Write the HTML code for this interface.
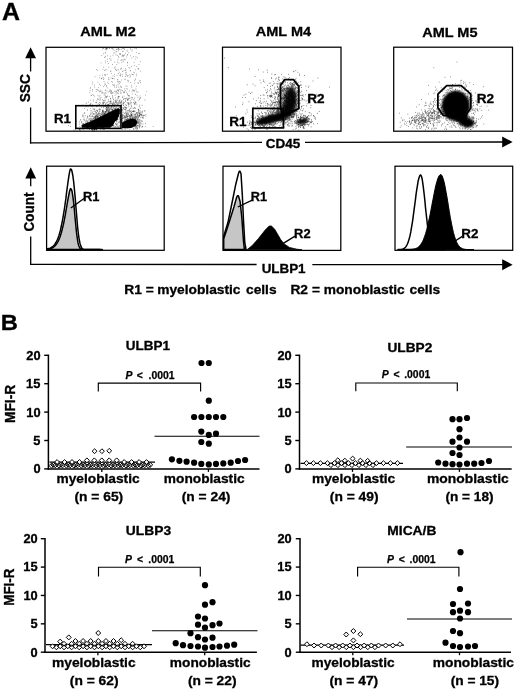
<!DOCTYPE html>
<html><head><meta charset="utf-8"><title>Figure</title>
<style>html,body{margin:0;padding:0;background:#fff}svg{display:block}text{font-family:"Liberation Sans",Arial,Helvetica,sans-serif;font-weight:bold;fill:#000}</style>
</head><body>
<svg width="520" height="689" viewBox="0 0 520 689">
<rect width="520" height="689" fill="#fff"/>
<text transform="translate(2.03,19.5) scale(1.07,1)" font-size="23.29" stroke="#000" stroke-width="0.3">A</text>
<text transform="translate(0.75,330) scale(1.07,1)" font-size="22.22" stroke="#000" stroke-width="0.3">B</text>
<text transform="translate(80.29,36.2) scale(1.07,1)" font-size="13.61" stroke="#000" stroke-width="0.3">AML M2</text>
<text transform="translate(255.79,36.2) scale(1.07,1)" font-size="13.56" stroke="#000" stroke-width="0.3">AML M4</text>
<text transform="translate(422.19,36.6) scale(1.07,1)" font-size="13.56" stroke="#000" stroke-width="0.3">AML M5</text>
<path d="M120.5 115.4h.7M106.9 126.1h.7M109.8 102.1h.7M105.5 126.1h.7M105.2 69.8h.7M118.0 91.2h.7M139.7 96.0h.7M108.1 126.6h.7M129.7 124.9h.7M118.1 122.7h.7M117.6 90.1h.7M91.9 126.3h.7M106.3 85.9h.7M103.8 95.2h.7M118.0 73.6h.7M129.9 100.6h.7M140.0 80.8h.7M126.1 124.9h.7M82.3 123.8h.7M94.4 87.2h.7M99.4 116.0h.7M92.4 94.4h.7M126.9 55.3h.7M117.4 126.3h.7M119.4 89.3h.7M102.5 111.4h.7M89.4 126.9h.7M126.8 124.9h.7M103.7 124.6h.7M116.4 64.5h.7M124.3 98.5h.7M102.8 118.0h.7M100.7 62.9h.7M94.1 123.8h.7M116.3 120.3h.7M106.3 118.9h.7M131.3 112.5h.7M108.0 101.4h.7M135.9 86.4h.7M120.4 75.2h.7M120.0 110.4h.7M92.1 126.3h.7M83.2 123.4h.7M85.3 127.0h.7M133.7 112.9h.7M101.8 92.5h.7M89.8 113.9h.7M108.5 67.2h.7M89.8 105.4h.7M95.7 125.4h.7M96.1 69.6h.7M127.3 54.5h.7M124.1 126.8h.7M118.2 50.9h.7M127.8 112.6h.7M104.7 99.9h.7M129.9 115.0h.7M126.6 50.0h.7M117.5 79.7h.7M84.4 113.4h.7M122.7 118.0h.7M138.4 53.8h.7M104.8 49.6h.7M96.1 112.8h.7M118.2 122.0h.7M104.9 60.9h.7M125.1 73.0h.7M121.2 59.7h.7M101.2 78.5h.7M131.6 74.2h.7M116.4 51.8h.7M122.4 55.0h.7M116.8 123.8h.7M132.9 72.2h.7M113.7 50.6h.7M139.2 124.5h.7M127.2 89.1h.7M135.6 56.7h.7M106.5 69.9h.7M116.5 117.2h.7M89.1 119.0h.7M117.6 59.7h.7M90.7 95.4h.7M126.8 102.5h.7M110.4 100.7h.7M128.8 122.6h.7M124.3 123.0h.7M115.0 97.8h.7M126.4 97.9h.7M127.3 119.6h.7M123.4 102.0h.7M102.8 77.5h.7M119.5 102.2h.7M117.6 84.7h.7M105.0 104.5h.7M122.4 55.6h.7M101.4 55.5h.7M106.8 124.3h.7M83.8 126.1h.7M120.9 87.1h.7M112.3 82.2h.7M120.0 124.1h.7M119.6 54.3h.7M119.5 49.4h.7M111.4 123.4h.7M101.1 114.4h.7M119.0 81.6h.7M103.2 107.4h.7M146.5 91.6h.7M129.6 74.3h.7M81.9 125.3h.7M99.6 75.3h.7M116.7 108.8h.7M100.7 123.9h.7M117.8 96.6h.7M94.3 85.1h.7M121.6 56.1h.7M134.3 72.8h.7M97.9 126.2h.7M117.2 98.1h.7M112.8 118.6h.7M90.6 120.1h.7M98.4 126.5h.7M107.5 116.5h.7M81.3 122.8h.7M125.0 119.5h.7M112.6 98.3h.7M133.3 56.6h.7M131.6 108.0h.7M127.2 110.8h.7M103.9 85.2h.7M134.0 83.2h.7M86.8 110.0h.7M125.1 124.5h.7M86.2 119.2h.7M114.2 68.1h.7M108.6 119.9h.7M96.0 123.6h.7M113.6 53.1h.7M139.1 98.7h.7M82.1 116.2h.7M112.3 111.6h.7M121.5 121.8h.7M81.9 125.7h.7M93.5 126.9h.7M114.7 95.2h.7M111.9 78.5h.7M140.1 111.1h.7M82.5 123.9h.7M132.5 89.7h.7M117.2 62.0h.7M85.1 124.2h.7M121.3 102.3h.7M93.1 95.3h.7M116.1 85.7h.7M86.1 124.4h.7M120.7 68.8h.7M109.2 91.2h.7M95.2 127.0h.7M100.9 78.7h.7M105.6 126.2h.7M97.0 119.4h.7M128.2 80.8h.7M115.7 51.2h.7M115.0 104.4h.7M97.0 89.7h.7M92.3 119.3h.7M116.2 116.5h.7M111.6 118.5h.7M112.4 84.7h.7M91.6 105.5h.7M140.0 61.7h.7M118.1 56.4h.7M130.1 70.6h.7M96.5 106.7h.7M123.4 55.2h.7M117.5 124.1h.7M116.2 70.6h.7M121.5 62.6h.7M85.7 103.8h.7M102.3 103.4h.7M99.1 124.2h.7M129.6 68.2h.7M137.6 68.4h.7M140.1 82.5h.7M105.0 117.4h.7M87.5 118.2h.7M138.0 68.9h.7M111.7 119.6h.7M138.3 122.3h.7M127.1 62.9h.7M128.9 90.9h.7M127.8 81.9h.7M107.0 106.6h.7M92.0 89.6h.7M118.5 57.6h.7M125.8 114.1h.7M126.9 51.2h.7M105.0 116.7h.7M135.3 123.4h.7M135.8 102.9h.7M106.5 48.5h.7M101.1 122.2h.7M95.3 125.7h.7M118.8 96.7h.7M112.6 78.6h.7M104.8 100.7h.7M139.0 126.3h.7M91.3 124.7h.7M95.6 121.2h.7M138.4 110.4h.7M103.4 67.2h.7M123.0 126.9h.7M122.9 61.5h.7M136.5 127.0h.7M125.7 70.0h.7M111.6 125.2h.7M114.2 85.8h.7M117.5 81.6h.7M129.2 98.3h.7M95.9 120.4h.7M96.0 89.5h.7M108.9 119.4h.7M103.6 126.1h.7M99.7 95.4h.7M104.2 93.8h.7M96.7 105.8h.7M99.0 104.7h.7M104.9 53.2h.7M111.4 116.4h.7M103.3 86.6h.7M116.0 87.3h.7M122.4 114.5h.7M114.3 122.0h.7M124.7 79.7h.7M145.6 116.1h.7M126.6 120.5h.7M102.7 117.1h.7M120.8 120.8h.7M115.6 54.8h.7M111.0 121.3h.7M83.5 124.1h.7M128.0 110.8h.7M111.1 48.3h.7M137.2 115.0h.7M124.7 79.0h.7M102.4 111.8h.7M97.1 123.1h.7M136.2 113.6h.7M130.2 121.6h.7M97.0 70.4h.7M136.5 104.8h.7M134.8 122.2h.7M129.3 126.8h.7M94.7 76.7h.7M135.5 126.3h.7M121.0 119.2h.7M103.9 118.3h.7M126.2 92.2h.7M82.3 115.8h.7M99.3 77.9h.7M108.5 126.9h.7M103.3 53.7h.7M108.1 111.3h.7M122.6 103.2h.7M134.8 79.8h.7M112.6 76.0h.7M122.2 113.0h.7M125.8 125.9h.7M83.1 119.7h.7M139.9 98.2h.7M118.5 63.0h.7M123.1 125.5h.7M108.1 106.9h.7M119.8 91.9h.7M113.8 78.8h.7M121.2 68.2h.7M106.3 112.2h.7M95.3 121.9h.7M99.6 123.7h.7M106.8 110.6h.7M130.5 102.1h.7M125.9 88.7h.7M125.0 70.7h.7M110.6 59.2h.7M139.3 124.9h.7M97.6 95.4h.7M128.5 106.7h.7M124.0 55.2h.7M108.0 92.0h.7M95.4 124.2h.7M131.9 93.9h.7M100.3 121.7h.7M106.2 86.2h.7M106.0 121.7h.7M113.3 125.4h.7M97.7 90.1h.7M105.1 84.4h.7M110.0 116.4h.7M102.8 116.1h.7M126.9 65.4h.7M125.2 112.8h.7M135.0 121.7h.7M90.3 108.6h.7M85.7 105.8h.7M128.1 98.3h.7M124.7 59.7h.7M118.6 112.4h.7M121.7 100.9h.7M129.0 125.2h.7M105.0 52.4h.7M116.8 55.5h.7M136.9 57.7h.7M115.3 91.9h.7M113.0 123.5h.7M128.6 67.5h.7M104.5 122.6h.7M92.9 101.2h.7M114.2 119.7h.7M112.0 97.3h.7M124.1 126.7h.7M125.2 98.4h.7M116.4 116.4h.7M99.5 108.5h.7M115.0 126.9h.7M127.9 103.5h.7M102.0 75.2h.7M92.3 104.9h.7M109.3 108.1h.7M121.0 101.8h.7M113.1 125.9h.7M93.5 126.4h.7M129.1 111.9h.7M134.5 48.5h.7M140.2 71.2h.7M119.8 103.4h.7M114.1 74.3h.7M125.9 126.2h.7M106.5 123.5h.7M135.7 124.1h.7M109.4 58.5h.7M87.9 102.2h.7M137.1 122.6h.7M125.6 86.0h.7M131.6 125.0h.7M134.4 90.4h.7M118.3 97.9h.7M118.0 48.9h.7M108.6 110.8h.7M128.4 95.9h.7M126.5 107.3h.7M152.8 126.5h.7M129.0 119.3h.7M90.1 87.6h.7M117.2 126.8h.7M110.9 108.0h.7M107.2 61.5h.7M89.8 88.7h.7M103.6 113.4h.7M103.0 120.8h.7M95.9 91.6h.7M105.0 56.3h.7M105.2 125.5h.7M112.2 64.5h.7M116.4 127.0h.7M122.0 97.3h.7M111.8 107.1h.7M120.6 60.5h.7M87.1 109.9h.7M119.6 75.3h.7M107.2 55.8h.7M105.7 93.1h.7M119.8 89.9h.7M134.5 116.8h.7M125.5 74.9h.7M109.5 127.0h.7M103.3 79.5h.7M81.9 125.3h.7M96.8 114.7h.7M113.8 84.4h.7M129.6 98.1h.7M121.4 100.7h.7M136.0 52.6h.7M93.7 126.9h.7M108.2 79.2h.7M135.2 79.0h.7M135.6 115.1h.7M98.4 90.9h.7M82.6 105.2h.7M99.1 84.2h.7M98.8 96.6h.7M136.3 91.7h.7M86.3 124.0h.7M104.5 57.3h.7M122.0 126.8h.7M122.3 90.6h.7M121.0 80.0h.7M123.7 112.9h.7M83.3 126.2h.7M124.6 59.1h.7M131.6 125.1h.7M122.2 71.6h.7M116.8 70.0h.7M116.5 125.5h.7M106.1 121.7h.7M96.5 126.9h.7M107.4 82.3h.7M128.1 52.8h.7M106.1 126.8h.7M126.9 76.0h.7M133.5 99.5h.7M94.6 125.7h.7M92.4 123.1h.7M129.6 77.2h.7M113.7 103.4h.7M101.3 122.5h.7M138.4 69.2h.7M123.1 117.7h.7M120.9 102.8h.7M102.1 125.9h.7M109.9 91.2h.7M90.5 110.7h.7M119.6 125.8h.7M112.6 118.8h.7M134.6 102.6h.7M112.8 120.3h.7M110.6 78.1h.7M131.8 115.2h.7M106.9 87.8h.7M127.2 123.1h.7M112.3 95.8h.7M105.3 62.8h.7M115.8 116.7h.7M99.9 123.6h.7M104.2 100.8h.7M104.0 122.3h.7M139.2 80.9h.7M140.0 125.4h.7M111.0 73.5h.7M99.9 90.2h.7M106.4 111.2h.7M120.2 74.0h.7M106.6 102.6h.7M127.4 93.5h.7M122.5 60.0h.7M103.6 78.7h.7M117.7 81.6h.7M126.9 75.9h.7M105.5 89.9h.7M110.8 91.2h.7M104.2 74.9h.7M111.0 91.0h.7M96.7 106.3h.7M126.3 57.1h.7M116.7 75.4h.7M122.3 51.4h.7M121.7 123.5h.7M130.0 55.8h.7M123.4 99.2h.7M120.7 101.7h.7M98.5 109.6h.7M92.6 121.4h.7M125.1 124.8h.7M98.8 113.4h.7M107.6 110.4h.7M106.4 108.9h.7M119.5 120.8h.7M123.2 55.9h.7M90.9 110.9h.7M136.3 75.6h.7M118.3 90.6h.7M99.1 120.7h.7M129.8 70.8h.7M115.7 105.3h.7M93.7 124.7h.7M96.5 118.6h.7M84.3 108.5h.7M103.7 81.6h.7M107.2 116.7h.7M133.3 90.3h.7M114.7 112.9h.7M115.1 69.7h.7M133.0 74.8h.7M89.7 90.7h.7M120.1 54.4h.7M127.3 124.1h.7M135.4 114.0h.7M135.9 73.9h.7M120.3 93.1h.7M120.8 87.2h.7M85.1 122.0h.7M90.0 100.1h.7M99.7 98.0h.7M83.4 124.2h.7M112.5 105.3h.7M123.2 102.8h.7M133.9 65.5h.7M100.7 105.3h.7M138.7 112.1h.7M87.0 126.0h.7M120.8 90.4h.7M100.0 85.7h.7M135.4 101.8h.7M144.9 126.7h.7M133.8 91.4h.7M113.5 112.7h.7M114.0 76.3h.7M117.5 108.7h.7M118.1 69.7h.7M101.2 118.4h.7M122.7 51.3h.7M116.7 115.8h.7M104.9 90.5h.7M123.3 126.7h.7M79.5 126.5h.7M99.2 122.3h.7M121.1 93.0h.7M89.4 92.7h.7M100.3 91.3h.7M99.0 121.3h.7M119.4 106.1h.7M115.3 126.7h.7M107.1 59.2h.7M132.0 74.5h.7M106.4 119.1h.7M119.9 115.7h.7M122.7 56.7h.7M129.3 126.7h.7M112.4 96.1h.7M112.9 111.3h.7M110.1 56.2h.7M112.4 125.4h.7M81.5 121.3h.7M136.5 127.0h.7M135.4 125.7h.7M123.8 124.6h.7M112.7 119.9h.7M120.3 75.9h.7M130.9 66.4h.7M137.6 82.9h.7M120.7 119.3h.7M92.2 82.1h.7M124.1 88.9h.7M134.2 80.8h.7M105.9 103.8h.7M123.7 96.2h.7M116.2 124.0h.7M102.5 112.9h.7M102.3 111.4h.7M112.7 55.3h.7M105.3 126.3h.7M108.4 83.6h.7M131.6 51.0h.7M110.9 93.7h.7M127.1 62.4h.7M118.1 93.7h.7M105.2 127.0h.7M105.2 95.1h.7M133.7 62.5h.7M110.1 71.6h.7M114.8 66.9h.7M113.0 85.5h.7M118.3 98.1h.7M119.9 121.9h.7M111.1 93.2h.7M99.3 105.5h.7M112.2 78.4h.7M118.8 72.2h.7M133.6 120.4h.7M118.5 100.9h.7M91.3 122.3h.7M119.2 83.8h.7M96.0 110.2h.7M140.8 123.9h.7M119.7 112.2h.7M121.9 74.4h.7M115.2 114.1h.7M121.1 49.3h.7M111.6 103.8h.7M135.0 108.5h.7M125.1 76.6h.7M90.3 126.7h.7M113.7 125.8h.7M138.6 64.6h.7M123.6 59.7h.7M138.7 110.5h.7M108.7 119.1h.7M109.5 89.9h.7M139.1 106.8h.7M102.2 49.1h.7M135.2 119.2h.7M110.6 60.4h.7M105.0 126.6h.7M106.3 49.9h.7M101.5 78.0h.7M120.3 86.3h.7M108.4 77.7h.7M110.0 119.2h.7M88.8 123.2h.7M126.7 86.2h.7M136.6 122.1h.7M130.1 121.0h.7M85.7 124.2h.7M104.6 57.3h.7M106.7 91.1h.7M123.8 70.3h.7M83.3 124.1h.7M130.2 82.5h.7M90.6 118.7h.7M132.8 118.4h.7M111.2 114.7h.7M139.5 115.7h.7M135.7 126.4h.7M114.4 87.2h.7M93.6 117.6h.7M142.0 112.8h.7M134.6 125.5h.7M109.7 126.4h.7M135.7 117.2h.7M82.6 114.3h.7M120.0 69.2h.7M135.7 122.5h.7M116.4 121.1h.7M122.3 76.3h.7M85.7 122.0h.7M102.8 93.0h.7M104.2 121.6h.7M91.3 95.4h.7M127.4 80.4h.7M85.3 126.4h.7M121.9 114.7h.7M97.7 126.9h.7M112.3 104.6h.7M102.6 69.3h.7M120.4 112.3h.7M94.0 127.0h.7M115.9 124.8h.7M110.6 71.0h.7M130.8 111.7h.7M125.8 126.3h.7M109.4 101.6h.7M139.2 99.5h.7M86.9 120.8h.7M117.1 119.5h.7M91.9 84.0h.7M115.6 93.9h.7M133.7 100.8h.7M97.6 82.1h.7M128.6 103.2h.7M105.6 117.9h.7M115.4 124.3h.7M109.0 96.4h.7M123.2 123.3h.7M107.6 108.9h.7M137.8 100.5h.7M104.8 75.6h.7M139.9 114.7h.7M125.8 72.4h.7M85.1 126.5h.7M120.3 53.6h.7M116.6 90.7h.7M110.4 126.2h.7M139.1 126.9h.7M128.5 75.6h.7M133.4 90.7h.7M90.6 126.7h.7M108.7 118.7h.7M131.6 57.9h.7M80.5 119.5h.7M120.1 117.5h.7M124.2 124.8h.7M119.0 53.8h.7M93.3 99.8h.7M104.6 124.5h.7M86.9 117.5h.7M127.6 98.7h.7M110.1 92.9h.7M118.5 82.8h.7M104.8 92.6h.7M111.7 119.9h.7M105.0 111.5h.7M132.4 127.0h.7M99.8 120.1h.7M131.8 49.7h.7M133.1 123.5h.7M106.4 107.4h.7M113.3 107.4h.7M138.5 125.2h.7M108.6 79.8h.7M92.7 113.6h.7M104.2 70.5h.7M117.3 79.8h.7M105.1 74.7h.7M135.4 59.1h.7M95.8 127.0h.7M114.6 52.9h.7M124.8 109.1h.7M109.7 111.8h.7M110.9 81.5h.7M104.5 97.9h.7M106.8 74.4h.7M95.9 102.7h.7M115.9 116.6h.7M136.7 95.6h.7M129.4 115.4h.7M135.6 121.7h.7M114.0 127.0h.7M86.4 102.9h.7M130.2 76.0h.7M113.4 101.2h.7M117.7 111.1h.7M104.6 113.7h.7M104.1 125.5h.7M100.8 97.4h.7M108.0 63.5h.7M116.0 91.5h.7M115.1 114.2h.7M104.1 115.7h.7M135.0 69.9h.7M131.4 85.0h.7M116.1 49.3h.7M115.1 117.4h.7M95.9 102.3h.7M92.3 91.0h.7M110.5 90.3h.7M126.4 74.4h.7M131.2 127.0h.7M145.1 95.1h.7M113.9 122.0h.7M65.7 118.7h.7M94.1 96.2h.7M101.1 123.6h.7M90.0 125.2h.7M96.6 100.8h.7M126.8 126.3h.7M95.8 115.4h.7M98.3 113.5h.7M98.9 125.4h.7M87.7 106.7h.7M114.5 62.1h.7M125.2 53.3h.7M136.9 119.6h.7M136.4 66.5h.7M122.5 71.1h.7M138.9 53.3h.7M124.1 119.9h.7M133.5 120.9h.7M113.5 104.0h.7M139.3 113.2h.7M119.7 117.3h.7M99.6 125.0h.7M130.2 126.2h.7M93.9 113.7h.7M83.7 117.7h.7M97.9 87.6h.7M104.6 83.3h.7M115.5 68.9h.7M125.1 68.7h.7M124.1 123.5h.7" stroke="#555" stroke-width="0.65" fill="none" opacity="1"/>
<path d="M113.0 125.2h.7M93.3 122.3h.7M95.9 121.9h.7M97.1 116.4h.7M110.8 109.3h.7M96.8 123.6h.7M94.3 119.6h.7M104.0 115.0h.7M87.4 124.8h.7M102.4 127.0h.7M91.4 128.6h.7M91.8 121.2h.7M98.1 121.4h.7M114.0 121.3h.7M97.1 127.7h.7M113.4 116.6h.7M94.8 126.5h.7M100.6 120.6h.7M99.6 122.8h.7M115.4 117.3h.7M101.0 123.9h.7M114.5 106.6h.7M113.8 104.8h.7M108.1 118.1h.7M117.5 111.6h.7M94.1 117.7h.7M89.3 128.6h.7M96.9 116.7h.7M105.0 112.3h.7M95.3 118.9h.7M121.9 115.8h.7M95.9 112.6h.7M104.1 117.3h.7M106.0 119.0h.7M99.6 124.2h.7M110.4 114.9h.7M95.6 118.7h.7M106.0 110.0h.7M97.7 116.2h.7M87.4 128.7h.7M100.8 118.8h.7M107.1 107.4h.7M100.9 120.1h.7M107.5 109.3h.7M109.1 115.5h.7M118.0 116.0h.7M111.6 124.7h.7M100.1 116.7h.7M95.3 116.3h.7M96.6 110.6h.7M101.0 120.8h.7M110.9 111.6h.7M114.4 108.2h.7M95.5 111.2h.7M91.1 119.2h.7M117.7 112.8h.7M90.6 126.6h.7M105.5 115.0h.7M100.6 117.1h.7M91.6 114.0h.7M102.8 124.3h.7M115.4 109.7h.7M92.7 121.6h.7M111.1 115.2h.7M95.7 123.1h.7M99.9 121.7h.7M93.6 114.5h.7M103.2 121.4h.7M89.2 123.9h.7M109.4 112.3h.7M111.8 118.4h.7M82.6 125.1h.7M111.5 120.1h.7M89.9 120.7h.7M99.0 109.4h.7M108.8 117.5h.7M97.5 123.1h.7M109.7 115.7h.7M109.6 122.0h.7M96.4 121.7h.7M97.8 125.6h.7M97.8 122.6h.7M102.6 118.1h.7M118.6 109.1h.7M117.4 114.5h.7M114.3 110.9h.7M112.2 116.8h.7M95.2 122.8h.7M99.6 119.0h.7M112.9 108.7h.7M79.9 120.1h.7M95.0 118.2h.7M102.3 120.8h.7M119.8 110.5h.7M104.2 113.0h.7M109.8 121.1h.7M110.7 103.4h.7M113.5 120.4h.7M106.4 108.0h.7M99.1 122.5h.7M103.6 113.0h.7M93.8 127.1h.7M101.8 119.6h.7M86.0 123.0h.7M105.0 108.8h.7M119.4 101.9h.7M88.5 125.1h.7M107.5 119.0h.7M96.7 119.6h.7M97.4 117.4h.7M103.9 117.8h.7M95.1 122.8h.7M100.7 118.3h.7M108.8 105.6h.7M101.4 112.8h.7M100.9 126.3h.7M89.7 123.7h.7M96.9 125.5h.7M87.4 116.7h.7M105.5 114.4h.7M100.0 124.6h.7M91.1 121.6h.7M103.4 119.4h.7M97.9 125.5h.7M123.2 105.1h.7M115.8 100.1h.7M114.7 109.7h.7M101.7 116.4h.7M91.8 116.6h.7M99.7 125.9h.7M112.0 111.1h.7M94.1 118.4h.7M108.1 115.5h.7M93.8 116.9h.7M116.2 114.8h.7M93.3 127.5h.7M91.0 126.9h.7M90.3 121.8h.7M107.0 117.7h.7M109.6 109.8h.7M120.0 115.8h.7M101.9 120.5h.7M92.7 121.9h.7M87.6 125.8h.7M105.9 123.0h.7M112.4 116.9h.7M96.8 119.5h.7M98.0 121.2h.7M83.8 124.6h.7M100.2 116.3h.7M117.9 109.4h.7M119.6 115.1h.7M96.7 122.7h.7M113.6 110.4h.7M100.7 115.7h.7M100.9 116.7h.7M103.9 122.2h.7M115.6 111.8h.7M104.9 121.0h.7M95.8 115.7h.7M110.5 108.9h.7M108.5 109.7h.7M117.6 104.7h.7M112.8 120.2h.7M94.2 129.6h.7M88.9 115.5h.7M109.9 117.6h.7M93.6 109.2h.7M99.8 117.5h.7M96.5 119.3h.7M81.4 125.5h.7M122.7 115.5h.7M95.8 117.5h.7M107.3 120.8h.7M106.0 109.9h.7M103.0 118.2h.7M118.3 115.9h.7M108.9 120.8h.7M100.2 126.9h.7M97.5 122.3h.7M108.5 110.0h.7M90.1 114.9h.7M102.6 117.4h.7M98.7 122.3h.7M79.2 129.4h.7M101.3 117.0h.7M112.8 121.6h.7M94.5 117.0h.7M95.0 122.0h.7M105.2 111.9h.7M109.1 109.1h.7M110.4 115.9h.7M110.3 124.9h.7M97.9 119.2h.7M107.7 119.6h.7M87.8 126.6h.7M94.7 125.0h.7M115.2 111.6h.7M100.3 119.8h.7M107.1 116.2h.7M95.4 117.6h.7M101.7 124.4h.7M102.8 124.6h.7M73.6 130.0h.7M103.8 117.0h.7M82.6 124.4h.7M111.1 106.7h.7M88.5 119.2h.7M96.7 124.0h.7M102.9 107.1h.7M114.8 108.5h.7M98.4 128.4h.7M97.6 113.8h.7M92.9 118.8h.7M89.9 122.4h.7M110.7 115.4h.7M91.1 124.1h.7M102.9 121.5h.7M98.6 122.1h.7M122.8 107.9h.7M90.6 125.5h.7M92.0 121.2h.7M103.6 118.9h.7M99.8 123.5h.7M96.3 114.1h.7M109.3 112.4h.7M112.1 109.5h.7M107.5 116.8h.7M70.2 126.4h.7M92.4 130.1h.7M113.3 114.8h.7M106.9 112.9h.7M101.4 119.5h.7M106.8 119.2h.7M97.4 116.7h.7M96.1 123.1h.7M81.3 122.0h.7M95.6 118.4h.7M92.7 109.0h.7M97.0 119.2h.7M104.8 106.3h.7M98.8 122.0h.7M108.5 120.9h.7M109.7 108.7h.7M106.8 113.8h.7M96.0 129.0h.7M92.7 118.3h.7M95.0 117.1h.7M112.1 114.8h.7M116.3 112.9h.7M96.9 126.0h.7M93.3 120.0h.7M99.4 119.5h.7M112.0 109.8h.7M104.6 116.5h.7M85.8 120.6h.7M99.6 121.3h.7M105.3 118.8h.7M100.6 116.4h.7M103.3 112.1h.7M86.5 124.2h.7M85.2 123.9h.7M92.1 120.1h.7M98.9 115.4h.7M93.1 113.7h.7M100.7 114.1h.7M99.2 104.7h.7M93.2 123.7h.7M75.1 129.8h.7M102.2 118.4h.7M86.0 127.3h.7M100.5 113.7h.7M108.6 114.4h.7M100.2 116.5h.7M106.9 116.0h.7M113.7 114.4h.7M94.2 120.8h.7M109.7 112.2h.7M106.0 118.6h.7M94.3 109.8h.7M102.8 118.7h.7M100.8 114.6h.7M113.2 111.6h.7M93.0 118.8h.7M102.4 112.1h.7M116.8 116.0h.7M116.4 113.8h.7M114.9 114.0h.7M114.1 109.3h.7M104.0 121.0h.7M102.4 123.5h.7M103.3 120.9h.7M98.8 111.9h.7M106.7 122.5h.7M116.4 119.6h.7M105.5 113.1h.7M97.1 110.4h.7M101.0 123.3h.7M112.3 119.7h.7M90.0 120.7h.7M79.4 124.2h.7M110.9 124.3h.7M104.4 114.2h.7M118.5 96.5h.7M100.8 119.8h.7M126.9 114.7h.7M124.8 107.1h.7M114.1 119.0h.7M107.1 117.3h.7M98.2 117.8h.7M92.0 112.2h.7M103.7 117.0h.7M106.7 125.1h.7M99.3 118.0h.7M93.2 122.4h.7M96.9 121.7h.7M134.3 103.6h.7M111.7 117.3h.7M110.2 118.1h.7M111.0 120.8h.7M114.3 118.8h.7M95.8 121.1h.7M95.4 126.3h.7M108.7 112.2h.7M112.6 126.3h.7M111.5 107.3h.7M101.4 121.6h.7M101.4 120.3h.7M114.0 113.6h.7M91.1 127.3h.7M100.2 119.5h.7M92.2 115.7h.7M87.3 123.6h.7M84.1 112.8h.7M110.5 107.6h.7M94.6 124.6h.7M94.4 125.3h.7M96.6 122.3h.7M102.1 117.9h.7M78.9 122.0h.7M103.6 124.6h.7M96.4 123.6h.7M103.7 119.7h.7M108.2 107.0h.7M103.5 116.3h.7M95.9 116.6h.7M90.6 118.4h.7M118.7 109.5h.7M106.7 110.5h.7M68.1 125.6h.7M105.5 123.8h.7M98.4 114.6h.7M96.4 115.6h.7M86.0 124.9h.7M95.1 117.2h.7M89.8 119.3h.7M106.4 123.1h.7M103.5 128.9h.7M84.7 128.2h.7M88.6 124.0h.7M103.2 120.3h.7M111.6 110.2h.7M87.6 124.3h.7M102.6 114.0h.7M113.9 120.8h.7M86.9 127.5h.7M107.5 105.1h.7M102.7 116.5h.7M102.3 115.4h.7M107.0 118.8h.7M110.3 116.8h.7M102.8 111.4h.7M96.9 121.3h.7M94.8 116.1h.7M82.6 129.2h.7M100.1 115.9h.7M94.8 117.0h.7M93.0 122.1h.7M95.7 124.7h.7M99.8 119.8h.7M107.9 121.7h.7M107.8 116.3h.7M97.6 116.0h.7M98.9 123.2h.7M102.5 115.7h.7M83.9 119.2h.7M106.5 121.1h.7M102.0 110.8h.7M99.3 120.6h.7M92.2 124.8h.7M97.1 116.1h.7M89.8 128.5h.7M102.8 112.9h.7M92.3 127.6h.7M106.6 114.1h.7M117.0 108.9h.7M92.3 128.6h.7M99.8 120.9h.7M99.3 114.1h.7M88.2 124.0h.7M113.5 106.9h.7M115.6 112.2h.7M90.0 125.5h.7M105.0 111.8h.7M90.4 126.2h.7M80.8 128.0h.7M89.4 116.6h.7M98.9 120.5h.7M92.7 116.5h.7M99.5 110.1h.7M107.6 117.7h.7M120.3 113.3h.7M105.2 117.7h.7M98.5 112.8h.7M117.3 113.0h.7M95.6 115.2h.7M117.6 112.9h.7M90.1 127.6h.7M120.7 108.4h.7M104.3 114.7h.7M96.7 126.3h.7M133.3 102.7h.7M101.4 122.5h.7M99.4 123.1h.7M107.5 109.9h.7M89.7 123.9h.7M110.2 115.3h.7M111.0 106.2h.7M104.8 113.3h.7M102.7 119.3h.7M90.4 122.7h.7M89.5 125.7h.7M91.1 120.9h.7M101.9 114.6h.7M111.6 109.8h.7M110.4 115.2h.7M89.8 123.0h.7M91.6 121.4h.7M102.0 127.5h.7M100.0 127.2h.7M102.9 110.7h.7M112.5 114.7h.7M98.3 118.6h.7M103.0 115.9h.7M94.7 119.8h.7M111.8 109.8h.7M102.5 111.7h.7M90.7 116.6h.7M100.4 122.4h.7M103.1 114.9h.7M106.6 113.8h.7M105.4 117.7h.7M101.4 105.4h.7M89.1 128.6h.7M104.6 128.4h.7M97.4 117.5h.7M117.6 112.9h.7M121.7 110.6h.7M100.4 122.6h.7M91.9 120.8h.7M94.8 120.5h.7M108.0 112.4h.7M103.3 114.7h.7M104.3 102.5h.7M99.2 120.3h.7M92.0 128.4h.7M105.9 122.7h.7M112.3 116.1h.7M97.2 114.8h.7M97.8 117.8h.7M102.6 115.3h.7M129.2 95.8h.7M112.2 110.4h.7M100.4 123.6h.7M98.5 113.5h.7M104.9 115.5h.7M80.1 130.1h.7M88.5 121.0h.7M106.6 117.2h.7M102.6 129.0h.7M104.0 113.8h.7M103.2 116.8h.7M74.9 123.6h.7M98.5 118.3h.7M97.2 125.5h.7M104.9 125.4h.7M112.6 121.2h.7M100.6 120.7h.7M96.2 120.1h.7M81.9 125.2h.7M89.8 120.8h.7M114.1 113.2h.7M115.4 115.6h.7M112.6 117.8h.7M129.2 125.5h.7M128.1 119.2h.7M142.1 126.3h.7M134.0 114.7h.7M133.3 121.3h.7M132.4 118.0h.7M123.8 124.1h.7M137.4 121.4h.7M136.9 123.3h.7M125.3 123.0h.7M134.9 123.7h.7M132.9 122.2h.7M136.0 128.9h.7M118.6 126.3h.7M145.4 114.7h.7M120.9 126.0h.7M121.6 121.6h.7M135.7 127.0h.7M135.0 122.0h.7M137.1 118.6h.7M126.0 122.4h.7M132.3 118.4h.7M126.5 120.8h.7M120.5 120.3h.7M129.8 119.2h.7M134.0 126.2h.7M132.6 119.6h.7M122.2 119.2h.7M131.4 115.8h.7M131.3 114.9h.7M131.6 119.8h.7M135.8 116.2h.7M129.4 122.5h.7M134.7 127.4h.7M128.5 119.0h.7M130.2 123.3h.7M133.7 122.7h.7M141.3 115.4h.7M124.5 124.4h.7M128.9 110.1h.7M128.1 114.3h.7M136.4 125.0h.7M133.8 111.4h.7M140.6 120.5h.7M130.0 123.6h.7M138.9 115.0h.7M129.8 118.2h.7M133.2 108.4h.7M137.1 112.6h.7M133.0 111.2h.7M124.5 120.6h.7M132.4 111.5h.7M133.1 116.2h.7M137.4 115.8h.7M133.4 118.5h.7M140.4 114.1h.7M134.8 128.8h.7M132.8 123.1h.7M127.2 123.3h.7M118.4 127.1h.7M124.3 116.0h.7M125.3 129.1h.7M130.4 113.0h.7M139.8 112.7h.7M129.4 122.5h.7M121.3 116.9h.7M129.2 127.4h.7M133.2 111.3h.7M137.8 117.4h.7M133.9 119.4h.7M131.3 115.2h.7M124.5 120.0h.7M130.2 124.1h.7M126.3 119.8h.7M135.8 120.4h.7M126.9 117.0h.7M122.2 116.6h.7M139.6 121.9h.7M142.5 117.5h.7M134.4 122.7h.7M135.8 116.8h.7M137.3 128.5h.7M118.6 119.3h.7M127.1 126.3h.7M137.0 115.9h.7M134.7 118.5h.7M131.6 117.4h.7M130.8 120.6h.7M141.9 126.7h.7M121.8 127.7h.7M132.9 124.5h.7M138.6 120.9h.7M133.6 114.3h.7M135.9 113.2h.7M139.6 119.8h.7M127.8 128.0h.7M125.7 119.3h.7M121.9 123.8h.7M135.4 114.9h.7M142.8 118.3h.7M125.5 116.9h.7M122.9 127.3h.7M136.2 112.5h.7M130.4 119.3h.7M130.6 123.3h.7M141.5 112.1h.7M138.0 122.7h.7M129.1 120.7h.7M125.6 128.6h.7M126.7 119.2h.7M129.7 116.7h.7M124.5 122.1h.7M139.0 115.6h.7M131.0 113.0h.7M125.7 115.2h.7M131.6 123.3h.7M119.5 121.5h.7M130.6 115.9h.7M137.4 122.3h.7M132.6 117.5h.7M129.5 118.0h.7M130.9 122.2h.7M131.3 125.4h.7M144.6 111.1h.7M134.6 123.0h.7M134.2 117.7h.7M130.3 126.0h.7M135.6 120.9h.7M127.7 125.3h.7M135.1 117.6h.7M139.0 127.8h.7M121.6 128.2h.7M121.6 118.0h.7M130.8 123.4h.7M128.9 115.5h.7M121.7 122.1h.7M129.4 117.0h.7M125.9 122.1h.7M126.7 119.6h.7M130.6 119.1h.7M132.1 113.9h.7M132.1 123.9h.7M138.8 119.6h.7M128.1 113.9h.7M123.9 129.0h.7M136.0 121.0h.7M117.3 116.1h.7M122.6 118.4h.7M129.8 115.8h.7M138.7 113.6h.7M129.6 125.7h.7M131.0 115.8h.7M139.5 126.3h.7M123.5 122.8h.7M121.0 115.3h.7M136.0 121.7h.7M137.4 119.6h.7M119.5 125.9h.7M124.8 117.4h.7M126.3 126.7h.7M133.3 129.6h.7M129.8 111.2h.7M138.6 123.3h.7M128.7 115.3h.7M138.4 110.1h.7M126.7 112.7h.7M120.4 116.8h.7M139.6 122.5h.7M125.9 115.9h.7M131.4 122.3h.7M120.0 119.8h.7M131.8 123.7h.7M132.3 122.2h.7M118.8 113.5h.7M130.9 115.8h.7M129.5 119.3h.7M132.2 115.9h.7M139.3 116.6h.7M135.3 121.7h.7M137.7 119.3h.7M119.7 122.7h.7M142.6 117.4h.7M135.2 120.9h.7M126.0 119.4h.7M129.7 127.2h.7M136.7 127.0h.7M137.7 127.1h.7M131.2 114.2h.7M141.7 117.1h.7M138.3 118.1h.7M129.5 122.1h.7M122.1 118.5h.7M124.8 120.7h.7M123.0 123.8h.7M136.9 128.3h.7M141.5 115.2h.7M135.6 117.1h.7M133.2 119.3h.7M128.0 122.3h.7M123.4 126.5h.7M127.1 116.7h.7M130.1 123.9h.7M128.1 124.4h.7M137.5 125.5h.7M124.5 123.1h.7M137.0 125.5h.7M134.1 123.0h.7M121.3 122.1h.7M140.0 114.7h.7M142.0 111.4h.7M126.1 114.5h.7M135.2 119.9h.7M143.0 115.6h.7M126.7 115.2h.7M132.5 124.8h.7M137.8 123.7h.7M135.9 117.9h.7M134.8 119.5h.7M131.0 115.0h.7M133.8 120.7h.7M139.7 123.9h.7M137.9 112.2h.7M120.8 126.9h.7M133.7 121.1h.7M123.6 121.6h.7M133.7 123.1h.7M144.3 115.6h.7M122.6 112.1h.7M137.0 116.9h.7M128.3 116.6h.7M131.5 110.8h.7M131.9 120.7h.7M135.4 125.2h.7M130.6 121.2h.7M132.8 111.5h.7M129.4 121.6h.7M134.9 114.4h.7M136.5 119.9h.7M119.3 118.3h.7M123.0 125.1h.7M133.7 123.0h.7M134.6 115.8h.7M138.9 121.0h.7M134.7 121.2h.7M124.3 125.7h.7M122.5 118.3h.7M129.3 122.1h.7M130.0 119.2h.7M125.6 124.1h.7M123.8 116.5h.7M134.6 126.5h.7M126.4 117.1h.7M142.6 124.0h.7M128.8 120.4h.7M133.8 124.4h.7M129.8 111.4h.7M122.0 118.3h.7M133.7 119.7h.7M140.9 114.3h.7M133.0 120.0h.7M136.6 130.1h.7M135.7 126.0h.7M137.3 114.2h.7M134.2 116.9h.7M132.0 120.9h.7M130.1 118.4h.7M139.5 115.0h.7M138.6 125.8h.7M136.8 123.2h.7M141.4 121.3h.7M138.1 109.5h.7M142.5 115.1h.7M119.5 122.7h.7M122.8 124.3h.7M120.2 120.4h.7M133.1 120.3h.7M125.9 121.7h.7M130.6 121.1h.7M130.5 119.6h.7M132.8 111.1h.7M128.4 122.5h.7M127.5 119.2h.7M128.9 122.6h.7M137.9 116.2h.7M130.2 122.8h.7M125.6 112.8h.7M131.8 118.1h.7M129.0 124.8h.7M130.1 117.9h.7M114.7 119.2h.7M130.8 120.0h.7M134.0 120.2h.7M125.6 116.4h.7M124.3 123.0h.7M125.9 127.0h.7M119.5 116.5h.7M126.2 113.4h.7M138.5 111.6h.7M130.2 119.6h.7M122.5 115.2h.7M121.9 129.5h.7M141.5 127.0h.7M123.6 127.1h.7M132.7 124.2h.7M129.5 125.1h.7M137.5 120.6h.7M139.1 115.7h.7M138.6 113.1h.7M135.0 103.9h.7M129.4 117.0h.7M133.2 125.0h.7M135.4 118.9h.7M137.9 109.3h.7M129.4 129.3h.7M128.6 110.6h.7M130.5 114.4h.7M142.0 121.3h.7M130.5 127.6h.7M128.0 126.8h.7M134.1 118.3h.7M122.1 123.3h.7M116.4 124.5h.7M120.3 112.7h.7M135.2 120.4h.7M135.7 118.6h.7M121.1 109.5h.7M135.8 123.3h.7M124.6 116.1h.7M127.3 113.4h.7M132.7 123.8h.7M140.4 117.4h.7M133.7 123.2h.7M138.5 115.2h.7M122.2 120.6h.7M121.8 120.2h.7M131.0 122.3h.7M132.1 120.4h.7M129.8 123.3h.7M137.8 121.3h.7M139.2 115.0h.7M133.1 128.5h.7M133.0 121.7h.7M131.1 125.6h.7M126.5 117.3h.7M129.7 118.8h.7M135.1 116.5h.7M131.3 119.2h.7M131.7 116.8h.7M134.5 111.2h.7M127.3 118.5h.7M134.9 118.8h.7M133.1 117.7h.7M124.5 117.7h.7M127.9 119.1h.7M133.4 121.2h.7M136.5 117.3h.7M124.4 118.0h.7M132.1 121.9h.7M142.8 115.8h.7M145.2 123.6h.7M127.4 128.7h.7M140.5 123.1h.7M132.9 124.7h.7M128.0 121.6h.7M134.8 128.2h.7M131.7 125.2h.7M113.1 102.3h.7M118.6 112.1h.7M106.7 115.6h.7M103.1 104.0h.7M116.2 105.4h.7M97.9 99.3h.7M114.9 109.8h.7M108.7 111.2h.7M96.0 116.9h.7M119.8 108.5h.7M106.6 111.0h.7M118.1 115.7h.7M118.0 108.9h.7M107.1 117.4h.7M127.4 99.7h.7M122.7 107.9h.7M110.4 98.4h.7M131.4 87.0h.7M116.9 104.0h.7M127.2 100.4h.7M115.9 112.5h.7M118.4 102.3h.7M123.4 108.4h.7M125.1 100.3h.7M112.5 105.2h.7M104.2 113.2h.7M122.4 117.3h.7M110.9 112.2h.7M127.9 102.7h.7M115.1 108.8h.7M103.1 103.1h.7M128.2 105.0h.7M110.1 98.8h.7M118.2 116.5h.7M97.7 105.6h.7M131.1 114.7h.7M131.9 97.8h.7M119.7 100.0h.7M119.6 103.2h.7M119.6 117.5h.7M117.6 104.9h.7M115.3 109.8h.7M108.1 111.5h.7M125.1 117.6h.7M85.7 106.8h.7M100.8 119.4h.7M144.6 100.1h.7M118.2 116.2h.7M83.4 116.0h.7M75.9 121.1h.7M106.6 106.3h.7M116.8 102.3h.7M127.7 103.7h.7M124.7 125.8h.7M110.6 116.7h.7M106.7 120.6h.7M126.2 105.4h.7M130.0 116.4h.7M131.0 102.8h.7M115.9 116.6h.7M94.5 109.0h.7M121.3 110.5h.7M141.0 114.2h.7M119.0 110.1h.7M97.3 111.6h.7M116.7 105.3h.7M116.2 112.4h.7M101.0 107.3h.7M94.8 123.4h.7M97.0 99.1h.7M123.0 103.5h.7M125.0 101.5h.7M141.8 105.3h.7M116.1 108.3h.7M113.4 114.9h.7M137.6 97.2h.7M102.0 116.7h.7M123.6 92.7h.7M103.2 103.1h.7M122.1 109.7h.7M102.4 102.3h.7M117.6 89.9h.7M121.5 104.4h.7M139.9 108.2h.7M106.3 108.1h.7M108.9 103.6h.7M117.3 115.0h.7M95.0 112.0h.7M134.0 107.9h.7M102.2 105.0h.7M99.8 99.1h.7M128.2 104.2h.7M102.1 99.8h.7M108.1 105.6h.7M134.0 98.0h.7M117.9 115.6h.7M121.7 104.1h.7M90.6 126.8h.7M120.3 102.5h.7M110.7 101.1h.7M99.6 100.2h.7M121.3 110.0h.7M117.9 113.2h.7M120.8 106.9h.7M104.6 115.8h.7M130.0 108.3h.7M128.1 99.7h.7M105.0 121.1h.7M107.4 112.0h.7M111.7 108.9h.7M109.4 105.0h.7M96.7 129.0h.7M112.0 92.8h.7M100.3 103.0h.7M99.0 91.7h.7M124.8 118.1h.7M112.7 114.5h.7M118.4 96.4h.7M124.9 90.8h.7M106.2 107.5h.7M129.6 104.2h.7M110.6 102.4h.7M115.2 108.0h.7M126.1 115.7h.7M123.0 105.4h.7M115.9 120.6h.7M116.4 107.1h.7M139.5 113.0h.7M120.7 105.0h.7M108.8 118.4h.7M110.7 116.9h.7M104.7 111.7h.7M119.2 107.6h.7M117.7 110.0h.7M97.8 103.9h.7M116.4 122.0h.7M110.3 101.5h.7M106.1 110.7h.7M127.1 99.3h.7M121.2 107.3h.7M107.5 102.3h.7M110.5 103.2h.7M116.5 92.8h.7M129.4 109.4h.7M124.5 117.0h.7M117.4 93.0h.7M115.7 111.2h.7M103.1 102.1h.7M120.4 110.2h.7M108.3 107.8h.7M106.5 105.7h.7M115.8 116.2h.7M93.7 111.5h.7M134.3 104.3h.7M117.8 113.7h.7M99.1 102.7h.7M90.5 103.4h.7M119.0 113.4h.7M107.4 104.5h.7M120.3 111.1h.7M112.7 92.9h.7M101.6 91.2h.7M115.0 100.8h.7M109.5 121.7h.7M131.1 106.6h.7M117.7 108.3h.7M106.8 109.8h.7M135.1 94.3h.7M106.4 111.7h.7M126.7 110.9h.7M102.0 110.6h.7M108.0 99.8h.7M113.8 104.1h.7M126.1 107.8h.7M104.8 111.5h.7M108.2 104.6h.7M110.6 117.7h.7M105.1 96.8h.7M106.5 116.9h.7M137.6 92.1h.7M108.9 106.9h.7M97.9 116.2h.7M114.0 110.3h.7M140.4 97.7h.7M125.5 111.2h.7M105.0 106.0h.7M134.5 107.5h.7M113.2 99.3h.7M125.9 108.6h.7M143.9 110.7h.7M124.3 107.0h.7M113.5 103.7h.7M118.3 108.7h.7M124.4 113.6h.7M116.5 102.8h.7M127.3 116.5h.7M104.9 114.2h.7M121.9 109.9h.7M119.9 105.4h.7M116.7 120.9h.7M131.7 91.1h.7M84.4 120.7h.7M104.7 106.7h.7M95.6 116.6h.7M112.1 104.2h.7M130.4 122.7h.7M134.5 111.2h.7M110.5 114.4h.7M116.2 116.7h.7M121.0 105.6h.7M119.0 100.6h.7M127.0 116.2h.7M110.9 113.5h.7M96.1 121.2h.7M122.2 97.1h.7M135.3 102.3h.7M90.0 104.3h.7M123.9 102.7h.7M123.8 92.4h.7M115.1 115.6h.7M107.4 115.6h.7M110.5 111.9h.7M123.0 123.4h.7M100.9 118.4h.7M127.3 94.8h.7M120.3 124.8h.7M119.9 82.1h.7M107.2 96.2h.7M116.0 101.5h.7M105.3 103.9h.7M116.5 103.4h.7M102.6 109.7h.7M116.9 100.1h.7M123.6 91.5h.7M118.0 103.6h.7M131.5 97.4h.7M102.9 100.5h.7M139.4 105.2h.7M100.1 109.6h.7M105.9 122.9h.7M114.4 91.3h.7M118.6 114.0h.7M115.1 111.5h.7M113.2 110.0h.7M114.9 102.0h.7M118.6 107.9h.7M112.0 103.1h.7M102.3 113.6h.7M118.4 87.0h.7M110.7 120.1h.7M123.4 99.3h.7M128.1 95.6h.7M108.9 125.4h.7M108.2 108.0h.7M91.8 106.7h.7M99.5 111.4h.7M94.3 122.7h.7M108.3 104.8h.7M108.1 115.9h.7M131.6 99.2h.7M137.2 113.9h.7M130.9 105.2h.7M97.6 118.6h.7M109.5 111.0h.7M90.6 112.9h.7M114.7 100.2h.7M121.4 119.3h.7M115.2 102.0h.7M137.9 83.1h.7M103.8 114.5h.7M101.6 93.2h.7M119.1 113.2h.7M107.8 121.9h.7M122.8 115.0h.7M95.5 113.7h.7M138.0 117.0h.7M129.9 103.1h.7M114.8 102.6h.7M125.7 98.7h.7M110.7 92.2h.7M99.9 126.9h.7M115.2 109.4h.7M87.4 116.0h.7M135.6 89.1h.7M84.8 115.7h.7M107.1 108.4h.7M95.6 102.6h.7M100.5 117.4h.7M115.3 114.3h.7M102.3 116.4h.7M108.8 110.3h.7M125.4 104.7h.7M105.9 96.9h.7M116.6 113.6h.7M106.2 109.9h.7M89.5 104.7h.7M121.9 116.2h.7M106.4 96.7h.7M105.8 97.7h.7M115.1 123.5h.7M135.9 48.7h.7M130.3 48.9h.7M105.4 48.7h.7M124.3 49.3h.7M112.8 49.0h.7M109.3 48.4h.7M106.1 48.7h.7M123.5 48.5h.7M106.2 48.4h.7M103.2 48.4h.7M112.0 48.8h.7M107.0 48.7h.7M116.7 49.3h.7M118.5 49.2h.7M117.9 48.4h.7M122.5 48.4h.7" stroke="#333" stroke-width="0.7" fill="none" opacity="1"/>
<path d="M81.6 126.2 L83 124.4 L91 121.2 L100 117 L108 113 L114 110 L118.4 108.4 L120 109.6 L119.6 114 L117.4 119.4 L114.6 122 L113 125.4 L110 127.8 L82 127.8Z" fill="#000"/>
<path d="M122 122.6 L127 120 L132 118.6 L135.6 119.4 L137.4 122 L136 125.4 L131.4 127.9 L122 128.3Z" fill="#000"/>
<path d="M101.9 123.6h.7M90.8 120.7h.7M94.4 127.8h.7M93.7 127.7h.7M96.0 122.7h.7M111.2 122.8h.7M99.1 123.8h.7M106.2 116.7h.7M94.3 129.5h.7M106.7 118.9h.7M94.2 127.3h.7M88.2 127.8h.7M95.4 118.7h.7M105.6 123.0h.7M106.9 116.0h.7M88.8 126.6h.7M91.8 126.6h.7M102.2 123.8h.7M110.4 115.4h.7M107.2 120.4h.7M90.8 128.4h.7M95.3 128.7h.7M109.8 117.0h.7M92.9 127.3h.7M92.6 129.7h.7M100.6 121.0h.7M95.3 127.8h.7M93.5 126.1h.7M108.1 123.3h.7M105.4 121.2h.7M114.4 118.5h.7M104.2 123.1h.7M106.2 121.3h.7M96.9 120.4h.7M115.1 112.4h.7M117.0 118.8h.7M95.4 126.5h.7M97.6 119.0h.7M97.6 125.5h.7M108.1 116.1h.7M80.0 128.6h.7M102.8 122.4h.7M101.4 123.3h.7M95.5 121.7h.7M104.1 122.6h.7M106.1 124.2h.7M87.3 122.9h.7M93.1 128.0h.7M100.7 125.3h.7M125.4 109.7h.7M97.9 122.8h.7M102.6 123.8h.7M109.8 120.1h.7M98.8 123.4h.7M91.5 126.1h.7M107.0 117.4h.7M96.7 127.6h.7M114.3 114.6h.7M108.2 117.6h.7M103.7 123.1h.7M114.6 116.6h.7M100.9 119.7h.7M114.6 116.6h.7M87.4 127.6h.7M117.2 113.4h.7M94.1 124.7h.7M96.0 127.0h.7M110.7 115.4h.7M101.5 117.6h.7M112.2 117.3h.7M96.1 129.8h.7M100.7 127.1h.7M110.6 123.2h.7M93.6 126.8h.7M102.8 121.6h.7M111.5 115.9h.7M109.7 122.8h.7M83.1 128.9h.7M92.1 125.8h.7M103.0 121.6h.7M100.1 122.1h.7M99.9 125.0h.7M105.2 118.8h.7M98.2 122.2h.7M96.9 120.8h.7M108.5 121.3h.7M98.2 122.4h.7M95.5 123.7h.7M125.3 107.7h.7M91.2 129.4h.7M103.1 117.4h.7M96.1 125.6h.7M99.3 122.2h.7M98.5 123.4h.7M110.0 118.4h.7M99.1 122.4h.7M94.0 124.3h.7M102.2 127.8h.7M109.3 119.7h.7M114.7 119.3h.7M101.5 122.3h.7M91.4 128.4h.7M95.6 121.0h.7M102.3 123.8h.7M101.1 121.6h.7M105.0 124.2h.7M98.1 125.9h.7M107.8 118.4h.7M100.5 121.1h.7M104.5 120.3h.7M108.4 117.2h.7M113.3 116.2h.7M92.2 124.7h.7M104.4 118.9h.7M116.1 119.4h.7M102.6 118.1h.7M99.0 121.9h.7M117.2 113.6h.7M108.0 123.3h.7M91.8 126.5h.7M102.7 123.6h.7M91.0 128.5h.7M100.2 126.1h.7M86.4 128.4h.7M95.6 124.7h.7M105.1 119.2h.7M121.4 111.1h.7M108.0 122.6h.7M107.6 119.2h.7M93.0 126.2h.7M105.5 121.2h.7M105.4 122.6h.7M91.8 124.8h.7M111.1 116.7h.7M92.2 124.6h.7M106.6 117.1h.7M94.1 129.4h.7M103.8 129.4h.7M101.1 123.1h.7M94.6 125.5h.7M95.9 125.4h.7M104.8 117.5h.7M90.2 122.2h.7M112.1 117.4h.7M99.8 123.4h.7M108.5 120.3h.7M106.7 119.8h.7M99.0 123.8h.7M86.1 127.3h.7M105.5 121.0h.7M108.5 124.3h.7M116.7 119.4h.7M100.5 129.2h.7M92.8 126.7h.7M107.8 119.1h.7M98.6 123.1h.7M108.3 112.4h.7M111.5 121.0h.7M100.0 125.1h.7M93.4 129.9h.7M123.8 109.4h.7M111.3 117.9h.7M96.7 123.7h.7M97.0 121.3h.7M100.5 124.9h.7M103.1 123.4h.7M86.6 127.3h.7M106.3 123.4h.7M90.1 126.6h.7M92.1 129.2h.7M102.8 122.2h.7M95.1 126.8h.7M99.4 121.6h.7M101.9 120.6h.7M108.4 121.2h.7M95.1 127.6h.7M99.7 121.6h.7M90.7 123.2h.7M91.2 128.7h.7M109.1 117.3h.7M101.7 123.7h.7M106.8 121.5h.7M110.8 120.5h.7M94.3 127.4h.7M100.8 124.8h.7M98.5 126.6h.7M109.8 116.4h.7M95.9 126.2h.7M104.1 121.9h.7M105.4 117.5h.7M107.6 123.2h.7M109.5 120.2h.7M98.5 125.4h.7M97.6 120.1h.7M95.0 125.8h.7M94.8 123.3h.7M97.7 123.5h.7M100.5 123.1h.7M102.5 125.2h.7M101.6 123.9h.7M86.8 121.4h.7M97.5 126.7h.7M96.5 123.4h.7M96.0 126.1h.7M109.8 120.3h.7M118.0 114.4h.7M108.5 121.4h.7M94.7 126.2h.7M94.3 123.3h.7M101.6 120.5h.7M112.8 115.2h.7M95.7 125.8h.7M95.9 125.7h.7M93.5 122.6h.7M79.0 129.9h.7M112.8 118.6h.7M100.7 121.8h.7M99.2 124.8h.7M87.8 127.1h.7M94.2 129.9h.7M99.4 123.9h.7M111.9 120.3h.7M106.4 117.3h.7M111.1 123.0h.7M98.6 122.8h.7M92.3 130.2h.7M102.4 122.4h.7M107.1 120.0h.7M110.9 115.5h.7M106.0 117.7h.7M111.1 117.3h.7M109.4 117.7h.7M104.5 124.6h.7M92.8 127.3h.7M94.2 128.8h.7M94.7 125.0h.7M99.7 127.0h.7M91.5 127.5h.7M96.7 123.5h.7M93.4 126.2h.7M99.8 119.1h.7M100.6 119.8h.7M102.7 128.8h.7M92.1 127.1h.7M99.0 126.8h.7M94.1 121.2h.7M103.3 125.0h.7M96.4 127.2h.7M98.7 122.2h.7M103.4 126.9h.7M91.7 123.9h.7M90.5 124.8h.7M100.0 124.5h.7M98.9 124.6h.7M109.3 118.2h.7M87.3 123.1h.7M101.2 121.0h.7M98.4 125.4h.7M102.0 118.0h.7M92.3 127.4h.7M100.1 126.7h.7M93.6 120.6h.7M107.6 115.1h.7M92.6 128.2h.7M102.5 123.8h.7M103.6 119.7h.7M108.3 114.6h.7M95.6 126.5h.7M100.0 120.7h.7M114.5 120.8h.7M92.8 128.0h.7M94.4 125.0h.7M108.1 119.9h.7M99.2 124.2h.7M95.4 129.5h.7M95.8 124.2h.7M112.3 118.1h.7M94.2 124.7h.7M107.0 125.5h.7M104.5 120.2h.7M90.2 126.3h.7M99.3 124.5h.7M96.1 129.1h.7M91.4 125.6h.7M104.6 122.7h.7M97.9 127.3h.7M119.9 119.5h.7M103.2 127.6h.7M101.9 126.4h.7M98.6 124.7h.7M102.3 117.4h.7M100.3 128.3h.7M107.8 120.7h.7M103.1 126.0h.7M100.6 117.8h.7M92.0 126.5h.7M100.7 121.9h.7M101.0 127.8h.7M108.3 121.2h.7M100.2 123.6h.7M103.2 122.6h.7M95.0 128.2h.7M93.3 126.6h.7M95.8 122.2h.7M104.8 121.0h.7M90.5 127.9h.7M106.4 126.1h.7M96.2 127.4h.7M91.2 125.3h.7M99.7 124.8h.7M107.2 119.3h.7M110.0 121.4h.7M92.7 126.5h.7M96.5 127.7h.7M107.1 119.3h.7M96.5 126.2h.7M92.3 123.6h.7M92.6 128.1h.7M103.5 126.9h.7M105.8 121.1h.7M111.5 116.9h.7M94.5 123.1h.7M94.8 126.3h.7M106.9 123.9h.7M97.0 122.8h.7M96.8 123.8h.7M95.8 124.4h.7M92.9 126.8h.7M95.7 125.1h.7M89.0 129.2h.7M105.3 122.8h.7M94.3 123.0h.7M88.2 125.8h.7M94.5 125.3h.7M86.8 127.9h.7M95.1 128.2h.7M114.4 115.5h.7M97.4 123.7h.7M98.2 123.9h.7M118.6 111.4h.7M98.2 122.1h.7M102.3 120.9h.7" stroke="#000" stroke-width="0.8" fill="none" opacity="1"/>
<rect x="46.0" y="47.3" width="118.2" height="83.9" fill="none" stroke="#000" stroke-width="1.25"/>
<rect x="75.8" y="105.7" width="45.2" height="22.7" fill="none" stroke="#000" stroke-width="1.6"/>
<text transform="translate(53.95,123.3) scale(1.07,1)" font-size="12.41" stroke="#000" stroke-width="0.3">R1</text>
<defs><filter id="bl" x="-20%" y="-20%" width="140%" height="140%"><feGaussianBlur stdDeviation="0.9"/></filter><filter id="bl2" x="-20%" y="-20%" width="140%" height="140%"><feGaussianBlur stdDeviation="1.6"/></filter></defs>
<path d="M273.0 114.6h.7M290.4 114.6h.7M250.1 127.5h.7M262.0 117.4h.7M272.1 116.9h.7M275.2 116.0h.7M277.6 117.9h.7M271.9 119.5h.7M263.8 119.8h.7M273.4 121.1h.7M265.8 128.9h.7M284.7 111.2h.7M279.3 116.6h.7M269.7 116.6h.7M284.5 112.4h.7M266.5 117.8h.7M289.4 118.7h.7M253.8 122.3h.7M271.4 117.5h.7M263.3 117.3h.7M269.6 115.5h.7M279.0 125.8h.7M266.1 126.6h.7M271.3 116.6h.7M263.5 117.7h.7M269.9 122.1h.7M277.5 116.4h.7M255.4 123.2h.7M285.8 116.1h.7M265.4 113.1h.7M264.0 123.1h.7M259.4 127.3h.7M261.3 118.7h.7M261.9 121.4h.7M277.9 115.2h.7M249.3 124.9h.7M274.9 123.7h.7M257.7 128.3h.7M275.5 119.6h.7M259.2 119.2h.7M258.9 125.9h.7M271.3 123.0h.7M287.0 114.8h.7M269.3 126.7h.7M254.0 122.3h.7M263.8 119.8h.7M268.7 116.7h.7M278.8 112.0h.7M257.9 116.6h.7M253.9 126.1h.7M274.4 117.5h.7M277.4 119.7h.7M262.0 121.5h.7M273.7 125.8h.7M263.8 122.5h.7M274.8 122.6h.7M273.4 122.4h.7M256.7 122.2h.7M247.8 125.4h.7M292.5 114.1h.7M269.2 120.7h.7M268.3 115.1h.7M260.6 121.4h.7M269.0 116.6h.7M266.2 117.8h.7M253.6 121.6h.7M260.4 125.2h.7M282.5 118.1h.7M265.3 118.7h.7M251.1 122.8h.7M285.4 119.4h.7M270.1 118.5h.7M268.4 121.4h.7M268.3 121.5h.7M260.0 122.4h.7M265.4 124.7h.7M256.3 128.0h.7M266.6 118.6h.7M268.3 120.4h.7M266.0 122.1h.7M260.4 116.0h.7M275.2 117.9h.7M285.7 116.5h.7M248.3 130.0h.7M261.4 123.9h.7M292.2 117.3h.7M256.5 122.9h.7M251.9 126.9h.7M272.9 114.9h.7M273.6 121.9h.7M275.8 115.4h.7M259.7 118.2h.7M254.8 124.8h.7M269.6 124.3h.7M270.6 118.1h.7M254.6 129.4h.7M269.7 119.4h.7M256.6 119.4h.7M273.7 114.9h.7M274.7 120.5h.7M262.5 115.7h.7M273.6 123.6h.7M258.2 118.1h.7M279.5 117.4h.7M262.7 126.0h.7M265.6 122.4h.7M263.1 118.7h.7M269.5 116.5h.7M249.0 123.3h.7M281.9 120.2h.7M291.6 117.1h.7M285.0 116.2h.7M263.9 122.9h.7M258.8 125.2h.7M263.6 122.2h.7M259.0 122.0h.7M278.0 116.5h.7M261.3 122.9h.7M277.0 116.9h.7M254.4 118.2h.7M255.1 127.5h.7M267.5 121.9h.7M279.4 117.9h.7M272.6 116.9h.7M251.9 126.8h.7M267.5 122.2h.7M256.8 122.6h.7M288.2 111.4h.7M270.2 124.2h.7M265.7 121.1h.7M246.6 128.8h.7M264.6 125.6h.7M266.7 119.0h.7M272.3 118.0h.7M264.1 126.7h.7M278.3 117.6h.7M277.2 120.5h.7M274.1 118.5h.7M269.1 121.2h.7M274.2 119.6h.7M262.2 121.4h.7M271.9 115.4h.7M268.6 122.6h.7M269.5 118.6h.7M267.3 118.5h.7M277.9 116.0h.7M249.6 120.8h.7M271.3 119.9h.7M261.9 117.0h.7M265.7 117.7h.7M261.2 121.9h.7M260.3 123.3h.7M259.9 120.6h.7M267.0 125.6h.7M285.3 118.7h.7M260.4 122.2h.7M278.2 120.1h.7M251.1 124.5h.7M261.0 124.7h.7M274.1 116.4h.7M290.0 113.0h.7M293.2 112.5h.7M268.9 126.6h.7M262.1 120.0h.7M283.3 115.7h.7M271.8 114.5h.7M287.5 118.2h.7M272.4 121.4h.7M262.4 119.9h.7M252.1 125.8h.7M281.6 119.3h.7M278.2 119.8h.7M257.3 118.4h.7M274.8 118.8h.7M278.0 116.3h.7M259.3 124.1h.7M260.7 116.2h.7M260.9 118.9h.7M255.9 121.4h.7M280.0 125.1h.7M285.6 113.7h.7M279.8 116.5h.7M271.6 116.7h.7M265.7 114.7h.7M285.9 112.4h.7M273.6 116.4h.7M269.7 115.4h.7M265.0 124.1h.7M272.4 111.9h.7M275.7 113.3h.7M271.5 121.0h.7M261.1 120.9h.7M265.8 122.1h.7M278.7 121.9h.7M273.2 125.7h.7M259.8 128.6h.7M266.0 123.3h.7M266.8 120.7h.7M258.8 124.0h.7M289.2 114.7h.7M267.8 120.1h.7M275.2 117.3h.7M268.2 120.8h.7M282.4 119.5h.7M256.5 121.0h.7M269.0 122.8h.7M277.9 116.6h.7M289.9 113.4h.7M283.9 120.7h.7M284.8 116.1h.7M272.6 113.4h.7M249.0 123.2h.7M276.5 121.5h.7M267.9 123.8h.7M275.4 123.4h.7M250.7 121.9h.7M257.1 119.4h.7M284.3 112.3h.7M259.0 121.1h.7M276.8 116.0h.7M276.2 119.8h.7M259.2 114.1h.7M257.4 118.6h.7M284.3 113.0h.7M257.2 124.4h.7M267.7 116.8h.7M280.2 119.9h.7M270.2 116.8h.7M257.1 115.8h.7M272.4 120.2h.7M258.5 122.8h.7M301.0 106.9h.7M250.8 127.0h.7M263.1 119.6h.7M274.4 117.8h.7M278.8 118.9h.7M280.2 117.1h.7M251.3 128.4h.7M269.4 114.7h.7M269.5 122.8h.7M257.4 123.1h.7M259.4 118.9h.7M262.8 126.0h.7M275.1 118.0h.7M267.3 120.7h.7M271.2 119.8h.7M251.0 128.0h.7M256.7 113.9h.7M274.2 114.0h.7M266.5 120.1h.7M262.4 123.5h.7M264.9 119.9h.7M257.8 121.9h.7M257.3 123.2h.7M282.7 119.6h.7M271.2 114.3h.7M279.6 120.2h.7M287.4 106.7h.7M267.9 118.9h.7M278.3 113.3h.7M266.2 128.8h.7M276.5 110.6h.7M269.5 124.5h.7M262.1 123.8h.7M267.7 114.9h.7M262.5 125.6h.7M279.8 114.6h.7M279.1 114.4h.7M270.6 119.2h.7M255.3 124.7h.7M261.4 112.1h.7M258.6 119.6h.7M258.4 119.2h.7M258.6 113.9h.7M277.4 117.7h.7M270.4 118.4h.7M268.4 119.0h.7M255.3 118.1h.7M269.7 123.2h.7M271.9 124.7h.7M253.5 123.1h.7M262.7 125.9h.7M285.2 113.4h.7M275.4 117.1h.7M257.5 122.5h.7M258.6 128.2h.7M275.3 122.2h.7M269.5 110.9h.7M276.5 118.0h.7M243.2 127.2h.7M280.1 122.8h.7M258.1 125.6h.7M271.3 118.5h.7M265.5 122.6h.7M274.6 120.5h.7M262.5 116.8h.7M282.9 120.5h.7M262.1 121.5h.7M274.8 111.9h.7M275.4 126.6h.7M270.2 116.9h.7M289.3 114.1h.7M269.8 118.0h.7M268.2 113.5h.7M253.3 118.8h.7M277.3 117.1h.7M278.1 109.9h.7M263.1 126.6h.7M258.0 116.1h.7M259.9 121.0h.7M269.1 124.4h.7M283.3 121.3h.7M273.6 116.7h.7M261.5 116.5h.7M282.4 120.5h.7M268.1 116.8h.7M275.5 119.7h.7M268.5 115.7h.7M270.0 117.4h.7M276.3 119.9h.7M272.2 117.3h.7M284.6 118.2h.7M282.0 119.1h.7M275.3 119.4h.7M255.2 117.0h.7M258.8 124.7h.7M277.7 118.0h.7M270.6 125.9h.7M262.2 115.2h.7M251.6 123.4h.7M276.0 120.4h.7M266.5 123.4h.7M266.8 117.7h.7M264.8 123.6h.7M276.9 113.5h.7M257.8 123.3h.7M289.0 110.0h.7M255.4 125.0h.7M272.7 116.5h.7M268.2 121.7h.7M249.8 124.9h.7M275.1 121.3h.7M280.1 116.4h.7M254.2 128.6h.7M275.4 115.7h.7M279.7 120.5h.7M264.4 112.6h.7M262.4 118.8h.7M259.2 122.1h.7M257.1 124.4h.7M286.5 110.6h.7M278.3 115.2h.7M273.5 118.0h.7M280.7 113.9h.7M274.9 115.3h.7M270.4 119.3h.7M277.9 111.6h.7M255.3 128.5h.7M273.6 124.5h.7M257.5 123.7h.7M275.9 124.1h.7M267.0 118.7h.7M275.3 117.6h.7M260.9 124.7h.7M247.3 122.1h.7M281.7 114.4h.7M265.0 122.2h.7M280.1 118.5h.7M257.5 120.9h.7M278.8 116.6h.7M262.3 124.7h.7M281.8 124.0h.7M256.2 120.7h.7M261.1 123.2h.7M264.1 125.1h.7M261.1 120.9h.7M274.1 119.0h.7M258.9 127.9h.7M273.5 116.7h.7M269.1 115.7h.7M255.0 122.5h.7M271.9 119.3h.7M258.7 117.6h.7M252.1 130.1h.7M271.1 116.3h.7M280.8 118.4h.7M263.2 119.1h.7M280.1 117.8h.7M285.3 116.5h.7M261.4 119.7h.7M261.0 122.9h.7M271.2 121.3h.7M271.7 115.2h.7M265.0 117.5h.7M271.8 114.2h.7M261.2 118.8h.7M261.4 120.9h.7M283.4 114.8h.7M252.9 123.1h.7M276.2 119.7h.7M272.3 125.9h.7M279.5 117.1h.7M279.3 112.1h.7M265.5 117.6h.7M271.3 124.9h.7M264.4 126.7h.7M258.8 127.7h.7M249.7 122.0h.7M278.2 116.8h.7M269.5 119.5h.7M269.7 118.9h.7M257.6 121.8h.7M268.3 116.7h.7M274.4 124.5h.7M250.6 122.9h.7M265.1 120.9h.7M268.3 117.3h.7M267.7 120.1h.7M286.2 114.4h.7M292.9 86.2h.7M280.9 104.0h.7M289.1 93.9h.7M283.6 95.8h.7M290.4 93.5h.7M286.1 108.0h.7M292.2 105.9h.7M291.3 87.1h.7M290.3 114.8h.7M293.4 112.2h.7M290.1 103.8h.7M287.0 111.8h.7M284.1 119.9h.7M293.8 97.7h.7M292.6 84.9h.7M286.6 96.5h.7M302.7 94.7h.7M293.7 101.6h.7M286.9 105.6h.7M278.2 107.0h.7M298.1 104.7h.7M288.9 101.4h.7M293.6 96.0h.7M289.1 104.9h.7M287.1 103.3h.7M289.7 107.0h.7M285.8 94.0h.7M285.2 110.9h.7M293.8 84.7h.7M279.7 117.0h.7M293.6 88.2h.7M284.9 100.5h.7M293.2 116.6h.7M288.3 96.8h.7M300.5 92.6h.7M296.3 104.7h.7M287.5 112.2h.7M293.4 92.6h.7M282.2 98.7h.7M289.3 113.4h.7M274.5 110.1h.7M289.6 114.9h.7M292.9 102.8h.7M290.8 104.2h.7M286.7 98.3h.7M291.0 95.9h.7M285.3 85.0h.7M290.9 105.4h.7M292.2 89.1h.7M294.3 97.1h.7M276.6 112.7h.7M278.1 119.8h.7M292.9 96.4h.7M279.7 91.1h.7M294.0 114.2h.7M294.0 84.1h.7M288.2 97.0h.7M291.9 99.3h.7M294.3 85.0h.7M283.7 113.0h.7M280.8 107.3h.7M299.2 108.4h.7M280.5 110.4h.7M280.0 101.4h.7M285.2 111.3h.7M294.7 102.9h.7M296.1 111.0h.7M289.1 90.3h.7M302.0 98.6h.7M291.7 99.3h.7M290.3 84.4h.7M289.0 98.8h.7M295.2 96.1h.7M284.1 88.4h.7M288.8 102.3h.7M293.7 97.1h.7M291.8 101.9h.7M297.6 101.1h.7M289.1 105.5h.7M297.1 92.5h.7M287.8 97.0h.7M276.9 110.2h.7M294.6 101.2h.7M303.1 115.2h.7M296.1 116.8h.7M296.5 87.5h.7M296.0 105.4h.7M283.7 99.3h.7M291.2 110.0h.7M291.3 95.2h.7M294.6 93.6h.7M287.7 107.1h.7M281.9 102.2h.7M282.0 89.4h.7M283.8 98.0h.7M293.0 100.2h.7M293.7 101.8h.7M287.6 104.5h.7M288.1 101.1h.7M295.5 95.6h.7M297.1 90.7h.7M291.8 83.4h.7M283.9 114.5h.7M288.8 112.3h.7M284.4 89.0h.7M290.1 108.3h.7M296.7 85.0h.7M292.1 99.8h.7M289.2 104.6h.7M291.4 83.7h.7M287.2 85.3h.7M283.5 97.5h.7M297.1 94.5h.7M288.1 88.4h.7M281.1 99.0h.7M287.6 97.3h.7M284.0 103.7h.7M282.7 104.0h.7M284.8 106.8h.7M284.4 103.3h.7M291.8 99.7h.7M297.0 103.2h.7M283.9 105.7h.7M286.6 94.1h.7M289.2 101.7h.7M301.0 85.1h.7M286.1 110.4h.7M288.1 102.9h.7M299.1 89.8h.7M288.2 107.5h.7M290.1 82.9h.7M284.4 100.9h.7M286.9 117.6h.7M298.8 86.6h.7M292.7 109.7h.7M297.5 100.1h.7M286.6 100.9h.7M295.7 107.4h.7M296.1 109.1h.7M288.6 89.9h.7M301.2 87.5h.7M288.4 96.7h.7M286.2 93.7h.7M285.0 122.5h.7M290.2 95.0h.7M288.3 109.0h.7M286.4 95.4h.7M279.8 105.0h.7M289.9 114.9h.7M279.6 119.5h.7M294.2 98.2h.7M288.2 96.7h.7M282.2 106.1h.7M288.0 92.6h.7M291.8 101.6h.7M287.2 97.2h.7M284.6 112.3h.7M295.7 94.1h.7M286.7 113.0h.7M284.7 116.6h.7M290.3 106.8h.7M277.9 106.0h.7M290.0 105.9h.7M290.8 105.5h.7M285.3 108.1h.7M291.8 90.1h.7M284.3 100.5h.7M295.3 79.4h.7M277.6 108.0h.7M284.0 127.0h.7M282.7 96.2h.7M285.6 104.7h.7M293.1 116.7h.7M282.3 110.7h.7M283.1 101.7h.7M289.1 106.1h.7M283.1 111.9h.7M289.2 99.8h.7M290.3 89.6h.7M292.3 103.9h.7M288.1 118.1h.7M285.9 96.5h.7M287.9 108.1h.7M286.9 108.7h.7M295.1 83.7h.7M290.1 80.0h.7M288.9 95.8h.7M292.0 102.2h.7M286.8 111.9h.7M294.7 88.9h.7M285.6 102.5h.7M298.0 99.8h.7M288.2 102.4h.7M293.4 99.9h.7M291.7 96.3h.7M288.4 91.9h.7M293.7 95.4h.7M291.3 104.4h.7M299.3 75.4h.7M287.2 87.5h.7M287.2 107.5h.7M298.6 117.2h.7M295.3 105.0h.7M286.6 104.7h.7M277.3 106.8h.7M288.4 105.9h.7M286.7 88.6h.7M286.5 99.0h.7M291.9 97.0h.7M289.9 106.8h.7M284.1 97.9h.7M283.1 93.3h.7M295.2 94.1h.7M297.4 106.6h.7M293.6 101.9h.7M291.5 111.3h.7M291.0 95.1h.7M283.1 117.9h.7M289.5 95.5h.7M289.4 83.3h.7M286.5 102.6h.7M288.6 92.3h.7M290.6 104.8h.7M286.8 102.5h.7M283.2 107.3h.7M285.4 95.8h.7M291.0 96.1h.7M280.0 118.9h.7M300.1 84.9h.7M292.5 88.0h.7M293.5 87.9h.7M291.3 105.6h.7M295.4 113.1h.7M285.5 108.6h.7M287.5 98.5h.7M290.5 82.7h.7M296.3 81.2h.7M287.4 104.8h.7M293.1 85.1h.7M285.1 105.9h.7M291.7 116.3h.7M279.9 102.6h.7M285.7 106.8h.7M281.7 97.0h.7M294.1 94.5h.7M289.7 90.3h.7M297.4 88.4h.7M285.8 95.9h.7M283.9 119.8h.7M292.4 92.3h.7M291.6 103.8h.7M291.0 99.7h.7M294.0 89.3h.7M284.6 94.8h.7M282.9 105.6h.7M296.4 113.7h.7M291.0 103.7h.7M288.7 86.9h.7M295.0 86.4h.7M291.2 98.9h.7M293.0 101.2h.7M291.1 94.6h.7M281.9 95.0h.7M290.8 110.7h.7M298.0 91.8h.7M283.7 105.8h.7M282.4 124.1h.7M293.9 85.8h.7M283.8 114.4h.7M280.5 99.7h.7M279.8 113.9h.7M289.4 89.7h.7M282.7 91.5h.7M278.2 93.0h.7M299.8 103.1h.7M290.5 88.7h.7M292.0 95.8h.7M282.8 112.4h.7M293.3 91.9h.7M296.7 100.9h.7M291.6 101.9h.7M294.0 107.0h.7M286.4 106.5h.7M287.4 100.9h.7M299.4 91.5h.7M285.3 95.2h.7M284.6 111.9h.7M277.4 120.4h.7M298.0 97.2h.7M291.1 96.7h.7M291.4 107.0h.7M291.6 108.0h.7M299.1 100.3h.7M293.2 98.9h.7M289.3 102.1h.7M288.6 103.3h.7M285.7 97.7h.7M288.9 88.3h.7M287.1 94.6h.7M291.8 84.9h.7M290.5 89.0h.7M285.2 101.0h.7M294.3 103.8h.7M288.0 95.3h.7M299.1 85.8h.7M297.9 86.8h.7M286.4 99.8h.7M285.2 115.7h.7M292.0 100.0h.7M294.0 101.3h.7M283.5 110.0h.7M294.2 113.7h.7M280.2 117.1h.7M286.0 106.9h.7M290.6 123.9h.7M283.7 88.7h.7M294.2 105.9h.7M293.7 71.7h.7M292.0 98.6h.7M271.8 123.1h.7M278.6 92.2h.7M289.0 102.2h.7M293.6 98.2h.7M285.9 95.7h.7M281.6 87.3h.7M300.3 95.3h.7M285.4 118.1h.7M294.3 102.2h.7M293.6 98.1h.7M283.2 108.7h.7M287.0 115.5h.7M289.0 96.2h.7M291.5 98.5h.7M289.7 91.1h.7M290.1 103.3h.7M298.3 101.5h.7M280.2 102.8h.7M301.3 98.0h.7M286.0 97.6h.7M276.4 94.0h.7M291.5 85.3h.7M294.0 92.2h.7M282.0 91.3h.7M288.8 119.0h.7M295.1 103.1h.7M287.5 97.0h.7M295.2 96.0h.7M289.6 109.7h.7M286.3 93.5h.7M291.6 100.5h.7M289.9 94.8h.7M285.6 117.7h.7M299.2 85.9h.7M289.5 100.9h.7M292.4 86.8h.7M288.6 101.3h.7M285.6 102.3h.7M280.7 83.2h.7M289.2 103.8h.7M289.6 95.4h.7M288.3 110.6h.7M294.0 100.1h.7M285.2 109.7h.7M290.4 109.0h.7M289.8 91.5h.7M291.6 94.2h.7M293.4 109.3h.7M277.7 104.3h.7M293.9 111.3h.7M288.9 91.3h.7M292.2 110.7h.7M292.0 89.0h.7M281.6 101.1h.7M286.8 92.7h.7M289.6 110.5h.7M280.9 91.6h.7M295.8 100.9h.7M286.6 105.8h.7M286.4 87.2h.7M286.6 115.0h.7M294.4 100.9h.7M295.2 97.0h.7M287.1 82.8h.7M289.1 108.9h.7M291.4 100.0h.7M285.5 110.1h.7M292.1 86.1h.7M297.4 95.1h.7M291.4 100.4h.7M294.1 103.4h.7M295.0 103.2h.7M288.3 94.7h.7M294.2 92.7h.7M294.4 98.6h.7M286.7 90.7h.7M285.4 116.9h.7M293.2 100.9h.7M281.4 117.4h.7M288.2 99.7h.7M284.9 112.4h.7M291.2 95.8h.7M292.3 90.6h.7M284.7 97.4h.7M273.4 108.5h.7M301.2 91.3h.7M291.9 84.7h.7M289.9 102.2h.7M295.7 87.9h.7M287.9 93.2h.7M283.9 121.7h.7M288.6 99.4h.7M285.5 107.2h.7M299.6 113.7h.7M299.0 91.2h.7M294.5 101.3h.7M293.5 111.4h.7M295.9 84.5h.7M291.1 95.3h.7M291.6 100.8h.7M297.7 85.6h.7M286.1 98.6h.7M291.8 96.4h.7M289.3 100.5h.7M294.8 99.9h.7M294.2 82.8h.7M279.7 83.4h.7M295.7 78.2h.7M291.7 99.5h.7M290.9 93.0h.7M285.9 107.6h.7M291.3 100.1h.7M286.7 101.6h.7M295.3 101.0h.7M290.0 88.3h.7M291.8 91.3h.7M280.9 107.0h.7M290.5 79.8h.7M282.4 117.0h.7M291.6 87.1h.7M282.8 105.8h.7M291.0 102.5h.7M287.6 104.5h.7M296.0 106.2h.7M291.4 86.4h.7M288.6 115.5h.7M295.1 88.5h.7M287.9 112.7h.7M285.5 104.1h.7M292.1 116.9h.7M285.2 81.6h.7M289.9 107.1h.7M287.8 99.5h.7M285.2 111.2h.7M278.3 100.3h.7M284.7 92.2h.7M283.9 89.7h.7M289.3 100.2h.7M298.6 99.6h.7M290.5 103.8h.7M287.9 114.4h.7M289.9 101.6h.7M288.9 99.9h.7M287.3 109.5h.7M289.5 100.7h.7M287.8 107.3h.7M285.4 108.6h.7M285.4 106.1h.7M298.3 104.1h.7M291.4 88.5h.7M293.0 100.9h.7M295.2 94.6h.7M288.5 117.9h.7M292.1 97.2h.7M283.2 98.6h.7M291.5 106.4h.7M286.1 89.0h.7M286.8 89.2h.7M287.6 102.3h.7M298.4 103.8h.7M299.8 85.5h.7M295.4 109.2h.7M290.0 108.4h.7M288.7 119.1h.7M296.8 84.0h.7M277.9 113.9h.7M286.5 112.7h.7M289.1 93.3h.7M287.2 102.7h.7M291.6 94.2h.7M290.9 106.5h.7M287.2 88.3h.7M280.6 95.1h.7M290.9 93.3h.7M286.8 98.1h.7M288.5 105.5h.7M292.7 105.0h.7M296.8 91.7h.7M291.7 104.2h.7M285.8 92.4h.7M285.4 112.8h.7M275.3 116.0h.7M292.8 112.3h.7M287.2 119.2h.7M278.1 116.3h.7M286.8 109.4h.7M279.2 120.1h.7M283.8 98.3h.7M280.3 108.4h.7M277.6 109.2h.7M293.8 102.5h.7M281.2 111.0h.7M276.9 115.5h.7M288.9 120.5h.7M288.8 119.4h.7M278.0 117.9h.7M276.5 109.1h.7M300.6 100.5h.7M282.1 110.1h.7M277.3 111.7h.7M286.9 108.9h.7M282.8 115.2h.7M277.7 119.1h.7M283.4 116.4h.7M281.2 115.4h.7M288.2 116.2h.7M282.3 120.3h.7M277.6 116.5h.7M284.0 114.2h.7M268.1 118.4h.7M284.7 118.4h.7M283.8 122.5h.7M274.4 120.3h.7M285.7 112.3h.7M286.9 116.9h.7M280.7 119.1h.7M287.6 109.5h.7M268.3 116.9h.7M275.9 112.5h.7M282.9 109.3h.7M296.7 108.0h.7M275.8 117.2h.7M292.4 111.7h.7M280.9 121.6h.7M286.9 124.6h.7M282.0 118.3h.7M284.5 110.3h.7M285.5 119.2h.7M285.3 112.1h.7M290.1 119.6h.7M288.9 112.8h.7M280.2 106.5h.7M282.3 111.6h.7M284.9 109.1h.7M282.3 108.2h.7M285.4 108.0h.7M284.5 116.5h.7M281.4 115.1h.7M293.1 117.7h.7M271.6 116.4h.7M288.9 115.6h.7M280.9 116.0h.7M288.4 123.9h.7M278.7 109.8h.7M271.8 114.0h.7M288.3 108.1h.7M294.3 110.1h.7M286.7 115.3h.7M289.4 115.1h.7M276.7 115.0h.7M280.6 116.3h.7M278.3 109.8h.7M284.6 123.6h.7M291.0 103.4h.7M284.8 112.6h.7M280.8 119.7h.7M287.3 121.0h.7M284.4 111.2h.7M269.8 122.4h.7M285.2 108.3h.7M289.2 113.8h.7M273.8 119.1h.7M286.7 116.0h.7M283.7 113.4h.7M280.5 114.0h.7M280.1 109.7h.7M285.2 110.5h.7M284.1 110.2h.7M285.4 113.1h.7M288.7 112.9h.7M287.1 110.2h.7M282.0 113.1h.7M276.5 117.7h.7M290.5 113.5h.7M279.7 118.1h.7M282.9 105.9h.7M285.6 114.2h.7M287.4 112.5h.7M268.9 111.6h.7M291.6 105.7h.7M292.8 114.9h.7M280.2 109.1h.7M289.6 109.3h.7M286.9 114.2h.7M290.5 114.9h.7M272.1 113.0h.7M283.7 113.6h.7M286.4 110.8h.7M287.8 122.9h.7M292.9 114.1h.7M285.9 107.3h.7M282.4 114.0h.7M275.2 114.1h.7M280.4 108.5h.7M287.0 114.1h.7M280.9 113.4h.7M287.3 113.9h.7M281.4 107.8h.7M280.8 127.8h.7M278.8 114.7h.7M271.9 116.9h.7M281.6 119.7h.7M266.2 117.1h.7M279.6 113.4h.7M278.0 114.8h.7M276.0 120.4h.7M289.3 110.6h.7M283.9 120.9h.7M282.5 108.2h.7M278.5 113.4h.7M286.1 119.1h.7M279.1 115.8h.7M280.2 108.8h.7M282.4 118.1h.7M283.3 102.6h.7M285.7 110.5h.7M291.0 112.2h.7M293.5 108.7h.7M278.8 111.9h.7M277.5 121.0h.7M287.8 115.6h.7M280.6 106.8h.7M280.3 114.4h.7M285.9 116.6h.7M290.7 110.4h.7M270.1 116.8h.7M270.4 118.0h.7M277.8 119.0h.7M285.0 119.3h.7M287.0 108.5h.7M287.7 110.9h.7M289.0 117.9h.7M277.2 117.6h.7M288.4 105.8h.7M284.4 113.8h.7M277.3 110.1h.7M276.9 112.3h.7M289.0 111.4h.7M283.1 106.8h.7M285.9 112.9h.7M286.1 107.6h.7M290.8 116.8h.7M289.3 104.2h.7M273.5 111.8h.7M289.4 113.2h.7M282.3 109.4h.7M293.6 116.3h.7M282.5 113.6h.7M290.2 112.1h.7M288.5 107.9h.7M283.7 111.5h.7M279.4 114.7h.7M283.0 117.0h.7M281.7 115.3h.7M275.7 111.8h.7M287.3 105.2h.7M294.5 111.7h.7M270.0 119.1h.7M281.0 115.5h.7M280.5 112.2h.7M288.8 109.3h.7M285.8 108.0h.7M283.3 121.7h.7M278.6 110.5h.7M285.1 118.8h.7M280.2 111.6h.7M288.8 115.8h.7M281.1 113.4h.7M288.7 126.1h.7M286.9 121.7h.7M283.4 116.1h.7M273.5 121.5h.7M282.4 112.5h.7M277.2 109.9h.7M276.2 119.7h.7M279.6 115.8h.7M280.7 112.6h.7M284.6 123.9h.7M276.2 115.6h.7M278.4 110.3h.7M280.7 120.7h.7M287.9 111.4h.7M301.2 106.5h.7M286.8 106.6h.7M293.0 117.2h.7M286.2 122.6h.7M275.9 112.1h.7M280.6 110.9h.7M283.1 107.4h.7M278.0 105.8h.7M285.8 118.3h.7M282.6 116.1h.7M285.3 105.9h.7M277.0 118.6h.7M283.6 112.0h.7M281.6 122.1h.7M276.6 116.8h.7M284.8 117.1h.7M278.6 112.2h.7M290.5 103.9h.7M286.5 110.7h.7M280.6 115.4h.7M282.6 116.1h.7M270.5 122.4h.7M280.7 109.8h.7M287.6 124.7h.7M293.8 110.4h.7M283.3 112.0h.7M288.6 107.5h.7M280.9 119.5h.7M276.1 114.0h.7M285.7 102.7h.7M283.0 114.7h.7M280.3 107.3h.7M281.0 113.4h.7M295.2 111.6h.7M281.7 120.0h.7M285.9 111.3h.7M281.1 113.7h.7M273.7 116.6h.7M291.6 116.7h.7M291.0 106.3h.7M279.4 102.2h.7M278.2 109.8h.7M282.5 104.6h.7M274.9 113.0h.7M287.3 116.0h.7M283.5 124.3h.7M281.5 110.1h.7M284.7 112.8h.7M288.0 112.6h.7M296.9 111.4h.7M282.1 119.3h.7M284.0 107.4h.7M277.1 113.2h.7M272.7 124.8h.7M285.4 119.7h.7M280.5 116.2h.7M289.2 115.5h.7M281.7 108.7h.7M296.2 110.1h.7M294.1 115.9h.7M291.0 111.0h.7M287.1 114.9h.7M277.9 122.3h.7M279.4 118.9h.7M280.1 120.2h.7M287.5 125.6h.7M285.4 115.4h.7M277.8 115.9h.7M282.0 113.0h.7M278.5 111.9h.7M285.7 109.9h.7M280.1 118.2h.7M278.6 116.0h.7M278.0 112.0h.7M279.7 111.4h.7M277.9 119.6h.7M277.6 109.1h.7M281.6 116.0h.7M286.2 114.1h.7M285.9 115.5h.7M278.4 112.4h.7M284.9 110.3h.7M284.9 116.6h.7M291.0 115.8h.7M278.7 114.8h.7M281.8 106.4h.7M278.6 120.6h.7M277.5 112.3h.7M288.4 113.4h.7M286.6 109.6h.7M280.7 113.6h.7M278.9 104.8h.7M281.6 119.1h.7M279.1 116.3h.7M285.1 115.7h.7M277.6 111.0h.7M293.2 102.8h.7M286.6 101.2h.7M302.4 120.8h.7M313.3 123.8h.7M306.2 117.3h.7M297.4 120.8h.7M299.6 123.0h.7M297.9 122.1h.7M310.7 122.9h.7M291.8 121.9h.7M301.2 125.4h.7M301.9 127.0h.7M305.1 124.6h.7M297.4 122.0h.7M307.7 121.4h.7M292.4 123.7h.7M303.5 122.8h.7M300.2 127.0h.7M304.0 125.0h.7M304.2 121.1h.7M299.5 119.0h.7M307.0 122.1h.7M306.5 119.0h.7M296.7 122.1h.7M300.5 121.9h.7M306.3 117.6h.7M300.1 124.0h.7M308.4 125.8h.7M304.0 118.5h.7M296.2 121.1h.7M302.6 122.0h.7M301.2 120.0h.7M301.1 121.6h.7M305.1 120.8h.7M297.0 119.7h.7M309.5 118.9h.7M301.1 121.7h.7M307.5 118.9h.7M302.8 120.6h.7M304.2 118.0h.7M303.9 123.8h.7M308.6 121.2h.7M304.8 125.1h.7M306.8 124.0h.7M295.1 120.5h.7M305.9 119.5h.7M299.1 119.7h.7M308.6 116.1h.7M301.5 117.7h.7M303.0 127.6h.7M314.0 116.4h.7M298.3 127.3h.7M296.3 118.2h.7M303.0 118.1h.7M295.6 126.7h.7M297.5 119.9h.7M302.8 120.7h.7M307.8 120.0h.7M311.0 121.9h.7M312.0 121.6h.7M302.9 122.8h.7M300.9 117.4h.7M296.7 125.2h.7M289.5 123.0h.7M295.5 123.3h.7M297.0 123.7h.7M300.7 120.6h.7M296.0 117.1h.7M301.4 118.0h.7M300.9 122.9h.7M307.9 121.7h.7M308.4 115.5h.7M306.7 124.5h.7M303.2 118.0h.7M303.7 119.5h.7M299.7 125.2h.7M300.3 118.9h.7M300.2 127.6h.7M298.4 124.5h.7M303.9 124.2h.7M299.9 119.5h.7M298.0 119.8h.7M315.3 117.9h.7M301.5 125.2h.7M305.3 120.0h.7M305.4 121.2h.7M309.1 124.0h.7M300.5 121.9h.7M302.1 124.9h.7M304.6 122.9h.7M306.1 118.4h.7M303.8 124.9h.7M307.4 122.1h.7M300.4 121.0h.7M297.6 122.1h.7M300.6 117.9h.7M307.3 117.7h.7M303.8 122.6h.7M297.9 117.7h.7M307.3 121.0h.7M301.7 124.8h.7M305.8 117.6h.7M300.3 117.1h.7M301.9 125.5h.7M298.5 124.9h.7M294.3 123.1h.7M308.2 124.5h.7M305.0 122.7h.7M308.8 112.5h.7M295.0 129.0h.7M315.0 119.2h.7M302.6 122.1h.7M301.7 119.8h.7M301.9 121.2h.7M306.0 122.2h.7M307.5 121.5h.7M298.3 126.6h.7M288.7 125.9h.7M303.3 119.6h.7M310.6 115.7h.7M295.8 122.0h.7M304.8 122.9h.7M303.2 123.0h.7M298.1 121.0h.7M301.7 117.8h.7M302.7 120.2h.7M304.7 117.8h.7M299.0 120.8h.7M299.5 119.5h.7M299.7 118.4h.7M305.3 122.4h.7M301.9 121.0h.7M296.9 120.4h.7M300.3 119.5h.7M296.3 123.7h.7M301.7 120.5h.7M298.0 122.6h.7M298.3 121.4h.7M303.6 123.1h.7M305.4 118.7h.7M307.2 116.6h.7M302.3 125.1h.7M314.1 118.1h.7M300.0 121.1h.7M295.9 123.0h.7M299.4 120.2h.7M307.5 117.6h.7M311.2 121.0h.7M304.8 119.0h.7M297.9 117.1h.7M303.2 120.4h.7M303.5 119.1h.7M303.3 116.9h.7M291.5 126.1h.7M304.9 111.7h.7M308.2 118.6h.7M300.0 117.8h.7M297.7 124.9h.7M298.4 122.5h.7M302.9 126.9h.7M305.5 116.7h.7M298.8 119.3h.7M294.6 121.9h.7M307.6 119.9h.7M305.3 120.1h.7M300.0 122.3h.7M303.2 126.6h.7M311.3 119.7h.7M303.5 115.4h.7M303.4 127.9h.7M298.7 124.8h.7M307.8 118.6h.7M300.6 120.7h.7M306.1 120.3h.7M310.5 122.2h.7M304.1 128.2h.7M300.0 120.4h.7M300.2 119.6h.7M299.9 121.9h.7M305.2 116.0h.7M294.5 121.6h.7M300.9 123.1h.7M299.4 126.6h.7M299.3 121.7h.7M303.3 124.4h.7M303.6 121.1h.7M299.5 122.8h.7M303.8 120.0h.7M300.5 116.8h.7M300.4 125.4h.7M309.1 119.1h.7M292.8 129.6h.7M303.3 128.4h.7M300.8 124.7h.7M300.1 126.0h.7M307.0 116.9h.7M310.8 126.9h.7M300.0 118.7h.7M303.1 120.0h.7M293.8 121.1h.7M302.1 117.2h.7M307.8 121.0h.7M302.3 125.4h.7M298.0 124.7h.7M295.1 122.7h.7M304.8 119.1h.7M302.0 123.3h.7M310.7 122.5h.7M304.1 120.1h.7M296.2 128.2h.7M309.6 113.0h.7M306.4 120.0h.7M305.8 121.2h.7M301.1 121.8h.7M302.8 124.6h.7M300.3 120.5h.7M305.8 122.2h.7M304.4 121.6h.7M310.3 122.1h.7M302.9 120.6h.7M303.8 115.6h.7M298.9 120.5h.7M286.5 99.2h.7M317.3 113.3h.7M284.1 100.0h.7M300.7 114.5h.7M296.6 119.3h.7M279.2 95.7h.7M274.4 105.3h.7M297.6 90.7h.7M276.9 87.1h.7M311.1 114.1h.7M287.1 88.6h.7M270.3 95.8h.7M284.6 88.0h.7M281.1 119.4h.7M284.3 105.3h.7M255.9 100.6h.7M282.2 95.3h.7M265.5 103.1h.7M270.4 97.1h.7M262.7 102.8h.7M296.4 93.4h.7M288.5 84.8h.7M291.9 110.9h.7M278.9 115.2h.7M272.3 104.6h.7M306.8 103.7h.7M269.0 118.6h.7M291.3 100.5h.7M259.7 80.2h.7M263.7 122.8h.7M288.1 93.2h.7M299.6 122.6h.7M272.8 110.1h.7M262.0 108.7h.7M308.6 86.1h.7M284.9 96.0h.7M282.9 105.1h.7M287.9 115.3h.7M291.0 117.3h.7M297.8 117.9h.7M275.1 109.2h.7M279.1 93.3h.7M310.4 107.7h.7M284.7 77.3h.7M281.0 113.8h.7M281.4 97.1h.7M303.9 100.1h.7M279.7 102.7h.7M281.0 117.3h.7M291.8 103.1h.7M279.3 101.1h.7M306.8 100.1h.7M292.9 84.0h.7M288.4 112.7h.7M301.2 108.0h.7M291.9 108.1h.7M298.4 130.0h.7M286.8 93.7h.7M292.1 102.6h.7M292.7 113.8h.7M286.2 98.4h.7M288.2 88.2h.7M287.8 92.8h.7M290.2 105.6h.7M281.2 88.8h.7M284.8 95.4h.7M282.2 112.8h.7M296.9 87.7h.7M296.7 121.3h.7M299.2 107.5h.7M282.9 126.1h.7M279.8 84.7h.7M285.3 107.6h.7M270.3 88.6h.7M310.7 105.4h.7M294.6 96.6h.7M263.8 101.7h.7M302.1 95.5h.7M260.2 101.8h.7M280.4 104.2h.7M270.2 100.1h.7M276.9 115.2h.7M286.2 115.1h.7M283.5 76.9h.7M257.9 110.8h.7M295.9 115.1h.7M283.1 81.4h.7M277.6 109.1h.7M302.6 99.7h.7M276.6 94.2h.7M297.8 115.0h.7M259.7 119.4h.7M271.8 85.3h.7M262.8 94.8h.7M267.5 95.5h.7M286.3 109.3h.7M277.8 83.9h.7M278.6 95.4h.7M260.1 105.8h.7M264.5 82.0h.7M304.5 115.9h.7M303.5 105.5h.7M278.6 102.9h.7M265.8 113.4h.7M287.8 100.1h.7M259.1 102.6h.7M306.0 122.4h.7M295.9 99.5h.7M286.0 111.0h.7M286.8 117.3h.7M275.2 74.5h.7M251.7 92.4h.7M265.6 112.4h.7M298.6 104.0h.7M291.4 105.0h.7M286.5 98.0h.7M278.7 119.1h.7M280.6 103.5h.7M300.2 116.5h.7M278.9 107.2h.7M270.6 105.7h.7M288.4 104.0h.7M286.3 108.6h.7M250.2 93.5h.7M285.2 97.8h.7M271.2 101.0h.7M305.7 101.1h.7M275.4 97.9h.7M268.2 110.2h.7M271.0 115.6h.7M296.3 111.3h.7M298.1 102.9h.7M260.6 103.2h.7M292.7 84.4h.7M267.8 117.9h.7M290.0 121.1h.7M293.1 104.9h.7M289.9 114.8h.7M283.8 101.3h.7M288.4 100.0h.7M316.5 94.3h.7M263.8 87.6h.7M298.2 98.9h.7M286.3 101.3h.7M287.9 85.6h.7M285.3 96.7h.7M298.8 111.9h.7M267.2 91.7h.7M291.8 119.2h.7M294.5 102.1h.7M299.1 74.0h.7M277.0 91.6h.7M270.3 111.2h.7M287.9 107.6h.7M282.4 111.9h.7M294.7 96.7h.7M296.8 92.2h.7M307.9 87.4h.7M280.3 90.2h.7M284.7 120.7h.7M274.1 126.6h.7M303.2 108.9h.7M276.2 115.5h.7M245.6 94.3h.7M297.2 103.5h.7M317.7 95.4h.7M266.2 101.3h.7M292.0 125.7h.7M260.4 106.0h.7M301.3 95.4h.7M278.0 88.6h.7M294.6 114.6h.7M292.2 107.1h.7M297.6 102.5h.7M293.9 114.4h.7M301.8 110.5h.7M285.3 113.0h.7M263.2 81.5h.7M306.1 105.8h.7M269.9 96.6h.7M282.2 104.9h.7M273.8 116.7h.7M269.5 125.2h.7M293.3 82.5h.7M267.6 104.8h.7M287.9 98.6h.7M284.4 106.1h.7M268.6 104.8h.7M315.1 95.7h.7M270.4 112.5h.7M302.5 117.3h.7M275.6 103.1h.7M287.0 101.3h.7M289.6 117.9h.7M291.6 103.9h.7M281.4 126.9h.7M267.4 129.6h.7M294.2 105.1h.7M274.0 127.5h.7M300.8 115.7h.7M312.7 81.0h.7M285.6 100.1h.7M274.2 105.0h.7M291.5 110.7h.7M282.3 87.1h.7M291.8 111.8h.7M313.3 116.0h.7M284.4 89.3h.7M321.6 95.4h.7M286.9 113.6h.7M291.1 121.1h.7M270.0 95.2h.7M286.6 88.2h.7M275.8 121.7h.7M288.3 102.7h.7M276.4 104.6h.7M283.7 90.2h.7M295.0 87.6h.7M301.8 99.7h.7M252.7 84.1h.7M288.2 92.8h.7M309.1 121.8h.7M313.2 115.5h.7M302.8 96.2h.7M302.2 98.4h.7M283.5 86.5h.7M285.0 109.2h.7M283.3 89.8h.7M296.7 115.7h.7M283.0 114.1h.7M297.8 91.3h.7M283.7 80.0h.7M269.9 109.5h.7M272.0 109.1h.7M289.2 77.4h.7M277.4 123.6h.7M284.4 105.6h.7M274.4 83.3h.7M281.6 92.8h.7M285.7 79.0h.7M303.6 126.1h.7M273.7 108.2h.7M271.7 115.1h.7M272.5 102.2h.7M302.4 110.8h.7M279.6 84.4h.7M262.0 119.5h.7M291.3 104.7h.7M301.7 105.9h.7M274.0 102.6h.7M282.8 103.8h.7M318.9 111.5h.7M288.0 100.8h.7M274.7 91.1h.7M258.0 98.0h.7M263.0 80.0h.7M271.1 77.7h.7M303.4 120.1h.7M293.4 71.3h.7M284.5 91.1h.7M259.8 100.6h.7M300.3 109.8h.7M263.7 95.4h.7M273.5 118.9h.7M282.8 91.3h.7M271.4 78.4h.7M272.3 115.6h.7M257.4 106.5h.7M282.6 114.6h.7M268.1 115.8h.7M261.3 103.6h.7M281.2 105.6h.7M270.3 115.1h.7M317.0 123.6h.7M270.7 96.5h.7M294.4 105.8h.7M273.4 120.1h.7M291.4 117.3h.7M281.7 120.6h.7M277.6 89.5h.7M284.0 85.8h.7M301.7 113.5h.7M260.5 106.2h.7M296.0 99.3h.7M290.0 96.4h.7M283.1 102.9h.7M290.9 91.4h.7M268.2 108.3h.7M277.0 110.8h.7M277.0 86.9h.7M294.5 107.5h.7M294.4 99.6h.7M279.0 120.4h.7M260.3 126.6h.7M281.5 94.2h.7M272.1 103.5h.7M253.1 98.9h.7M249.0 69.1h.7M274.6 96.4h.7M284.4 102.8h.7M285.6 106.1h.7M246.8 112.1h.7M329.3 87.1h.7M242.3 104.6h.7M290.4 109.2h.7M304.1 75.5h.7M278.4 101.5h.7M297.7 82.5h.7M270.6 89.8h.7M266.5 93.0h.7M266.8 70.2h.7M269.3 96.0h.7M254.7 85.8h.7M250.9 117.5h.7M290.6 92.4h.7M248.6 101.7h.7M256.8 115.9h.7M294.6 93.3h.7M283.6 83.8h.7M235.0 106.9h.7M306.3 90.7h.7M258.4 69.8h.7M317.6 78.1h.7M248.6 92.3h.7M296.9 95.8h.7M269.6 95.3h.7M288.8 94.5h.7M273.6 94.0h.7M245.5 113.9h.7M254.7 76.5h.7M260.4 95.5h.7M288.2 74.3h.7M242.0 97.5h.7M278.5 79.6h.7M245.0 97.5h.7M266.9 72.3h.7M250.7 115.9h.7M246.6 109.8h.7M236.2 115.9h.7M305.5 86.1h.7M255.0 103.8h.7M242.6 102.8h.7M297.0 98.7h.7M277.2 92.8h.7M292.2 83.5h.7M305.2 94.7h.7M262.8 72.0h.7M260.3 98.3h.7M297.6 72.3h.7M267.2 85.4h.7M243.6 95.1h.7M253.2 107.2h.7M227.9 67.6h.7M281.5 90.2h.7M272.9 81.4h.7M246.8 84.7h.7M268.8 83.2h.7M260.7 82.9h.7M275.2 79.0h.7M224.0 58.1h.7M269.6 96.3h.7M286.1 93.5h.7M273.2 83.9h.7M284.6 94.6h.7M285.5 100.8h.7M279.3 80.4h.7M273.7 109.2h.7M274.3 108.1h.7M267.2 111.1h.7M295.9 115.1h.7M282.5 87.6h.7M276.3 93.5h.7M282.4 78.9h.7M272.5 109.1h.7M279.1 109.3h.7M285.8 89.0h.7M269.7 105.2h.7M279.1 101.9h.7M272.6 111.7h.7M281.0 113.9h.7M275.9 108.4h.7M279.7 90.6h.7M280.3 82.8h.7M277.6 102.8h.7M284.7 89.9h.7M271.2 92.1h.7M266.3 92.5h.7M295.8 104.3h.7M274.8 93.0h.7M291.8 89.4h.7M278.3 100.1h.7M275.0 92.6h.7M269.0 90.7h.7M285.9 117.4h.7M276.4 108.5h.7M281.9 102.5h.7M276.8 114.3h.7M282.9 98.9h.7M276.5 111.1h.7M275.9 92.7h.7M277.8 95.3h.7M286.8 105.7h.7M279.0 95.2h.7M287.7 106.8h.7M291.5 112.3h.7M278.2 94.8h.7M277.0 102.8h.7M283.6 106.9h.7M290.9 85.3h.7M280.7 85.4h.7M273.0 93.7h.7M275.8 89.9h.7M267.9 112.5h.7M275.9 111.4h.7M274.4 74.8h.7M274.2 110.3h.7M274.9 105.0h.7M270.5 115.6h.7M280.6 112.8h.7M275.8 114.9h.7M280.0 95.7h.7M274.8 101.2h.7M274.4 87.3h.7M279.1 108.9h.7M276.2 110.0h.7M290.7 88.1h.7M281.7 90.6h.7M274.6 102.5h.7M262.9 106.1h.7M283.8 107.5h.7M281.2 121.3h.7M275.4 112.8h.7M287.8 107.3h.7M267.6 98.1h.7M278.9 83.0h.7M277.8 109.3h.7M277.5 98.8h.7M289.2 95.2h.7M272.8 100.8h.7M285.6 108.2h.7M280.0 95.6h.7M286.0 111.5h.7M267.4 103.5h.7M261.8 115.8h.7M283.7 94.5h.7M271.0 96.8h.7M267.0 106.1h.7M277.6 81.2h.7M277.6 114.0h.7M271.1 96.3h.7M290.6 104.2h.7M275.2 102.7h.7M285.2 90.5h.7M280.2 83.0h.7M270.4 83.1h.7M284.1 104.9h.7M282.4 114.8h.7M279.0 103.6h.7M281.1 106.4h.7M272.4 97.3h.7M278.0 101.3h.7M274.3 99.0h.7M280.7 103.2h.7M281.9 110.4h.7M281.5 111.9h.7M282.9 116.8h.7M283.8 94.6h.7M292.8 114.9h.7M286.3 109.8h.7M280.6 88.5h.7M282.2 97.4h.7M278.8 77.3h.7M290.3 89.2h.7M271.4 105.4h.7M283.5 92.7h.7M278.7 103.8h.7M279.4 106.9h.7M284.4 97.5h.7M266.1 123.7h.7M277.6 89.9h.7M283.2 107.9h.7M272.4 126.4h.7M262.3 113.5h.7M278.4 104.4h.7M281.3 98.6h.7M282.5 86.9h.7M274.4 121.0h.7M260.9 112.8h.7M265.4 90.2h.7M285.1 97.1h.7M276.9 84.1h.7M278.4 99.0h.7M276.6 83.4h.7M279.5 105.7h.7M285.8 107.4h.7M287.5 115.1h.7M258.8 117.4h.7M279.5 89.4h.7M280.7 111.8h.7M270.3 86.4h.7M284.1 95.4h.7M288.2 104.3h.7M276.9 86.0h.7M284.8 82.5h.7M272.0 85.7h.7M288.2 120.8h.7M278.0 96.6h.7M282.2 115.1h.7M271.3 124.6h.7M276.4 113.3h.7M263.7 98.9h.7M272.3 122.3h.7M279.0 86.9h.7M292.4 94.7h.7M280.4 87.3h.7M283.2 103.5h.7M277.6 96.4h.7M276.1 92.7h.7M268.5 113.3h.7M286.3 86.3h.7M271.0 104.7h.7M293.9 100.2h.7M277.2 98.0h.7M280.8 99.2h.7M284.9 112.5h.7M280.8 118.6h.7M278.1 94.8h.7M300.5 81.7h.7M271.5 74.1h.7M282.5 89.5h.7M288.2 78.6h.7M278.5 96.6h.7M270.7 112.6h.7M275.9 105.7h.7M275.4 102.3h.7M276.0 101.5h.7M279.1 93.4h.7M282.0 99.2h.7M273.9 88.8h.7M280.4 115.9h.7M270.9 95.5h.7M280.8 112.7h.7M284.9 88.4h.7M278.2 110.9h.7M280.8 98.7h.7M271.1 102.0h.7M278.5 101.3h.7M287.4 115.0h.7M273.6 103.0h.7M276.9 101.9h.7M288.6 112.1h.7M280.0 93.8h.7M277.5 104.9h.7M274.5 112.8h.7M280.4 88.0h.7M295.5 70.5h.7M277.4 99.5h.7M284.2 113.9h.7M286.7 119.1h.7M280.9 102.4h.7M285.6 101.4h.7M271.3 95.2h.7M282.6 108.1h.7M270.5 113.4h.7M282.7 84.7h.7M280.9 112.3h.7M282.8 97.9h.7M272.6 112.8h.7M280.5 101.1h.7M277.5 89.4h.7M267.2 96.0h.7M285.4 110.1h.7M272.9 117.3h.7M278.6 89.8h.7M283.8 116.8h.7M277.8 87.3h.7M281.3 74.3h.7M277.7 117.8h.7M281.6 93.1h.7M284.1 96.0h.7M287.6 97.9h.7M292.6 98.5h.7M281.3 90.8h.7M270.3 103.9h.7M282.3 90.5h.7M283.1 96.8h.7M275.5 99.8h.7M280.8 109.2h.7M286.6 106.0h.7M275.0 93.0h.7M282.7 88.1h.7M278.3 96.7h.7M278.2 102.9h.7M284.0 119.7h.7M283.6 112.7h.7M270.9 111.7h.7M288.9 87.0h.7M296.0 96.4h.7M261.6 118.8h.7M280.3 92.2h.7M274.1 112.4h.7M281.1 97.0h.7M287.5 91.4h.7M274.1 94.3h.7M273.4 108.1h.7M278.7 89.3h.7M278.2 78.9h.7M280.0 102.2h.7M283.2 98.8h.7M282.6 91.0h.7M279.0 102.7h.7M270.5 106.6h.7M279.9 101.6h.7M273.7 122.7h.7M279.8 92.6h.7M272.8 106.9h.7M278.5 92.2h.7M273.3 110.8h.7M278.4 112.6h.7M280.2 88.0h.7M284.3 105.1h.7M275.1 97.2h.7M271.8 109.5h.7M275.8 106.0h.7M281.0 98.3h.7M281.7 98.5h.7M271.8 95.7h.7M270.5 108.5h.7M283.9 95.0h.7M282.7 104.1h.7M286.3 91.4h.7M280.3 90.1h.7M273.1 115.5h.7M267.0 89.7h.7M281.3 109.8h.7M276.1 78.2h.7M267.5 103.9h.7M285.1 111.6h.7M272.8 115.3h.7M277.1 107.6h.7M276.0 118.3h.7M278.0 77.2h.7M276.8 102.9h.7M281.6 93.3h.7M278.7 88.4h.7M277.4 101.8h.7M278.8 119.1h.7M265.5 105.4h.7M283.1 88.6h.7M279.5 101.0h.7M271.7 108.2h.7M290.6 109.6h.7M282.9 113.2h.7M277.1 111.6h.7M273.6 102.4h.7M282.1 115.7h.7M277.5 97.6h.7M282.1 100.4h.7M279.0 109.9h.7M273.1 110.1h.7M281.7 98.4h.7M271.6 93.3h.7M277.7 111.2h.7M265.5 107.5h.7M281.5 88.8h.7M284.1 105.9h.7M282.9 90.6h.7M270.9 110.2h.7M287.6 105.9h.7M278.2 96.0h.7M266.9 110.6h.7M277.0 114.3h.7M273.2 112.0h.7M273.8 106.9h.7M288.6 94.2h.7M284.8 101.5h.7M272.7 102.6h.7M283.9 93.6h.7M277.9 94.6h.7M274.3 98.2h.7M284.8 96.1h.7" stroke="#222" stroke-width="0.7" fill="none" opacity="1"/>
<path d="M279 116.5 C282 112 283.4 100 285.4 91 C287.6 85.4 294.6 85.6 296.2 91.6 C297.8 100 297.2 108 294 113.6 C290 118.6 284 120.4 279 120.8Z" fill="#000" opacity="0.8" filter="url(#bl2)"/>
<path d="M284 112 C285.6 104 287 97 289 91.4 C291 88.6 293.6 89.6 294.4 93 C295.4 100 295 107 292.4 112.4 C289.6 116 286 116.4 284 112Z" fill="#000" opacity="0.75" filter="url(#bl)"/>
<ellipse cx="268.6" cy="119.6" rx="13.4" ry="4.2" fill="#000" transform="rotate(-15 268.6 119.6)" filter="url(#bl)"/>
<ellipse cx="279" cy="116.6" rx="6" ry="3.2" fill="#000" transform="rotate(-25 279 116.6)" filter="url(#bl)"/>
<ellipse cx="302.2" cy="121.6" rx="5.6" ry="2.5" fill="#000" opacity="0.9" transform="rotate(-16 302.2 121.6)" filter="url(#bl)"/>
<rect x="222.5" y="47.2" width="118.5" height="84.0" fill="none" stroke="#000" stroke-width="1.25"/>
<rect x="252.8" y="108.4" width="30.6" height="19.5" fill="none" stroke="#000" stroke-width="1.7"/>
<path d="M284.7 79.6 L293.5 79.6 L298.8 86.4 L298.8 108.6 L283.4 115.6 L280.5 108.4 L280.5 85.4Z" fill="none" stroke="#000" stroke-width="1.8" stroke-linejoin="round"/>
<text transform="translate(229.24,126.2) scale(1.07,1)" font-size="12.57" stroke="#000" stroke-width="0.3">R1</text>
<text transform="translate(307.23,102.5) scale(1.07,1)" font-size="12.7" stroke="#000" stroke-width="0.3">R2</text>
<path d="M467.6 101.9h.7M449.3 115.6h.7M469.1 99.4h.7M461.3 94.5h.7M452.0 102.0h.7M462.5 93.7h.7M451.0 99.0h.7M456.7 93.9h.7M457.8 91.3h.7M463.6 93.1h.7M438.1 121.2h.7M467.6 97.6h.7M445.5 110.0h.7M474.9 111.1h.7M462.0 94.3h.7M439.0 109.1h.7M465.3 106.8h.7M455.7 118.5h.7M447.9 115.8h.7M463.6 99.6h.7M457.0 106.5h.7M461.3 96.3h.7M453.6 106.3h.7M456.1 105.7h.7M458.1 103.7h.7M451.1 115.2h.7M449.8 102.5h.7M447.5 94.7h.7M460.0 105.1h.7M454.5 109.7h.7M454.2 111.9h.7M472.7 108.8h.7M453.3 121.0h.7M462.4 89.9h.7M468.3 107.5h.7M463.8 94.7h.7M447.9 99.4h.7M461.0 95.0h.7M449.2 114.4h.7M449.8 106.6h.7M447.4 89.6h.7M455.0 104.4h.7M442.4 114.6h.7M463.5 113.8h.7M451.0 94.8h.7M454.9 107.0h.7M454.2 100.0h.7M446.5 98.6h.7M455.0 100.9h.7M471.4 102.9h.7M460.0 101.1h.7M454.1 96.4h.7M451.3 91.5h.7M436.4 118.0h.7M445.9 109.5h.7M454.6 100.2h.7M462.6 100.3h.7M459.8 102.0h.7M464.8 114.4h.7M456.4 115.7h.7M460.5 120.0h.7M454.7 91.1h.7M457.8 107.7h.7M452.4 103.6h.7M453.3 93.8h.7M471.8 98.3h.7M445.8 90.8h.7M447.9 105.1h.7M469.5 111.1h.7M449.0 93.9h.7M445.4 104.7h.7M463.9 101.0h.7M470.7 123.5h.7M457.3 85.3h.7M465.9 104.6h.7M462.0 114.7h.7M446.4 106.1h.7M457.4 98.5h.7M462.2 104.3h.7M452.0 123.0h.7M457.3 120.7h.7M454.3 115.1h.7M448.8 106.9h.7M465.8 85.3h.7M460.8 103.0h.7M465.9 107.1h.7M455.1 93.6h.7M483.1 98.6h.7M452.8 98.8h.7M453.0 107.5h.7M443.4 115.3h.7M453.3 111.1h.7M436.2 100.6h.7M453.0 101.9h.7M449.6 108.4h.7M459.6 96.4h.7M437.5 112.3h.7M452.8 115.4h.7M463.9 104.5h.7M442.5 102.1h.7M449.0 117.0h.7M440.0 114.0h.7M441.5 100.2h.7M442.6 99.0h.7M451.7 108.9h.7M450.3 111.9h.7M472.0 107.0h.7M445.1 103.8h.7M454.8 102.1h.7M466.4 116.2h.7M474.3 110.3h.7M431.0 104.2h.7M462.0 98.0h.7M450.2 113.9h.7M457.1 95.0h.7M450.3 76.8h.7M455.7 94.1h.7M455.3 94.4h.7M447.1 100.7h.7M481.6 94.4h.7M444.7 100.5h.7M465.6 112.9h.7M462.2 102.5h.7M456.9 98.3h.7M454.1 98.0h.7M442.3 96.2h.7M473.6 109.2h.7M448.8 104.5h.7M451.5 116.8h.7M455.5 99.6h.7M462.0 108.4h.7M449.4 98.3h.7M457.0 90.2h.7M447.3 114.9h.7M463.7 115.8h.7M451.6 99.9h.7M453.2 101.0h.7M467.6 103.4h.7M468.3 98.9h.7M459.2 120.5h.7M448.8 99.4h.7M450.2 90.5h.7M453.0 99.5h.7M476.1 101.0h.7M435.9 114.2h.7M464.5 105.1h.7M458.4 112.1h.7M450.5 105.8h.7M457.0 120.9h.7M468.8 107.0h.7M443.3 113.7h.7M455.2 116.3h.7M456.2 107.1h.7M461.8 98.7h.7M449.6 126.8h.7M447.7 114.1h.7M462.0 113.1h.7M468.4 93.0h.7M464.5 86.3h.7M456.2 108.6h.7M465.2 115.6h.7M447.1 102.9h.7M454.2 99.0h.7M448.1 99.3h.7M466.3 118.1h.7M462.6 121.1h.7M456.5 95.3h.7M449.6 107.4h.7M465.2 116.8h.7M447.4 114.4h.7M450.8 111.0h.7M464.2 119.3h.7M450.8 107.7h.7M459.6 101.6h.7M456.5 111.0h.7M440.5 99.5h.7M477.0 109.7h.7M450.5 88.4h.7M446.8 110.3h.7M462.0 109.6h.7M461.2 99.9h.7M470.4 95.0h.7M460.4 103.0h.7M439.9 113.9h.7M453.1 112.1h.7M467.4 107.0h.7M449.6 103.5h.7M455.0 118.9h.7M463.6 120.3h.7M462.7 98.4h.7M464.2 114.5h.7M454.5 109.8h.7M452.7 93.7h.7M454.8 112.6h.7M452.3 84.6h.7M448.3 115.6h.7M457.7 115.9h.7M448.7 101.6h.7M446.4 98.2h.7M460.4 106.8h.7M451.2 108.3h.7M443.6 101.8h.7M441.8 91.5h.7M443.1 95.2h.7M470.2 118.3h.7M467.3 100.1h.7M461.4 94.9h.7M450.7 107.7h.7M440.9 107.3h.7M461.3 86.2h.7M433.1 102.9h.7M454.5 106.8h.7M445.2 110.8h.7M456.8 98.6h.7M470.8 107.9h.7M462.5 122.8h.7M451.1 103.4h.7M439.6 103.4h.7M459.7 128.9h.7M460.9 107.4h.7M444.0 97.5h.7M438.6 92.6h.7M456.7 108.3h.7M447.2 103.4h.7M448.2 111.3h.7M461.6 100.3h.7M451.4 94.0h.7M451.3 126.0h.7M455.5 113.5h.7M461.0 119.3h.7M452.6 97.0h.7M465.2 114.1h.7M449.5 115.7h.7M455.5 105.1h.7M472.6 110.5h.7M458.5 102.5h.7M457.5 115.4h.7M459.9 98.4h.7M459.8 104.4h.7M458.5 103.7h.7M435.4 90.4h.7M452.1 84.8h.7M441.7 124.5h.7M462.1 101.2h.7M458.7 84.5h.7M457.9 114.7h.7M457.4 93.2h.7M464.6 100.5h.7M450.4 107.3h.7M452.8 124.6h.7M454.4 125.7h.7M459.8 93.8h.7M455.6 106.0h.7M469.0 117.5h.7M479.3 99.2h.7M451.6 127.4h.7M447.3 108.8h.7M470.6 96.0h.7M452.4 98.5h.7M460.5 109.3h.7M455.3 111.7h.7M448.3 101.9h.7M460.0 124.5h.7M455.3 106.1h.7M467.8 106.2h.7M467.7 107.7h.7M466.4 107.2h.7M447.1 97.5h.7M459.6 123.2h.7M473.0 102.5h.7M478.9 95.0h.7M447.8 114.3h.7M441.5 114.1h.7M459.2 111.4h.7M444.4 109.1h.7M464.4 105.0h.7M465.2 105.7h.7M458.8 102.5h.7M443.0 104.0h.7M460.3 98.3h.7M437.5 90.9h.7M467.9 103.4h.7M448.5 117.2h.7M454.0 91.3h.7M451.6 97.2h.7M453.9 96.9h.7M456.3 109.8h.7M450.3 103.6h.7M454.2 113.3h.7M449.0 112.6h.7M467.3 103.7h.7M446.6 102.6h.7M439.1 100.4h.7M444.5 103.9h.7M452.2 110.4h.7M456.7 109.5h.7M455.2 108.2h.7M445.1 111.8h.7M467.8 116.0h.7M443.1 109.5h.7M440.5 112.7h.7M453.7 101.1h.7M448.7 103.3h.7M455.6 96.4h.7M456.2 108.0h.7M460.6 105.1h.7M455.6 127.5h.7M465.1 108.6h.7M442.7 111.4h.7M461.0 80.3h.7M454.1 109.1h.7M456.0 106.4h.7M454.2 118.6h.7M459.2 102.8h.7M453.5 125.3h.7M447.6 100.5h.7M458.7 106.9h.7M458.5 118.4h.7M466.3 109.5h.7M456.1 104.9h.7M453.5 115.0h.7M443.8 95.6h.7M451.4 96.4h.7M448.8 116.8h.7M434.6 111.0h.7M443.4 103.2h.7M450.3 96.1h.7M441.8 106.2h.7M428.0 85.4h.7M452.0 115.9h.7M473.0 102.7h.7M448.2 102.8h.7M460.1 114.4h.7M446.8 110.0h.7M455.4 116.4h.7M451.9 103.5h.7M447.7 92.9h.7M458.2 112.3h.7M466.2 108.1h.7M451.4 96.8h.7M444.8 98.6h.7M458.8 106.4h.7M434.2 104.5h.7M453.0 95.6h.7M455.5 110.5h.7M446.0 92.7h.7M452.7 108.0h.7M453.3 120.2h.7M457.1 96.0h.7M463.0 99.4h.7M462.2 106.4h.7M467.3 96.0h.7M462.5 109.5h.7M447.2 112.2h.7M477.0 108.9h.7M448.5 104.1h.7M467.9 107.9h.7M469.6 99.3h.7M468.0 90.5h.7M454.1 102.7h.7M451.1 117.1h.7M450.1 108.8h.7M473.1 113.3h.7M451.8 98.6h.7M436.9 109.1h.7M464.1 116.0h.7M458.0 126.0h.7M463.0 83.5h.7M447.4 113.1h.7M452.0 113.5h.7M479.9 98.3h.7M476.5 104.7h.7M441.9 106.4h.7M464.2 100.0h.7M470.6 97.2h.7M453.9 114.3h.7M453.7 100.2h.7M455.6 111.7h.7M472.1 118.4h.7M473.4 105.2h.7M440.1 105.1h.7M451.8 96.0h.7M450.9 104.9h.7M456.2 114.2h.7M447.1 116.4h.7M456.2 112.5h.7M467.5 93.7h.7M470.8 98.7h.7M459.5 115.8h.7M464.5 90.6h.7M457.3 116.3h.7M454.6 104.7h.7M456.4 121.1h.7M450.6 96.5h.7M445.3 100.5h.7M453.5 108.8h.7M455.0 89.2h.7M440.9 112.0h.7M462.6 92.6h.7M464.6 82.4h.7M477.8 111.1h.7M440.1 110.4h.7M455.4 101.2h.7M452.3 103.4h.7M454.8 96.9h.7M450.4 110.8h.7M460.8 92.9h.7M451.1 120.4h.7M462.6 121.2h.7M443.0 95.6h.7M435.2 87.1h.7M452.2 95.5h.7M445.4 98.9h.7M454.0 113.4h.7M461.1 88.8h.7M469.9 102.4h.7M446.3 105.2h.7M452.0 92.3h.7M470.6 100.0h.7M450.1 110.6h.7M471.7 110.1h.7M447.2 109.7h.7M466.3 109.1h.7M461.9 100.9h.7M455.1 89.5h.7M449.0 94.7h.7M455.9 119.7h.7M434.4 92.9h.7M447.0 104.7h.7M466.8 98.1h.7M448.3 117.1h.7M459.3 110.5h.7M463.7 98.4h.7M457.9 99.2h.7M448.9 106.8h.7M459.9 93.4h.7M448.5 111.3h.7M457.4 111.8h.7M452.8 97.8h.7M463.2 111.2h.7M428.7 113.8h.7M448.5 111.9h.7M470.7 102.8h.7M446.5 108.0h.7M456.6 110.9h.7M442.4 107.8h.7M464.3 112.2h.7M461.8 116.9h.7M447.9 117.2h.7M457.8 96.0h.7M453.0 108.1h.7M458.9 118.4h.7M457.6 100.6h.7M476.6 102.4h.7M447.9 114.3h.7M451.8 98.0h.7M445.7 116.8h.7M445.7 106.5h.7M451.4 103.7h.7M448.0 107.0h.7M461.6 115.6h.7M452.4 94.4h.7M441.7 105.6h.7M432.1 118.2h.7M456.1 106.7h.7M442.5 99.4h.7M448.7 112.0h.7M451.9 111.4h.7M460.7 87.2h.7M453.6 117.5h.7M450.9 106.8h.7M454.6 93.9h.7M476.6 104.3h.7M461.9 101.3h.7M469.2 116.5h.7M467.1 114.6h.7M462.5 118.8h.7M459.6 106.8h.7M463.5 97.1h.7M431.6 113.3h.7M457.3 98.9h.7M453.2 96.5h.7M447.8 107.4h.7M457.0 113.5h.7M454.9 111.6h.7M462.3 98.9h.7M439.7 99.1h.7M453.4 100.5h.7M476.9 99.1h.7M460.3 98.3h.7M462.4 93.6h.7M464.9 107.3h.7M452.0 94.2h.7M471.7 100.1h.7M469.5 82.7h.7M444.4 122.8h.7M472.8 105.8h.7M465.3 111.4h.7M452.4 106.8h.7M444.9 92.9h.7M457.0 112.5h.7M457.3 93.9h.7M463.9 106.4h.7M463.0 102.9h.7M453.3 115.6h.7M468.9 94.2h.7M445.2 114.8h.7M459.2 106.1h.7M446.5 115.2h.7M457.6 107.7h.7M459.5 100.6h.7M459.6 106.9h.7M462.7 109.2h.7M443.6 98.9h.7M453.2 116.6h.7M449.6 116.4h.7M466.1 113.9h.7M477.3 105.5h.7M458.9 117.2h.7M459.7 115.0h.7M454.6 119.0h.7M459.2 87.5h.7M466.1 103.8h.7M447.4 102.8h.7M453.1 116.5h.7M459.0 105.0h.7M455.7 97.1h.7M449.7 101.2h.7M453.6 94.6h.7M452.0 115.1h.7M460.1 105.6h.7M459.1 103.3h.7M444.5 114.0h.7M477.2 110.5h.7M462.3 128.9h.7M444.3 110.6h.7M452.5 103.0h.7M440.0 104.9h.7M459.6 90.5h.7M453.7 101.0h.7M446.3 111.6h.7M471.5 109.6h.7M465.6 112.8h.7M455.2 111.1h.7M468.4 101.6h.7M454.4 92.6h.7M438.1 97.9h.7M464.3 109.1h.7M458.3 118.1h.7M439.0 118.7h.7M456.6 113.0h.7M469.0 98.0h.7M447.5 109.5h.7M455.3 100.1h.7M454.6 98.8h.7M457.1 102.0h.7M472.0 95.8h.7M461.3 106.4h.7M470.9 96.5h.7M451.4 122.0h.7M449.5 102.1h.7M452.1 96.4h.7M467.4 119.9h.7M454.4 98.5h.7M442.9 111.9h.7M450.7 110.8h.7M432.8 101.6h.7M461.8 109.6h.7M428.5 108.4h.7M457.0 105.4h.7M452.5 101.5h.7M457.2 110.4h.7M425.6 105.5h.7M464.7 103.6h.7M467.5 96.8h.7M474.0 114.7h.7M469.5 120.6h.7M444.4 104.6h.7M460.3 115.5h.7M456.5 93.4h.7M467.5 104.0h.7M460.0 102.6h.7M454.7 92.7h.7M462.2 99.7h.7M438.9 109.5h.7M455.5 114.7h.7M463.6 94.2h.7M454.1 105.6h.7M456.7 95.7h.7M456.5 114.9h.7M467.6 119.3h.7M463.0 81.9h.7M453.2 100.5h.7M428.1 120.1h.7M464.5 105.6h.7M459.2 110.2h.7M453.7 118.5h.7M473.2 113.3h.7M450.5 108.0h.7M465.1 112.4h.7M449.3 114.6h.7M462.7 111.1h.7M451.8 105.4h.7M437.6 105.3h.7M451.6 102.8h.7M453.1 102.6h.7M456.6 106.5h.7M450.0 104.4h.7M454.9 110.2h.7M460.0 102.2h.7M447.9 90.2h.7M443.9 109.4h.7M447.0 120.7h.7M454.3 102.0h.7M454.3 100.5h.7M449.8 106.2h.7M442.0 106.9h.7M454.9 97.1h.7M465.6 109.0h.7M466.1 99.3h.7M444.0 94.5h.7M440.8 87.8h.7M470.7 101.1h.7M457.6 100.6h.7M454.4 120.4h.7M439.3 96.3h.7M457.1 97.1h.7M462.4 117.7h.7M464.3 112.6h.7M454.3 115.0h.7M448.2 94.4h.7M453.3 103.2h.7M467.5 96.3h.7M466.7 98.3h.7M443.8 89.7h.7M455.5 92.0h.7M457.8 106.0h.7M452.0 87.5h.7M450.9 109.8h.7M438.8 112.1h.7M456.0 100.5h.7M457.7 111.7h.7M455.6 98.3h.7M463.3 99.2h.7M459.2 114.7h.7M468.3 120.5h.7M465.6 106.9h.7M453.9 107.3h.7M462.1 97.8h.7M470.3 90.6h.7M465.4 93.6h.7M445.4 100.8h.7M453.1 92.9h.7M461.7 104.5h.7M468.6 96.0h.7M438.5 112.0h.7M453.7 114.7h.7M433.5 93.8h.7M456.7 123.9h.7M444.1 87.7h.7M451.5 118.8h.7M470.9 92.8h.7M450.0 88.3h.7M447.8 96.5h.7M459.9 116.2h.7M478.5 102.2h.7M463.6 107.6h.7M457.0 123.7h.7M462.5 120.2h.7M458.7 113.7h.7M460.6 104.7h.7M449.2 101.8h.7M455.9 102.0h.7M452.6 98.9h.7M464.0 103.3h.7M454.7 103.5h.7M468.3 100.5h.7M469.3 97.5h.7M470.4 111.3h.7M451.1 109.8h.7M466.6 96.6h.7M453.7 108.5h.7M453.8 102.8h.7M456.0 108.5h.7M463.2 119.4h.7M452.7 122.2h.7M454.6 91.9h.7M451.7 102.3h.7M466.0 86.6h.7M449.8 104.3h.7M462.1 109.3h.7M464.0 104.0h.7M453.6 116.9h.7M472.2 109.1h.7M457.3 97.5h.7M475.8 109.3h.7M471.4 118.2h.7M466.3 121.7h.7M475.4 123.6h.7M470.3 129.5h.7M461.2 118.7h.7M470.6 123.6h.7M467.3 122.0h.7M467.5 123.8h.7M464.6 121.1h.7M468.9 119.4h.7M470.8 116.2h.7M470.5 122.8h.7M459.8 125.4h.7M459.4 127.7h.7M462.3 125.5h.7M465.7 127.5h.7M465.2 125.5h.7M466.5 116.4h.7M468.8 124.4h.7M468.1 128.1h.7M464.0 117.3h.7M468.8 120.6h.7M466.5 122.4h.7M461.9 125.0h.7M465.2 127.9h.7M467.7 126.1h.7M465.9 120.2h.7M464.7 119.2h.7M469.3 123.4h.7M462.2 116.6h.7M463.6 115.9h.7M463.2 116.8h.7M471.5 119.7h.7M463.9 121.5h.7M466.9 123.9h.7M470.7 125.3h.7M464.4 126.0h.7M469.5 120.7h.7M475.8 120.5h.7M468.8 126.9h.7M467.4 123.7h.7M467.3 124.7h.7M468.2 122.8h.7M472.0 117.4h.7M468.6 121.9h.7M477.3 125.5h.7M463.1 123.8h.7M465.7 118.4h.7M465.2 123.8h.7M472.7 127.1h.7M468.3 122.3h.7M467.3 126.5h.7M465.6 126.0h.7M462.8 121.6h.7M470.7 125.5h.7M468.4 121.1h.7M457.7 119.2h.7M462.8 120.3h.7M475.9 121.8h.7M471.6 123.4h.7M461.1 121.7h.7M471.8 119.6h.7M461.1 120.1h.7M471.3 121.4h.7M469.0 124.4h.7M466.8 123.9h.7M473.9 123.3h.7M469.4 119.6h.7M463.2 121.4h.7M471.8 121.3h.7M459.0 123.9h.7M481.3 117.1h.7M461.3 121.7h.7M470.2 120.1h.7M468.1 126.3h.7M465.1 124.5h.7M468.3 119.8h.7M464.2 120.0h.7M473.4 127.5h.7M469.3 117.9h.7M464.7 120.7h.7M456.8 120.4h.7M469.4 118.7h.7M465.0 120.6h.7M476.4 126.6h.7M471.0 123.6h.7M459.7 124.0h.7M464.7 115.8h.7M471.1 122.2h.7M466.7 124.1h.7M465.5 123.5h.7M474.0 122.9h.7M465.1 122.2h.7M470.7 122.0h.7M467.9 120.5h.7M466.3 124.1h.7M462.8 121.1h.7M459.7 118.8h.7M467.1 124.2h.7M461.6 121.1h.7M461.9 122.5h.7M468.1 124.2h.7M466.8 117.9h.7M464.9 117.8h.7M463.5 121.6h.7M473.1 121.7h.7M462.8 122.3h.7M454.9 126.5h.7M458.3 124.0h.7M471.6 126.5h.7M466.0 124.7h.7M464.6 125.1h.7M464.1 119.3h.7M469.3 121.5h.7M471.1 120.6h.7M469.0 119.8h.7M465.1 129.0h.7M462.1 117.6h.7M458.7 120.1h.7M475.8 122.8h.7M472.0 122.9h.7M462.4 128.0h.7M473.8 118.0h.7M461.6 122.7h.7M470.6 122.5h.7M468.3 124.5h.7M464.6 125.2h.7M462.1 123.9h.7M471.7 124.1h.7M465.2 122.1h.7M455.2 120.9h.7M460.8 114.8h.7M471.6 120.5h.7M468.8 123.0h.7M458.4 117.9h.7M465.3 123.7h.7M468.2 118.7h.7M464.2 122.3h.7M460.6 119.8h.7M465.5 115.4h.7M475.5 127.0h.7M464.0 124.9h.7M460.6 126.1h.7M465.0 122.5h.7M463.9 122.2h.7M468.7 123.0h.7M462.2 124.0h.7M469.9 123.1h.7M473.0 121.3h.7M473.8 123.4h.7M475.2 122.7h.7M465.6 122.9h.7M471.8 128.1h.7M465.1 119.8h.7M470.2 127.1h.7M470.9 122.2h.7M473.7 123.8h.7M467.5 124.6h.7M465.5 114.9h.7M467.7 124.9h.7M469.0 124.6h.7M467.2 125.9h.7M466.7 127.2h.7M466.8 125.0h.7M463.9 122.9h.7M469.1 123.4h.7M475.0 124.3h.7M472.6 124.8h.7M473.3 120.9h.7M464.5 125.1h.7M462.5 122.9h.7M469.8 123.7h.7M469.0 124.6h.7M465.5 123.5h.7M464.6 120.6h.7M458.8 120.5h.7M458.1 120.8h.7M468.8 119.4h.7M467.2 123.5h.7M465.8 119.3h.7M466.2 123.7h.7M470.6 129.5h.7M456.5 121.5h.7M469.7 121.0h.7M467.4 129.3h.7M466.7 126.8h.7M472.8 122.3h.7M454.2 123.6h.7M476.1 118.7h.7M466.4 120.1h.7M468.0 122.9h.7M473.3 121.9h.7M478.1 119.3h.7M466.1 124.3h.7M471.9 122.4h.7M456.9 121.1h.7M472.1 117.0h.7M464.1 123.7h.7M454.6 119.4h.7M459.6 116.7h.7M468.4 126.5h.7M473.5 121.7h.7M470.8 117.6h.7M458.9 122.6h.7M465.6 118.9h.7M457.4 119.8h.7M479.9 118.6h.7M460.8 124.9h.7M457.4 118.5h.7M466.7 126.1h.7M465.5 128.1h.7M466.9 122.1h.7M469.1 124.1h.7M459.8 118.0h.7M465.6 123.3h.7M461.1 119.0h.7M462.9 122.8h.7M464.4 123.9h.7M469.6 120.1h.7M466.2 118.3h.7M467.1 125.1h.7M463.0 116.0h.7M469.9 122.2h.7M466.6 123.9h.7M468.4 125.8h.7M466.0 115.2h.7M464.6 121.0h.7M464.6 123.3h.7M464.9 126.3h.7M463.7 121.8h.7M463.8 128.7h.7M462.6 118.4h.7M464.5 124.5h.7M467.2 122.0h.7M460.6 114.5h.7M466.0 121.5h.7M476.0 125.5h.7M468.6 126.0h.7M463.1 117.7h.7M464.1 126.7h.7M472.6 121.7h.7M459.9 124.1h.7M473.4 120.2h.7M475.9 121.8h.7M471.1 122.7h.7M465.7 120.2h.7M470.3 125.2h.7M447.0 106.4h.7M457.4 101.4h.7M431.2 129.1h.7M440.7 112.5h.7M449.7 110.0h.7M446.9 124.5h.7M420.1 128.4h.7M428.3 119.4h.7M438.0 115.7h.7M463.6 96.3h.7M451.2 111.3h.7M440.6 108.1h.7M447.0 110.8h.7M458.0 109.3h.7M421.3 99.5h.7M457.5 106.8h.7M438.9 108.2h.7M471.5 105.9h.7M438.9 110.2h.7M450.0 117.8h.7M448.0 115.6h.7M443.1 113.6h.7M425.2 121.5h.7M439.3 112.2h.7M437.3 116.4h.7M431.9 115.3h.7M425.0 111.1h.7M431.6 113.8h.7M418.8 104.7h.7M460.9 109.2h.7M436.6 118.7h.7M421.1 109.9h.7M444.7 114.5h.7M431.3 117.2h.7M451.5 107.5h.7M443.0 115.4h.7M411.2 118.0h.7M425.5 122.3h.7M425.6 105.3h.7M448.4 106.4h.7M456.9 119.2h.7M416.1 115.4h.7M455.9 115.0h.7M444.7 112.8h.7M449.0 112.7h.7M427.1 125.4h.7M448.8 104.4h.7M427.0 115.7h.7M434.1 119.9h.7M447.8 108.4h.7M429.6 104.0h.7M430.9 109.5h.7M433.9 118.5h.7M427.3 115.1h.7M425.2 118.5h.7M439.1 120.9h.7M444.5 105.8h.7M431.9 118.4h.7M444.4 108.8h.7M437.3 114.1h.7M427.6 121.4h.7M445.7 109.8h.7M426.1 120.1h.7M438.8 115.6h.7M437.0 120.7h.7M454.0 111.3h.7M445.7 119.0h.7M438.0 112.3h.7M422.8 122.0h.7M449.6 99.7h.7M443.6 100.5h.7M448.4 122.3h.7M435.6 105.6h.7M441.7 110.4h.7M446.3 104.9h.7M417.8 120.8h.7M449.0 115.6h.7M442.2 111.5h.7M446.1 107.6h.7M434.6 117.2h.7M449.7 103.2h.7M442.5 106.1h.7M431.2 118.6h.7M421.1 116.1h.7M423.5 116.8h.7M446.1 109.7h.7M416.0 107.0h.7M441.9 106.5h.7M449.5 104.2h.7M422.1 117.3h.7M417.0 114.0h.7M445.3 105.5h.7M444.9 105.4h.7M434.5 111.2h.7M430.6 112.5h.7M455.7 103.5h.7M456.8 112.0h.7M437.2 112.8h.7M433.9 116.8h.7M444.2 110.1h.7M426.4 112.4h.7M463.3 112.9h.7M422.8 116.9h.7M440.4 116.8h.7M438.4 115.2h.7M446.8 117.7h.7M427.7 127.7h.7M445.6 113.6h.7M421.0 121.0h.7M438.0 118.5h.7M448.9 112.9h.7M428.3 128.6h.7M442.7 118.2h.7M436.5 108.9h.7M470.8 100.7h.7M446.0 105.6h.7M440.0 121.1h.7M449.7 120.8h.7M449.0 99.2h.7M425.2 129.6h.7M444.9 107.8h.7M433.8 111.6h.7M458.7 101.0h.7M426.1 127.1h.7M439.1 115.8h.7M434.4 115.2h.7M419.2 128.0h.7M429.8 115.1h.7M446.6 118.7h.7M413.9 125.7h.7M448.4 115.8h.7M429.6 120.7h.7M446.4 116.2h.7M431.2 115.9h.7M436.7 123.1h.7M449.8 103.8h.7M438.0 115.3h.7M428.2 118.1h.7M451.2 112.4h.7M429.0 113.5h.7M432.8 105.2h.7M442.8 111.9h.7M422.9 120.1h.7M430.4 115.7h.7M433.3 126.6h.7M430.3 123.6h.7M445.9 120.4h.7M438.2 113.5h.7M433.5 101.6h.7M465.5 97.0h.7M431.6 108.5h.7M442.5 123.5h.7M431.7 120.5h.7M453.6 112.3h.7M428.6 105.4h.7M445.3 114.0h.7M433.7 112.7h.7M453.7 93.0h.7M431.0 112.8h.7M418.8 118.8h.7M433.7 125.4h.7M414.6 116.0h.7M436.8 102.5h.7M414.0 122.0h.7M422.0 115.0h.7M438.5 116.8h.7M430.6 115.6h.7M446.5 107.8h.7M445.3 105.2h.7M448.5 117.6h.7M434.1 113.2h.7M438.5 116.9h.7M425.2 120.9h.7M436.7 125.2h.7M421.2 127.7h.7M432.9 110.8h.7M439.6 110.9h.7M440.1 114.3h.7M451.2 103.4h.7M449.3 87.1h.7M463.5 108.9h.7M457.3 104.6h.7M438.8 105.5h.7M450.4 98.1h.7M429.8 118.1h.7M442.6 113.7h.7M424.5 118.4h.7M448.2 117.1h.7M448.9 110.9h.7M434.1 111.7h.7M432.7 115.8h.7M443.2 107.0h.7M459.1 94.6h.7M447.5 106.9h.7M436.0 111.9h.7M455.3 101.9h.7M445.5 110.5h.7M449.2 112.0h.7M455.3 98.7h.7M434.9 128.2h.7M453.6 105.7h.7M436.4 116.5h.7M451.2 100.7h.7M455.2 103.9h.7M433.5 113.1h.7M416.0 128.1h.7M422.1 118.1h.7M429.4 120.1h.7M447.2 109.0h.7M442.3 114.4h.7M458.9 106.6h.7M456.5 103.1h.7M440.8 107.2h.7M442.9 104.6h.7M442.2 106.6h.7M438.7 122.5h.7M443.0 116.9h.7M430.2 103.9h.7M455.0 103.0h.7M434.5 122.7h.7M423.6 115.9h.7M449.7 102.1h.7M450.7 104.4h.7M436.7 114.9h.7M436.6 122.5h.7M451.5 106.8h.7M447.5 112.6h.7M453.0 93.6h.7M453.4 112.1h.7M435.3 115.2h.7M438.8 122.5h.7M427.8 123.8h.7M455.3 108.6h.7M431.9 113.5h.7M411.5 120.4h.7M448.3 100.9h.7M419.4 122.0h.7M423.4 125.1h.7M431.9 124.1h.7M433.0 105.7h.7M428.0 114.3h.7M433.2 125.6h.7M428.6 121.5h.7M434.1 120.3h.7M417.7 113.0h.7M449.2 118.3h.7M422.1 120.0h.7M430.1 111.0h.7M450.0 107.5h.7M422.4 120.6h.7M451.8 100.8h.7M430.4 111.6h.7M439.0 109.0h.7M446.4 102.9h.7M423.7 124.9h.7M399.8 127.4h.7M442.8 112.9h.7M430.9 114.2h.7M429.1 117.2h.7M435.4 119.2h.7M440.7 116.4h.7M456.6 101.5h.7M436.8 117.2h.7M461.6 98.1h.7M461.8 109.6h.7M404.6 124.5h.7M429.0 121.6h.7M454.2 105.3h.7M447.6 124.7h.7M449.7 123.4h.7M433.9 128.3h.7M425.4 102.3h.7M428.0 115.6h.7M440.8 117.8h.7M448.4 111.9h.7M436.0 128.2h.7M452.6 106.0h.7M432.2 116.5h.7M434.1 110.6h.7M436.7 109.4h.7M444.1 105.4h.7M445.5 112.0h.7M442.4 115.2h.7M433.3 121.8h.7M437.8 110.5h.7M462.2 108.8h.7M437.5 118.2h.7M451.7 118.1h.7M449.9 105.9h.7M432.3 108.0h.7M444.6 116.6h.7M436.6 119.5h.7M438.9 109.7h.7M428.5 127.2h.7M469.5 100.6h.7M423.3 113.9h.7M443.8 115.4h.7M448.6 89.7h.7M460.5 102.6h.7M441.7 114.6h.7M434.0 113.7h.7M445.4 96.5h.7M439.4 117.1h.7M419.6 122.5h.7M457.5 105.8h.7M449.2 112.9h.7M442.6 113.9h.7M429.0 117.0h.7M456.1 94.5h.7M433.0 106.8h.7M430.4 112.0h.7M425.7 122.2h.7M429.8 122.1h.7M451.4 87.0h.7M430.4 102.0h.7M438.7 116.1h.7M445.2 118.9h.7M435.3 102.1h.7M453.1 98.2h.7M438.9 115.6h.7M429.2 119.2h.7M450.6 94.0h.7M418.5 120.9h.7M433.0 106.7h.7M439.2 103.0h.7M445.3 109.2h.7M436.5 104.3h.7M438.0 117.3h.7M415.6 117.9h.7M456.4 118.7h.7M446.3 108.6h.7M425.3 117.5h.7M437.5 117.3h.7M444.0 129.2h.7M447.1 92.0h.7M425.6 120.4h.7M451.5 109.4h.7M402.3 120.7h.7M456.3 108.2h.7M470.8 101.8h.7M449.1 119.2h.7M432.1 112.7h.7M428.2 120.9h.7M447.0 115.9h.7M457.5 107.7h.7M452.3 104.0h.7M430.3 123.4h.7M454.9 114.6h.7M435.6 111.4h.7M436.0 117.5h.7M437.8 112.3h.7M441.0 109.8h.7M440.9 107.5h.7M420.4 120.9h.7M458.0 96.5h.7M453.8 115.3h.7M433.6 118.0h.7M457.2 104.6h.7M414.4 122.1h.7M430.9 118.4h.7M440.9 108.9h.7M432.8 110.2h.7M446.2 110.7h.7M441.3 108.0h.7M443.7 108.2h.7M441.9 110.3h.7M427.9 110.8h.7M402.4 120.0h.7M404.9 121.4h.7M416.9 116.3h.7M426.0 126.6h.7M429.3 112.5h.7M418.4 118.0h.7M424.9 112.7h.7M422.9 120.0h.7M425.4 120.1h.7M419.3 113.1h.7M416.1 117.4h.7M424.3 117.8h.7M422.6 123.7h.7M421.0 126.5h.7M425.5 112.3h.7M416.3 126.1h.7M417.1 125.8h.7M415.0 121.1h.7M427.1 111.5h.7M420.1 118.1h.7M423.4 125.9h.7M422.7 113.7h.7M427.8 115.8h.7M422.7 123.8h.7M418.4 124.4h.7M420.5 116.2h.7M415.8 115.8h.7M430.4 117.5h.7M427.1 113.3h.7M425.9 113.4h.7M422.4 119.2h.7M415.3 122.7h.7M419.3 116.7h.7M412.1 117.2h.7M432.0 116.9h.7M417.7 123.5h.7M411.3 118.0h.7M424.9 124.9h.7M422.8 119.8h.7M433.3 109.7h.7M445.1 107.8h.7M417.8 115.2h.7M409.3 122.4h.7M440.0 110.0h.7M415.0 122.6h.7M410.9 121.8h.7M424.6 109.8h.7M417.1 119.7h.7M415.5 120.9h.7M404.0 123.2h.7M414.3 117.6h.7M433.2 124.0h.7M425.9 114.7h.7M432.8 118.1h.7M413.7 124.4h.7M415.7 123.7h.7M429.2 121.8h.7M410.8 122.3h.7M418.6 115.5h.7M424.4 121.5h.7M407.5 121.6h.7M409.0 118.2h.7M412.4 127.9h.7M413.8 120.3h.7M429.7 121.2h.7M429.7 108.6h.7M424.5 111.5h.7M414.1 120.2h.7M417.3 128.8h.7M419.9 124.8h.7M418.4 120.3h.7M424.9 120.3h.7M422.3 112.2h.7M424.7 119.8h.7M425.1 118.2h.7M422.0 114.1h.7M428.4 112.5h.7M433.2 120.0h.7M419.1 119.1h.7M426.3 116.8h.7M410.1 124.2h.7M409.0 121.6h.7M436.4 118.2h.7M416.0 120.9h.7M414.4 121.7h.7M408.3 126.4h.7M419.4 117.7h.7M415.6 119.4h.7M414.4 119.7h.7M432.0 119.0h.7M424.0 120.2h.7M407.5 114.1h.7M433.8 118.6h.7M422.2 120.5h.7M421.8 119.5h.7M415.2 112.4h.7M424.9 118.7h.7M428.8 118.5h.7M418.2 123.0h.7M421.1 117.9h.7M416.3 119.4h.7M416.9 119.1h.7M431.8 128.2h.7M420.3 124.5h.7M399.3 113.2h.7M415.7 120.7h.7M412.1 116.9h.7M412.1 120.4h.7M420.9 118.3h.7M409.3 121.8h.7M432.0 112.7h.7M421.7 123.6h.7M412.4 120.0h.7M446.3 116.9h.7M415.7 122.0h.7M421.0 120.3h.7M423.7 117.6h.7M399.8 122.3h.7M419.7 114.5h.7M419.0 126.4h.7M421.3 116.9h.7M422.4 123.5h.7M403.8 119.9h.7M413.8 120.1h.7M418.6 118.1h.7M421.0 120.0h.7M409.3 120.8h.7M409.7 124.4h.7M423.0 121.7h.7M411.9 120.4h.7M400.9 125.9h.7M406.5 125.6h.7M429.8 118.8h.7M425.7 119.2h.7M424.3 122.5h.7M433.2 124.1h.7M418.7 123.8h.7M427.9 119.3h.7M420.8 114.6h.7M428.3 113.8h.7M413.4 118.6h.7M423.7 114.9h.7M424.6 120.9h.7M420.5 118.5h.7M426.6 123.3h.7M414.8 117.3h.7M413.8 118.3h.7M417.8 120.1h.7M412.5 120.6h.7M400.9 117.9h.7M411.5 123.5h.7M425.2 111.0h.7M423.6 125.0h.7M418.6 124.2h.7M421.6 115.7h.7M427.8 115.1h.7M422.6 117.6h.7M418.3 121.1h.7M429.4 110.3h.7M410.5 123.3h.7M428.1 116.7h.7M419.0 122.4h.7M432.5 112.5h.7M406.0 123.2h.7M425.1 113.1h.7M473.0 116.8h.7M467.6 94.3h.7M434.4 113.3h.7M459.2 113.7h.7M433.5 67.7h.7M472.9 117.6h.7M450.6 104.9h.7M462.2 114.4h.7M452.0 98.5h.7M439.4 117.9h.7M456.6 62.1h.7M460.5 97.8h.7M434.7 98.5h.7M434.6 99.3h.7M446.3 111.4h.7M438.8 82.1h.7M445.3 87.7h.7M466.8 102.4h.7M428.3 94.0h.7M454.5 104.5h.7M425.6 103.4h.7M459.7 117.4h.7M472.5 103.4h.7M434.2 100.3h.7M465.4 93.4h.7M475.1 92.9h.7M437.0 115.4h.7M453.4 109.0h.7M450.1 105.4h.7M445.7 128.8h.7M465.4 103.4h.7M462.5 115.5h.7M446.6 107.2h.7M458.3 97.9h.7M442.6 102.5h.7M450.2 99.9h.7M424.0 105.9h.7M465.4 105.9h.7M482.3 115.8h.7M449.3 96.5h.7M463.0 100.3h.7M429.2 106.5h.7M450.2 102.2h.7M464.8 107.4h.7M487.3 95.7h.7M453.4 108.9h.7M448.0 98.5h.7M482.9 86.7h.7M460.5 82.9h.7M460.4 80.8h.7M436.4 119.3h.7M479.6 106.6h.7M411.6 117.7h.7M458.9 91.1h.7M449.3 88.4h.7M453.5 103.9h.7M456.9 114.9h.7M444.7 77.3h.7M436.4 89.2h.7M449.1 99.5h.7M454.3 122.2h.7M455.4 91.5h.7M450.1 94.0h.7M451.1 112.3h.7M436.9 113.8h.7M483.5 124.1h.7M480.9 106.1h.7M433.4 130.1h.7M454.2 107.9h.7M449.3 93.2h.7M464.8 87.5h.7M433.1 111.9h.7M449.0 94.5h.7M462.9 122.8h.7M450.5 103.3h.7M463.9 116.7h.7M471.5 113.5h.7M444.4 111.7h.7M455.1 83.7h.7M474.7 112.2h.7M476.8 104.2h.7M466.6 104.1h.7M457.6 116.4h.7M455.9 112.6h.7M454.4 120.3h.7M465.4 84.3h.7M481.4 110.5h.7M446.9 97.2h.7M486.7 106.1h.7M463.1 112.4h.7M445.5 126.9h.7M488.5 95.3h.7M473.1 84.6h.7M449.6 105.8h.7M455.8 112.1h.7M461.4 109.7h.7M452.8 108.8h.7M446.2 129.5h.7M456.0 120.5h.7M456.7 103.1h.7M452.1 88.9h.7M488.1 110.2h.7M457.1 99.2h.7M475.4 100.9h.7M447.7 98.3h.7M479.5 108.9h.7M452.7 97.0h.7M475.4 108.6h.7M449.8 116.2h.7M469.0 92.6h.7M473.3 118.6h.7M451.2 88.4h.7M472.4 100.7h.7M451.8 101.4h.7M450.7 115.4h.7M437.7 111.6h.7M473.4 118.1h.7M466.5 108.3h.7M452.0 103.5h.7M441.2 125.8h.7" stroke="#333" stroke-width="0.7" fill="none" opacity="1"/>
<ellipse cx="455.8" cy="105.8" rx="14" ry="15" fill="#000" filter="url(#bl)"/>
<ellipse cx="461.8" cy="117.5" rx="6.6" ry="5.4" fill="#000" filter="url(#bl)"/>
<ellipse cx="466.6" cy="122.6" rx="7.6" ry="4.6" fill="#000" transform="rotate(10 466.6 122.6)" filter="url(#bl)"/>
<rect x="393.7" y="47.2" width="118.8" height="84.0" fill="none" stroke="#000" stroke-width="1.25"/>
<path d="M446.7 85.6 L461.2 85.6 L470.8 94.2 L470.8 108 L465 116 L443.3 115.4 L437.9 107.7 L437.9 94.2Z" fill="none" stroke="#000" stroke-width="1.8" stroke-linejoin="round"/>
<text transform="translate(476.73,103) scale(1.07,1)" font-size="12.7" stroke="#000" stroke-width="0.3">R2</text>
<path d="M30.6 47.3 L36.0 58.2 L25.200000000000003 58.2Z" fill="#000"/>
<line x1="30.6" y1="57" x2="30.6" y2="71.5" stroke="#000" stroke-width="1.3"/>
<line x1="30.6" y1="107.5" x2="30.6" y2="143.55" stroke="#000" stroke-width="1.3"/>
<line x1="29.95" y1="142.9" x2="262" y2="142.45" stroke="#000" stroke-width="1.3"/>
<line x1="305" y1="142.35" x2="503" y2="142.0" stroke="#000" stroke-width="1.3"/>
<path d="M512.6 142.0 L502.2 136.5 L502.2 147.5Z" fill="#000"/>
<text transform="translate(29.9,102.26) rotate(-90) scale(1,1.07)" font-size="13.7" stroke="#000" stroke-width="0.3">SSC</text>
<text transform="translate(265.81,147.5) scale(1.07,1)" font-size="12.59" stroke="#000" stroke-width="0.3">CD45</text>
<path d="M47.0 249.0 L47.8 248.8 L48.6 248.6 L49.4 248.4 L50.1 248.1 L50.9 247.7 L51.7 247.2 L52.5 246.7 L53.3 246.0 L54.1 245.2 L54.9 244.2 L55.6 243.0 L56.4 241.6 L57.2 240.0 L58.0 238.1 L58.8 235.9 L59.6 233.3 L60.4 230.4 L61.1 227.0 L61.9 223.3 L62.7 219.1 L63.5 214.5 L64.3 209.5 L65.1 204.1 L65.9 198.4 L66.6 192.4 L67.4 186.5 L68.2 180.6 L69.0 175.3 L69.8 170.9 L70.4 168.9 L70.6 168.9 L71.4 169.5 L72.1 171.8 L72.9 176.0 L73.7 182.2 L74.5 190.2 L75.3 199.4 L76.1 209.1 L76.9 218.5 L77.6 227.0 L78.4 234.0 L79.2 239.5 L80.0 243.4 L80.8 246.1 L81.6 247.7 L82.4 248.7 L83.1 249.2 L83.9 249.4 L84.7 249.5 L85.5 249.6 L86.3 249.6 L87.1 249.6 L87.9 249.6 L88.6 249.6 L89.4 249.6 L90.2 249.6 L91.0 249.6 L91.8 249.6 L92.6 249.6 L93.4 249.6 L94.1 249.6 L94.9 249.6 L95.7 249.6 L96.5 249.6 L97.3 249.6 L98.1 249.6 L98.9 249.6 L99.6 249.6 L100.4 249.6 L101.2 249.6 L102.0 249.6 L102.0 249.6 L47.0 249.6Z" fill="#fff" stroke="#000" stroke-width="1.5" stroke-linejoin="round"/>
<path d="M47.0 249.2 L47.8 249.1 L48.5 249.0 L49.3 248.8 L50.0 248.7 L50.8 248.4 L51.5 248.1 L52.3 247.8 L53.1 247.3 L53.8 246.8 L54.6 246.2 L55.3 245.4 L56.1 244.5 L56.8 243.5 L57.6 242.2 L58.4 240.8 L59.1 239.1 L59.9 237.2 L60.6 235.0 L61.4 232.5 L62.1 229.6 L62.9 226.5 L63.7 223.1 L64.4 219.3 L65.2 215.3 L65.9 211.1 L66.7 206.7 L67.4 202.3 L68.2 198.0 L69.0 194.0 L69.7 190.7 L70.5 188.6 L70.5 188.6 L71.2 189.1 L72.0 191.1 L72.7 195.3 L73.5 201.3 L74.3 208.8 L75.0 217.1 L75.8 225.2 L76.5 232.4 L77.3 238.3 L78.0 242.7 L78.8 245.7 L79.6 247.5 L80.3 248.6 L81.1 249.2 L81.8 249.4 L82.6 249.5 L83.3 249.6 L84.1 249.6 L84.9 249.6 L85.6 249.6 L86.4 249.6 L87.1 249.6 L87.9 249.6 L88.6 249.6 L89.4 249.6 L90.2 249.6 L90.9 249.6 L91.7 249.6 L92.4 249.6 L93.2 249.6 L93.9 249.6 L94.7 249.6 L95.5 249.6 L96.2 249.6 L97.0 249.6 L97.7 249.6 L98.5 249.6 L99.2 249.6 L100.0 249.6 L100.0 249.6 L47.0 249.6Z" fill="#c6c6c6" stroke="#000" stroke-width="1.5" stroke-linejoin="round"/>
<line x1="47" y1="249.6" x2="103" y2="249.6" stroke="#000" stroke-width="1.4"/>
<line x1="84" y1="198.5" x2="70.8" y2="208" stroke="#000" stroke-width="1.3"/>
<text transform="translate(82.98,200.7) scale(1.07,1)" font-size="12.01" stroke="#000" stroke-width="0.3">R1</text>
<rect x="46.6" y="166.2" width="117.6" height="84.1" fill="none" stroke="#000" stroke-width="1.25"/>
<path d="M223.7 249.6 L223.7 236.1 L228 222.3 L232.3 201.5 L235.8 184.2 L238.4 173.8 L239.3 171.2 L240.1 171.2 L241 173.8 L242.3 194.6 L243.5 220.6 L244.8 243 L246.1 249.4Z" fill="#fff" stroke="#000" stroke-width="1.5" stroke-linejoin="round"/>
<path d="M223.7 249.6 L223.7 238.7 L226.8 229.5 L229.7 220.6 L234 206.7 L236.6 197.4 L237.6 195.7 L238.4 195.7 L240.1 201.5 L241.8 217.1 L243.5 241.3 L244.4 249.4Z" fill="#c6c6c6" stroke="#000" stroke-width="1.5" stroke-linejoin="round"/>
<path d="M246.8 249.8 L247.9 249.1 L252.2 245.6 L258.3 238.7 L265.2 230 L269.2 226 L271.4 226 L274.7 229.2 L280.7 239.6 L284.2 243.9 L289.4 247.4 L296.3 249.1 L302 249.8Z" fill="#000" stroke="#000" stroke-width="0.8" stroke-linejoin="round"/>
<line x1="252.2" y1="200.1" x2="237.8" y2="207" stroke="#000" stroke-width="1.3"/>
<line x1="295" y1="236.1" x2="283.3" y2="243.4" stroke="#000" stroke-width="1.3"/>
<text transform="translate(250.79,200.7) scale(1.07,1)" font-size="11.86" stroke="#000" stroke-width="0.3">R1</text>
<text transform="translate(294.08,237.6) scale(1.07,1)" font-size="12.06" stroke="#000" stroke-width="0.3">R2</text>
<rect x="223" y="166.2" width="117.8" height="84.2" fill="none" stroke="#000" stroke-width="1.25"/>
<path d="M398.0 249.6 L398.7 249.5 L399.3 249.5 L400.0 249.5 L400.7 249.4 L401.4 249.3 L402.0 249.2 L402.7 249.0 L403.4 248.7 L404.0 248.3 L404.7 247.8 L405.4 247.2 L406.1 246.4 L406.7 245.3 L407.4 244.0 L408.1 242.4 L408.7 240.4 L409.4 238.0 L410.1 235.2 L410.8 231.9 L411.4 228.2 L412.1 224.1 L412.8 219.6 L413.4 214.8 L414.1 209.7 L414.8 204.5 L415.5 199.2 L416.1 194.2 L416.8 189.4 L417.5 185.1 L418.1 181.4 L418.8 178.5 L419.5 176.4 L420.2 175.2 L420.6 175.0 L420.8 175.1 L421.5 176.4 L422.2 179.2 L422.8 183.4 L423.5 188.6 L424.2 194.5 L424.9 201.0 L425.5 207.6 L426.2 214.0 L426.9 220.1 L427.5 225.7 L428.2 230.6 L428.9 234.9 L429.6 238.4 L430.2 241.3 L430.9 243.5 L431.6 245.3 L432.2 246.6 L432.9 247.5 L433.6 248.2 L434.3 248.7 L434.9 249.0 L435.6 249.2 L436.3 249.4 L436.9 249.5 L437.6 249.5 L438.3 249.6 L439.0 249.6 L439.6 249.6 L440.3 249.6 L441.0 249.6 L441.6 249.6 L442.3 249.6 L443.0 249.6 L443.7 249.6 L444.3 249.6 L445.0 249.6 L445.0 249.6 L398.0 249.6Z" fill="#fff" stroke="#000" stroke-width="1.5" stroke-linejoin="round"/>
<path d="M402.0 249.6 L403.0 249.6 L404.1 249.6 L405.1 249.6 L406.1 249.6 L407.1 249.6 L408.2 249.5 L409.2 249.5 L410.2 249.5 L411.3 249.4 L412.3 249.3 L413.3 249.1 L414.3 248.9 L415.4 248.6 L416.4 248.2 L417.4 247.7 L418.5 247.0 L419.5 246.0 L420.5 244.8 L421.5 243.3 L422.6 241.5 L423.6 239.2 L424.6 236.5 L425.7 233.3 L426.7 229.7 L427.7 225.6 L428.7 221.0 L429.8 216.1 L430.8 210.9 L431.8 205.5 L432.9 200.0 L433.9 194.7 L434.9 189.7 L435.9 185.2 L437.0 181.2 L438.0 178.1 L439.0 175.9 L440.1 174.7 L440.7 174.5 L441.1 174.6 L442.1 175.9 L443.1 178.5 L444.2 182.3 L445.2 187.2 L446.2 192.8 L447.3 198.9 L448.3 205.2 L449.3 211.5 L450.3 217.5 L451.4 223.1 L452.4 228.1 L453.4 232.5 L454.5 236.3 L455.5 239.4 L456.5 241.9 L457.5 244.0 L458.6 245.5 L459.6 246.7 L460.6 247.6 L461.7 248.2 L462.7 248.7 L463.7 249.0 L464.7 249.2 L465.8 249.4 L466.8 249.5 L467.8 249.5 L468.9 249.5 L469.9 249.6 L470.9 249.6 L471.9 249.6 L473.0 249.6 L474.0 249.6 L474.0 249.6 L402.0 249.6Z" fill="#000" stroke="#000" stroke-width="1" stroke-linejoin="round"/>
<line x1="462.3" y1="236.4" x2="452" y2="243" stroke="#000" stroke-width="1.3"/>
<text transform="translate(461.24,238) scale(1.07,1)" font-size="12.54" stroke="#000" stroke-width="0.3">R2</text>
<rect x="395" y="166.2" width="117.7" height="84.1" fill="none" stroke="#000" stroke-width="1.25"/>
<path d="M30.7 167.2 L36.1 178.4 L25.299999999999997 178.4Z" fill="#000"/>
<line x1="30.7" y1="177" x2="30.7" y2="186.3" stroke="#000" stroke-width="1.3"/>
<line x1="30.7" y1="236.6" x2="30.7" y2="264.95" stroke="#000" stroke-width="1.3"/>
<line x1="30.05" y1="264.3" x2="256.6" y2="264.5" stroke="#000" stroke-width="1.3"/>
<line x1="312.3" y1="264.55" x2="503" y2="264.7" stroke="#000" stroke-width="1.3"/>
<path d="M512.6 264.7 L502.2 259.2 L502.2 270.2Z" fill="#000"/>
<text transform="translate(34.4,231.39) rotate(-90) scale(1,1.07)" font-size="13.47" stroke="#000" stroke-width="0.3">Count</text>
<text transform="translate(261.64,273) scale(1.07,1)" font-size="12.54" stroke="#000" stroke-width="0.3">ULBP1</text>
<text transform="scale(1.07,1)" y="294" font-size="12.85" stroke="#000" stroke-width="0.3"><tspan x="116.10">R1</tspan> <tspan x="136.23">=</tspan> <tspan x="146.97">myeloblastic</tspan> <tspan x="229.91">cells</tspan></text>
<text transform="scale(1.07,1)" y="294" font-size="12.85" stroke="#000" stroke-width="0.3"><tspan x="271.42">R2</tspan> <tspan x="291.65">=</tspan> <tspan x="302.58">monoblastic</tspan> <tspan x="382.80">cells</tspan></text>
<line x1="48.4" y1="354.6" x2="48.4" y2="469.65" stroke="#000" stroke-width="1.5"/>
<line x1="47.65" y1="468.9" x2="259.5" y2="468.9" stroke="#000" stroke-width="1.5"/>
<line x1="44.199999999999996" y1="468.9" x2="48.4" y2="468.9" stroke="#000" stroke-width="1.4"/>
<text transform="translate(33.39,473.30) scale(1.07,1)" font-size="12.0" stroke="#000" stroke-width="0.3">0</text>
<line x1="44.199999999999996" y1="440.5" x2="48.4" y2="440.5" stroke="#000" stroke-width="1.4"/>
<text transform="translate(33.23,444.90) scale(1.07,1)" font-size="12.0" stroke="#000" stroke-width="0.3">5</text>
<line x1="44.199999999999996" y1="412.1" x2="48.4" y2="412.1" stroke="#000" stroke-width="1.4"/>
<text transform="translate(26.26,416.50) scale(1.07,1)" font-size="12.0" stroke="#000" stroke-width="0.3">10</text>
<line x1="44.199999999999996" y1="383.7" x2="48.4" y2="383.7" stroke="#000" stroke-width="1.4"/>
<text transform="translate(26.10,388.10) scale(1.07,1)" font-size="12.0" stroke="#000" stroke-width="0.3">15</text>
<line x1="44.199999999999996" y1="355.3" x2="48.4" y2="355.3" stroke="#000" stroke-width="1.4"/>
<text transform="translate(26.26,359.70) scale(1.07,1)" font-size="12.0" stroke="#000" stroke-width="0.3">20</text>
<line x1="101.8" y1="468.9" x2="101.8" y2="471.9" stroke="#000" stroke-width="1.3"/>
<line x1="208.4" y1="468.9" x2="208.4" y2="471.9" stroke="#000" stroke-width="1.3"/>
<text transform="translate(125.84,350) scale(1.07,1)" font-size="12.6" stroke="#000" stroke-width="0.3">ULBP1</text>
<text y="378.6" font-size="10.4" stroke="#000" stroke-width="0.25"><tspan x="125.62" font-style="italic">P</tspan> <tspan x="136.86">&lt;</tspan> <tspan x="148.60">.0001</tspan></text>
<path d="M98.3 391.40000000000003 L98.3 383.1 L200.6 383.1 L200.6 391.40000000000003" fill="none" stroke="#000" stroke-width="1.15"/>
<line x1="49.5" y1="462.1" x2="155" y2="462.1" stroke="#000" stroke-width="1.15"/>
<line x1="154.5" y1="436.2" x2="259.5" y2="436.2" stroke="#000" stroke-width="1.15"/>
<path d="M49.1 465.7L51.5 463.2L54.0 465.7L51.5 468.1ZM56.5 465.7L59.0 463.2L61.4 465.7L59.0 468.1ZM64.0 465.7L66.4 463.2L68.9 465.7L66.4 468.1ZM71.4 465.7L73.9 463.2L76.3 465.7L73.9 468.1ZM78.9 465.7L81.3 463.2L83.8 465.7L81.3 468.1ZM86.3 465.7L88.8 463.2L91.2 465.7L88.8 468.1ZM93.8 465.7L96.2 463.2L98.7 465.7L96.2 468.1ZM101.2 465.7L103.7 463.2L106.1 465.7L103.7 468.1ZM108.7 465.7L111.1 463.2L113.6 465.7L111.1 468.1ZM116.1 465.7L118.6 463.2L121.0 465.7L118.6 468.1ZM123.6 465.7L126.0 463.2L128.5 465.7L126.0 468.1ZM131.0 465.7L133.5 463.2L135.9 465.7L133.5 468.1ZM138.5 465.7L140.9 463.2L143.4 465.7L140.9 468.1ZM145.9 465.7L148.4 463.2L150.8 465.7L148.4 468.1ZM52.8 465.4L55.2 462.9L57.7 465.4L55.2 467.8ZM60.2 465.4L62.7 462.9L65.1 465.4L62.7 467.8ZM67.7 465.4L70.1 462.9L72.6 465.4L70.1 467.8ZM75.1 465.4L77.6 462.9L80.0 465.4L77.6 467.8ZM82.6 465.4L85.0 462.9L87.5 465.4L85.0 467.8ZM90.0 465.4L92.5 462.9L94.9 465.4L92.5 467.8ZM97.5 465.4L99.9 462.9L102.4 465.4L99.9 467.8ZM104.9 465.4L107.4 462.9L109.8 465.4L107.4 467.8ZM112.4 465.4L114.8 462.9L117.3 465.4L114.8 467.8ZM119.8 465.4L122.3 462.9L124.7 465.4L122.3 467.8ZM127.3 465.4L129.7 462.9L132.2 465.4L129.7 467.8ZM134.7 465.4L137.2 462.9L139.6 465.4L137.2 467.8ZM142.2 465.4L144.6 462.9L147.1 465.4L144.6 467.8ZM50.9 464.9L53.4 462.4L55.8 464.9L53.4 467.3ZM58.4 464.9L60.8 462.4L63.3 464.9L60.8 467.3ZM65.8 464.9L68.3 462.4L70.7 464.9L68.3 467.3ZM73.3 464.9L75.7 462.4L78.2 464.9L75.7 467.3ZM80.7 464.9L83.2 462.4L85.6 464.9L83.2 467.3ZM88.2 464.9L90.6 462.4L93.1 464.9L90.6 467.3ZM95.6 464.9L98.1 462.4L100.5 464.9L98.1 467.3ZM103.1 464.9L105.5 462.4L108.0 464.9L105.5 467.3ZM110.5 464.9L113.0 462.4L115.4 464.9L113.0 467.3ZM118.0 464.9L120.4 462.4L122.9 464.9L120.4 467.3ZM125.4 464.9L127.9 462.4L130.3 464.9L127.9 467.3ZM132.9 464.9L135.3 462.4L137.8 464.9L135.3 467.3ZM140.3 464.9L142.8 462.4L145.2 464.9L142.8 467.3ZM147.8 464.9L150.2 462.4L152.7 464.9L150.2 467.3ZM54.6 462.0L57.1 459.6L59.5 462.0L57.1 464.4ZM62.1 462.0L64.5 459.6L67.0 462.0L64.5 464.4ZM69.5 462.0L72.0 459.6L74.5 462.0L72.0 464.4ZM77.0 462.0L79.4 459.6L81.9 462.0L79.4 464.4ZM121.7 462.0L124.2 459.6L126.6 462.0L124.2 464.4ZM129.2 462.0L131.6 459.6L134.0 462.0L131.6 464.4ZM136.6 462.0L139.1 459.6L141.5 462.0L139.1 464.4ZM144.1 462.0L146.5 459.6L148.9 462.0L146.5 464.4ZM84.4 460.4L86.9 457.9L89.3 460.4L86.9 462.8ZM91.9 460.4L94.3 457.9L96.8 460.4L94.3 462.8ZM99.3 460.4L101.8 457.9L104.2 460.4L101.8 462.8ZM106.8 460.4L109.2 457.9L111.7 460.4L109.2 462.8ZM114.2 460.4L116.7 457.9L119.2 460.4L116.7 462.8ZM92.1 451.2L94.6 448.8L97.0 451.2L94.6 453.6ZM99.5 451.2L101.9 448.8L104.4 451.2L101.9 453.6ZM106.8 450.8L109.2 448.4L111.7 450.8L109.2 453.2Z" fill="#fff" stroke="#000" stroke-width="1.0"/>
<circle cx="201.5" cy="363" r="3.1"/>
<circle cx="208.8" cy="363" r="3.1"/>
<circle cx="208.8" cy="400.7" r="3.1"/>
<circle cx="194.1" cy="417" r="3.1"/>
<circle cx="201.4" cy="417" r="3.1"/>
<circle cx="208.8" cy="417" r="3.1"/>
<circle cx="216" cy="417" r="3.1"/>
<circle cx="223.3" cy="417" r="3.1"/>
<circle cx="201.3" cy="431.6" r="3.1"/>
<circle cx="208.8" cy="434.9" r="3.1"/>
<circle cx="216" cy="433.7" r="3.1"/>
<circle cx="201.3" cy="442" r="3.1"/>
<circle cx="208.8" cy="443.7" r="3.1"/>
<circle cx="171.9" cy="459.3" r="3.1"/>
<circle cx="179.4" cy="460.8" r="3.1"/>
<circle cx="186.6" cy="461.7" r="3.1"/>
<circle cx="194.1" cy="462.7" r="3.1"/>
<circle cx="201.3" cy="463.9" r="3.1"/>
<circle cx="208.8" cy="464.4" r="3.1"/>
<circle cx="216" cy="463.9" r="3.1"/>
<circle cx="223.3" cy="463.4" r="3.1"/>
<circle cx="230.7" cy="462.7" r="3.1"/>
<circle cx="238" cy="461" r="3.1"/>
<circle cx="245.1" cy="460" r="3.1"/>
<text transform="translate(56.56,482.9) scale(1.07,1)" font-size="12.82" stroke="#000" stroke-width="0.3">myeloblastic</text>
<text transform="translate(163.86,482.9) scale(1.07,1)" font-size="12.82" stroke="#000" stroke-width="0.3">monoblastic</text>
<text transform="translate(74.46,500.6) scale(1.07,1)" font-size="12.92" stroke="#000" stroke-width="0.3">(n = 65)</text>
<text transform="translate(181.76,500.6) scale(1.07,1)" font-size="12.92" stroke="#000" stroke-width="0.3">(n = 24)</text>
<text transform="translate(15.3,422.98) rotate(-90) scale(1,1.07)" font-size="13.73" stroke="#000" stroke-width="0.3">MFI-R</text>
<line x1="299.5" y1="354.6" x2="299.5" y2="469.65" stroke="#000" stroke-width="1.5"/>
<line x1="298.75" y1="468.9" x2="511.7" y2="468.9" stroke="#000" stroke-width="1.5"/>
<line x1="295.3" y1="468.9" x2="299.5" y2="468.9" stroke="#000" stroke-width="1.4"/>
<text transform="translate(284.59,473.30) scale(1.07,1)" font-size="12.0" stroke="#000" stroke-width="0.3">0</text>
<line x1="295.3" y1="440.5" x2="299.5" y2="440.5" stroke="#000" stroke-width="1.4"/>
<text transform="translate(284.43,444.90) scale(1.07,1)" font-size="12.0" stroke="#000" stroke-width="0.3">5</text>
<line x1="295.3" y1="412.1" x2="299.5" y2="412.1" stroke="#000" stroke-width="1.4"/>
<text transform="translate(277.46,416.50) scale(1.07,1)" font-size="12.0" stroke="#000" stroke-width="0.3">10</text>
<line x1="295.3" y1="383.7" x2="299.5" y2="383.7" stroke="#000" stroke-width="1.4"/>
<text transform="translate(277.30,388.10) scale(1.07,1)" font-size="12.0" stroke="#000" stroke-width="0.3">15</text>
<line x1="295.3" y1="355.3" x2="299.5" y2="355.3" stroke="#000" stroke-width="1.4"/>
<text transform="translate(277.46,359.70) scale(1.07,1)" font-size="12.0" stroke="#000" stroke-width="0.3">20</text>
<line x1="352.5" y1="468.9" x2="352.5" y2="471.9" stroke="#000" stroke-width="1.3"/>
<line x1="459.4" y1="468.9" x2="459.4" y2="471.9" stroke="#000" stroke-width="1.3"/>
<text transform="translate(387.43,351.8) scale(1.07,1)" font-size="12.79" stroke="#000" stroke-width="0.3">ULBP2</text>
<text y="378.2" font-size="10.4" stroke="#000" stroke-width="0.25"><tspan x="381.82" font-style="italic">P</tspan> <tspan x="393.46">&lt;</tspan> <tspan x="404.20">.0001</tspan></text>
<path d="M355.8 391.3 L355.8 383 L457.3 383 L457.3 391.3" fill="none" stroke="#000" stroke-width="1.15"/>
<line x1="300.5" y1="463.4" x2="403" y2="463.4" stroke="#000" stroke-width="1.15"/>
<line x1="406.2" y1="447" x2="512" y2="447" stroke="#000" stroke-width="1.15"/>
<path d="M328.5 465.2L330.9 462.8L333.4 465.2L330.9 467.6ZM335.5 465.2L337.9 462.8L340.4 465.2L337.9 467.6ZM342.5 465.2L344.9 462.8L347.4 465.2L344.9 467.6ZM349.5 465.2L351.9 462.8L354.4 465.2L351.9 467.6ZM356.5 465.2L358.9 462.8L361.4 465.2L358.9 467.6ZM363.5 465.2L365.9 462.8L368.4 465.2L365.9 467.6ZM370.5 465.2L372.9 462.8L375.4 465.2L372.9 467.6ZM304.0 463.1L306.4 460.7L308.9 463.1L306.4 465.6ZM311.0 463.1L313.4 460.7L315.9 463.1L313.4 465.6ZM318.0 463.1L320.4 460.7L322.9 463.1L320.4 465.6ZM325.0 463.1L327.4 460.7L329.9 463.1L327.4 465.6ZM332.0 463.1L334.4 460.7L336.9 463.1L334.4 465.6ZM339.0 463.1L341.4 460.7L343.9 463.1L341.4 465.6ZM346.0 463.1L348.4 460.7L350.9 463.1L348.4 465.6ZM353.0 463.1L355.4 460.7L357.9 463.1L355.4 465.6ZM360.0 463.1L362.4 460.7L364.9 463.1L362.4 465.6ZM367.0 463.1L369.4 460.7L371.9 463.1L369.4 465.6ZM374.0 463.1L376.4 460.7L378.9 463.1L376.4 465.6ZM381.0 463.1L383.4 460.7L385.9 463.1L383.4 465.6ZM388.0 463.1L390.4 460.7L392.9 463.1L390.4 465.6ZM395.0 463.1L397.4 460.7L399.9 463.1L397.4 465.6ZM335.4 460.2L337.8 457.8L340.2 460.2L337.8 462.6ZM342.4 460.6L344.8 458.2L347.2 460.6L344.8 463.1ZM350.2 458.6L352.6 456.2L355.1 458.6L352.6 461.1ZM357.9 460.6L360.4 458.2L362.8 460.6L360.4 463.1ZM365.2 460.8L367.6 458.4L370.1 460.8L367.6 463.2Z" fill="#fff" stroke="#000" stroke-width="1.0"/>
<circle cx="452.5" cy="419.2" r="3.1"/>
<circle cx="459.5" cy="419.2" r="3.1"/>
<circle cx="467" cy="418" r="3.1"/>
<circle cx="459.5" cy="429.2" r="3.1"/>
<circle cx="459.5" cy="437.5" r="3.1"/>
<circle cx="452.5" cy="441.7" r="3.1"/>
<circle cx="467" cy="441.7" r="3.1"/>
<circle cx="459.5" cy="447.5" r="3.1"/>
<circle cx="452.5" cy="453" r="3.1"/>
<circle cx="459.5" cy="455" r="3.1"/>
<circle cx="438.2" cy="462.5" r="3.1"/>
<circle cx="445.5" cy="463.7" r="3.1"/>
<circle cx="452.5" cy="464.2" r="3.1"/>
<circle cx="459.5" cy="464.5" r="3.1"/>
<circle cx="467" cy="463.7" r="3.1"/>
<circle cx="474.2" cy="463.7" r="3.1"/>
<circle cx="481.5" cy="463" r="3.1"/>
<circle cx="489" cy="461" r="3.1"/>
<text transform="translate(311.96,483.3) scale(1.07,1)" font-size="12.85" stroke="#000" stroke-width="0.3">myeloblastic</text>
<text transform="translate(426.95,483.3) scale(1.07,1)" font-size="12.98" stroke="#000" stroke-width="0.3">monoblastic</text>
<text transform="translate(329.86,501.2) scale(1.07,1)" font-size="12.92" stroke="#000" stroke-width="0.3">(n = 49)</text>
<text transform="translate(445.47,501.2) scale(1.07,1)" font-size="12.73" stroke="#000" stroke-width="0.3">(n = 18)</text>
<line x1="45" y1="538.0" x2="45" y2="652.95" stroke="#000" stroke-width="1.5"/>
<line x1="44.25" y1="652.2" x2="256.9" y2="652.2" stroke="#000" stroke-width="1.5"/>
<line x1="40.8" y1="652.2" x2="45" y2="652.2" stroke="#000" stroke-width="1.4"/>
<text transform="translate(30.59,656.60) scale(1.07,1)" font-size="12.0" stroke="#000" stroke-width="0.3">0</text>
<line x1="40.8" y1="623.83" x2="45" y2="623.83" stroke="#000" stroke-width="1.4"/>
<text transform="translate(30.43,628.23) scale(1.07,1)" font-size="12.0" stroke="#000" stroke-width="0.3">5</text>
<line x1="40.8" y1="595.45" x2="45" y2="595.45" stroke="#000" stroke-width="1.4"/>
<text transform="translate(23.46,599.85) scale(1.07,1)" font-size="12.0" stroke="#000" stroke-width="0.3">10</text>
<line x1="40.8" y1="567.08" x2="45" y2="567.08" stroke="#000" stroke-width="1.4"/>
<text transform="translate(23.30,571.48) scale(1.07,1)" font-size="12.0" stroke="#000" stroke-width="0.3">15</text>
<line x1="40.8" y1="538.7" x2="45" y2="538.7" stroke="#000" stroke-width="1.4"/>
<text transform="translate(23.46,543.10) scale(1.07,1)" font-size="12.0" stroke="#000" stroke-width="0.3">20</text>
<line x1="97.9" y1="652.2" x2="97.9" y2="655.2" stroke="#000" stroke-width="1.3"/>
<line x1="204.7" y1="652.2" x2="204.7" y2="655.2" stroke="#000" stroke-width="1.3"/>
<text transform="translate(125.82,535.3) scale(1.07,1)" font-size="12.92" stroke="#000" stroke-width="0.3">ULBP3</text>
<text y="563.4" font-size="10.4" stroke="#000" stroke-width="0.25"><tspan x="125.12" font-style="italic">P</tspan> <tspan x="137.06">&lt;</tspan> <tspan x="148.30">.0001</tspan></text>
<path d="M98.5 576.5 L98.5 567.2 L200.3 567.2 L200.3 576.5" fill="none" stroke="#000" stroke-width="1.15"/>
<line x1="46" y1="644.6" x2="152" y2="644.6" stroke="#000" stroke-width="1.15"/>
<line x1="152" y1="630.7" x2="257.5" y2="630.7" stroke="#000" stroke-width="1.15"/>
<path d="M53.9 647.3L56.4 644.8L58.8 647.3L56.4 649.8ZM61.6 647.3L64.0 644.8L66.5 647.3L64.0 649.8ZM69.2 647.3L71.6 644.8L74.1 647.3L71.6 649.8ZM76.8 647.3L79.2 644.8L81.7 647.3L79.2 649.8ZM84.4 647.3L86.9 644.8L89.3 647.3L86.9 649.8ZM92.0 647.3L94.5 644.8L96.9 647.3L94.5 649.8ZM99.7 647.3L102.1 644.8L104.6 647.3L102.1 649.8ZM107.3 647.3L109.7 644.8L112.2 647.3L109.7 649.8ZM114.9 647.3L117.3 644.8L119.8 647.3L117.3 649.8ZM122.5 647.3L125.0 644.8L127.4 647.3L125.0 649.8ZM130.1 647.3L132.6 644.8L135.0 647.3L132.6 649.8ZM137.8 647.3L140.2 644.8L142.7 647.3L140.2 649.8ZM50.1 646.3L52.6 643.8L55.0 646.3L52.6 648.8ZM57.7 646.3L60.2 643.8L62.6 646.3L60.2 648.8ZM65.4 646.3L67.8 643.8L70.3 646.3L67.8 648.8ZM73.0 646.3L75.4 643.8L77.9 646.3L75.4 648.8ZM80.6 646.3L83.1 643.8L85.5 646.3L83.1 648.8ZM88.2 646.3L90.7 643.8L93.1 646.3L90.7 648.8ZM95.8 646.3L98.3 643.8L100.8 646.3L98.3 648.8ZM103.5 646.3L105.9 643.8L108.4 646.3L105.9 648.8ZM111.1 646.3L113.5 643.8L116.0 646.3L113.5 648.8ZM118.7 646.3L121.2 643.8L123.6 646.3L121.2 648.8ZM126.3 646.3L128.8 643.8L131.2 646.3L128.8 648.8ZM134.0 646.3L136.4 643.8L138.8 646.3L136.4 648.8ZM141.6 646.3L144.0 643.8L146.5 646.3L144.0 648.8ZM61.6 643.8L64.0 641.3L66.5 643.8L64.0 646.2ZM69.2 643.8L71.6 641.3L74.1 643.8L71.6 646.2ZM76.8 643.8L79.2 641.3L81.7 643.8L79.2 646.2ZM84.4 643.8L86.9 641.3L89.3 643.8L86.9 646.2ZM92.0 643.8L94.5 641.3L96.9 643.8L94.5 646.2ZM99.7 643.8L102.1 641.3L104.6 643.8L102.1 646.2ZM107.3 643.8L109.7 641.3L112.2 643.8L109.7 646.2ZM114.9 643.8L117.3 641.3L119.8 643.8L117.3 646.2ZM122.5 643.8L125.0 641.3L127.4 643.8L125.0 646.2ZM130.1 643.8L132.6 641.3L135.0 643.8L132.6 646.2ZM73.0 641.0L75.4 638.5L77.9 641.0L75.4 643.5ZM80.6 641.0L83.1 638.5L85.5 641.0L83.1 643.5ZM88.2 641.0L90.7 638.5L93.1 641.0L90.7 643.5ZM95.8 641.0L98.3 638.5L100.8 641.0L98.3 643.5ZM103.5 641.0L105.9 638.5L108.4 641.0L105.9 643.5ZM111.1 641.0L113.5 638.5L116.0 641.0L113.5 643.5ZM118.7 640.2L121.2 637.8L123.6 640.2L121.2 642.7ZM57.7 641.6L60.2 639.1L62.6 641.6L60.2 644.1ZM66.3 637.4L68.8 634.9L71.2 637.4L68.8 639.9ZM95.8 633.0L98.2 630.5L100.7 633.0L98.2 635.5Z" fill="#fff" stroke="#000" stroke-width="1.0"/>
<circle cx="205" cy="585.2" r="3.1"/>
<circle cx="205" cy="604.7" r="3.1"/>
<circle cx="212.5" cy="602.2" r="3.1"/>
<circle cx="198" cy="616.5" r="3.1"/>
<circle cx="205" cy="618.5" r="3.1"/>
<circle cx="198" cy="624.7" r="3.1"/>
<circle cx="205" cy="627.7" r="3.1"/>
<circle cx="212.5" cy="625.2" r="3.1"/>
<circle cx="219.5" cy="623.5" r="3.1"/>
<circle cx="190.5" cy="633.2" r="3.1"/>
<circle cx="198" cy="637.2" r="3.1"/>
<circle cx="205" cy="639.5" r="3.1"/>
<circle cx="212.5" cy="637.7" r="3.1"/>
<circle cx="175.7" cy="643.2" r="3.1"/>
<circle cx="183" cy="645.2" r="3.1"/>
<circle cx="190.5" cy="646" r="3.1"/>
<circle cx="198" cy="646.5" r="3.1"/>
<circle cx="205" cy="647.7" r="3.1"/>
<circle cx="212.5" cy="647" r="3.1"/>
<circle cx="219.5" cy="646.5" r="3.1"/>
<circle cx="227" cy="645.7" r="3.1"/>
<circle cx="234.2" cy="644.7" r="3.1"/>
<text transform="translate(51.95,667.2) scale(1.07,1)" font-size="12.91" stroke="#000" stroke-width="0.3">myeloblastic</text>
<text transform="translate(169.86,667.2) scale(1.07,1)" font-size="12.82" stroke="#000" stroke-width="0.3">monoblastic</text>
<text transform="translate(69.86,684.5) scale(1.07,1)" font-size="12.92" stroke="#000" stroke-width="0.3">(n = 62)</text>
<text transform="translate(187.96,684.5) scale(1.07,1)" font-size="12.87" stroke="#000" stroke-width="0.3">(n = 22)</text>
<text transform="translate(13.7,605.75) rotate(-90) scale(1,1.07)" font-size="13.4" stroke="#000" stroke-width="0.3">MFI-R</text>
<line x1="300" y1="538.0" x2="300" y2="652.95" stroke="#000" stroke-width="1.5"/>
<line x1="299.25" y1="652.2" x2="511" y2="652.2" stroke="#000" stroke-width="1.5"/>
<line x1="295.8" y1="652.2" x2="300" y2="652.2" stroke="#000" stroke-width="1.4"/>
<text transform="translate(284.59,656.60) scale(1.07,1)" font-size="12.0" stroke="#000" stroke-width="0.3">0</text>
<line x1="295.8" y1="623.83" x2="300" y2="623.83" stroke="#000" stroke-width="1.4"/>
<text transform="translate(284.43,628.23) scale(1.07,1)" font-size="12.0" stroke="#000" stroke-width="0.3">5</text>
<line x1="295.8" y1="595.45" x2="300" y2="595.45" stroke="#000" stroke-width="1.4"/>
<text transform="translate(277.46,599.85) scale(1.07,1)" font-size="12.0" stroke="#000" stroke-width="0.3">10</text>
<line x1="295.8" y1="567.08" x2="300" y2="567.08" stroke="#000" stroke-width="1.4"/>
<text transform="translate(277.30,571.48) scale(1.07,1)" font-size="12.0" stroke="#000" stroke-width="0.3">15</text>
<line x1="295.8" y1="538.7" x2="300" y2="538.7" stroke="#000" stroke-width="1.4"/>
<text transform="translate(277.46,543.10) scale(1.07,1)" font-size="12.0" stroke="#000" stroke-width="0.3">20</text>
<line x1="352.8" y1="652.2" x2="352.8" y2="655.2" stroke="#000" stroke-width="1.3"/>
<line x1="459.5" y1="652.2" x2="459.5" y2="655.2" stroke="#000" stroke-width="1.3"/>
<text transform="translate(387.32,535.3) scale(1.07,1)" font-size="12.9" stroke="#000" stroke-width="0.3">MICA/B</text>
<text y="563.4" font-size="10.4" stroke="#000" stroke-width="0.25"><tspan x="386.92" font-style="italic">P</tspan> <tspan x="398.66">&lt;</tspan> <tspan x="409.50">.0001</tspan></text>
<path d="M357.6 576.5 L357.6 567.2 L458.9 567.2 L458.9 576.5" fill="none" stroke="#000" stroke-width="1.15"/>
<line x1="300.5" y1="645.1" x2="404" y2="645.1" stroke="#000" stroke-width="1.15"/>
<line x1="407" y1="619" x2="512" y2="619" stroke="#000" stroke-width="1.15"/>
<path d="M329.5 647.2L332.0 644.8L334.4 647.2L332.0 649.7ZM336.7 647.2L339.1 644.8L341.6 647.2L339.1 649.7ZM343.8 647.2L346.3 644.8L348.7 647.2L346.3 649.7ZM351.0 647.2L353.4 644.8L355.9 647.2L353.4 649.7ZM358.2 647.2L360.6 644.8L363.1 647.2L360.6 649.7ZM365.3 647.2L367.8 644.8L370.2 647.2L367.8 649.7ZM372.5 647.2L374.9 644.8L377.4 647.2L374.9 649.7ZM311.6 645.5L314.1 643.0L316.5 645.5L314.1 648.0ZM318.8 645.5L321.2 643.0L323.7 645.5L321.2 648.0ZM325.9 645.5L328.4 643.0L330.8 645.5L328.4 648.0ZM333.1 645.5L335.6 643.0L338.0 645.5L335.6 648.0ZM340.3 645.5L342.7 643.0L345.2 645.5L342.7 648.0ZM347.4 645.5L349.9 643.0L352.3 645.5L349.9 648.0ZM354.6 645.5L357.0 643.0L359.5 645.5L357.0 648.0ZM361.7 645.5L364.2 643.0L366.6 645.5L364.2 648.0ZM368.9 645.5L371.3 643.0L373.8 645.5L371.3 648.0ZM376.1 645.5L378.5 643.0L381.0 645.5L378.5 648.0ZM383.2 645.5L385.7 643.0L388.1 645.5L385.7 648.0ZM390.4 645.5L392.8 643.0L395.3 645.5L392.8 648.0ZM304.5 644.2L306.9 641.8L309.4 644.2L306.9 646.7ZM397.5 644.2L400.0 641.8L402.4 644.2L400.0 646.7ZM343.8 634.5L346.2 632.0L348.6 634.5L346.2 637.0ZM350.9 631.0L353.4 628.5L355.8 631.0L353.4 633.5ZM357.9 634.2L360.4 631.8L362.8 634.2L360.4 636.7ZM350.9 640.4L353.4 637.9L355.8 640.4L353.4 642.9Z" fill="#fff" stroke="#000" stroke-width="1.0"/>
<circle cx="460.5" cy="552.2" r="3.1"/>
<circle cx="460" cy="589" r="3.1"/>
<circle cx="453" cy="604" r="3.1"/>
<circle cx="468" cy="603.5" r="3.1"/>
<circle cx="453" cy="612.2" r="3.1"/>
<circle cx="460" cy="610.7" r="3.1"/>
<circle cx="468" cy="612.2" r="3.1"/>
<circle cx="460" cy="618.5" r="3.1"/>
<circle cx="453" cy="631" r="3.1"/>
<circle cx="460" cy="633.2" r="3.1"/>
<circle cx="445.5" cy="642.7" r="3.1"/>
<circle cx="453" cy="646" r="3.1"/>
<circle cx="460" cy="647" r="3.1"/>
<circle cx="468" cy="646.5" r="3.1"/>
<circle cx="475" cy="646" r="3.1"/>
<text transform="translate(311.56,667.2) scale(1.07,1)" font-size="12.82" stroke="#000" stroke-width="0.3">myeloblastic</text>
<text transform="translate(432.75,667.2) scale(1.07,1)" font-size="12.9" stroke="#000" stroke-width="0.3">monoblastic</text>
<text transform="translate(329.46,684.5) scale(1.07,1)" font-size="12.92" stroke="#000" stroke-width="0.3">(n = 47)</text>
<text transform="translate(450.66,684.5) scale(1.07,1)" font-size="12.82" stroke="#000" stroke-width="0.3">(n = 15)</text>
</svg>
</body></html>
